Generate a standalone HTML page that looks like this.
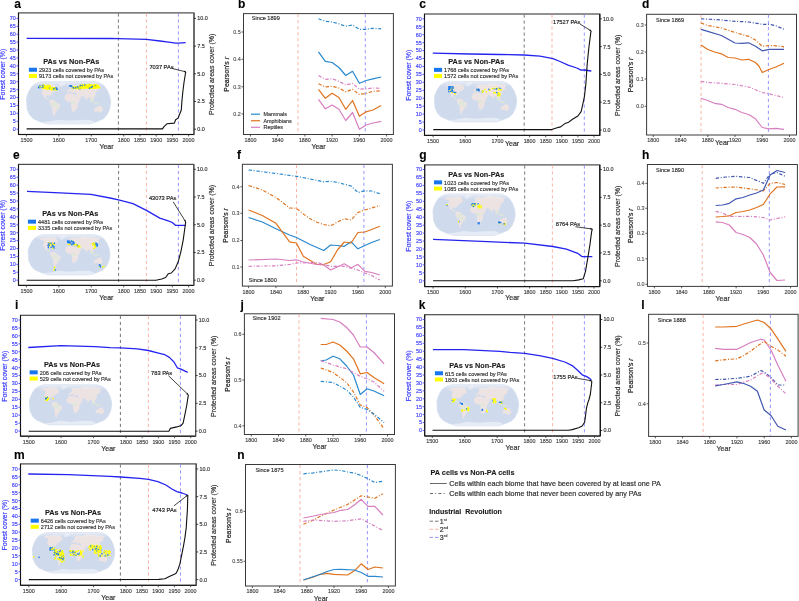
<!DOCTYPE html>
<html><head><meta charset="utf-8"><style>
html,body{margin:0;padding:0;background:#fff;}
svg{display:block;will-change:transform;}
text{font-family:"Liberation Sans", sans-serif;}
</style></head><body>
<svg width="799" height="601" viewBox="0 0 799 601">
<defs><linearGradient id="arc" x1="0" y1="0" x2="0" y2="1"><stop offset="0" stop-color="#f2f4f9" stop-opacity="0.85"/><stop offset="1" stop-color="#f2f4f9" stop-opacity="0"/></linearGradient></defs>
<rect width="799" height="601" fill="#fff"/>
<text x="14.30" y="8.20" font-size="12" fill="#000" text-anchor="start" font-weight="bold" stroke="#000" stroke-width="0.100">a</text>
<rect x="18.50" y="12.90" width="175.50" height="121.60" fill="none" stroke="#4a4a4a" stroke-width="1.2"/>
<line x1="18.50" y1="12.90" x2="18.50" y2="134.50" stroke="#111" stroke-width="1"/>
<line x1="18.50" y1="134.50" x2="194.00" y2="134.50" stroke="#111" stroke-width="1"/>
<line x1="194.00" y1="12.90" x2="194.00" y2="134.50" stroke="#555" stroke-width="1.2"/>
<line x1="16.50" y1="129.20" x2="18.50" y2="129.20" stroke="#3030ff" stroke-width="0.8"/>
<text x="15.70" y="131.10" font-size="5.4" fill="#3d3dff" text-anchor="end" stroke="#3d3dff" stroke-width="0.151">0</text>
<line x1="16.50" y1="121.29" x2="18.50" y2="121.29" stroke="#3030ff" stroke-width="0.8"/>
<text x="15.70" y="123.19" font-size="5.4" fill="#3d3dff" text-anchor="end" stroke="#3d3dff" stroke-width="0.151">5</text>
<line x1="16.50" y1="113.37" x2="18.50" y2="113.37" stroke="#3030ff" stroke-width="0.8"/>
<text x="15.70" y="115.27" font-size="5.4" fill="#3d3dff" text-anchor="end" stroke="#3d3dff" stroke-width="0.151">10</text>
<line x1="16.50" y1="105.46" x2="18.50" y2="105.46" stroke="#3030ff" stroke-width="0.8"/>
<text x="15.70" y="107.36" font-size="5.4" fill="#3d3dff" text-anchor="end" stroke="#3d3dff" stroke-width="0.151">15</text>
<line x1="16.50" y1="97.54" x2="18.50" y2="97.54" stroke="#3030ff" stroke-width="0.8"/>
<text x="15.70" y="99.44" font-size="5.4" fill="#3d3dff" text-anchor="end" stroke="#3d3dff" stroke-width="0.151">20</text>
<line x1="16.50" y1="89.63" x2="18.50" y2="89.63" stroke="#3030ff" stroke-width="0.8"/>
<text x="15.70" y="91.53" font-size="5.4" fill="#3d3dff" text-anchor="end" stroke="#3d3dff" stroke-width="0.151">25</text>
<line x1="16.50" y1="81.71" x2="18.50" y2="81.71" stroke="#3030ff" stroke-width="0.8"/>
<text x="15.70" y="83.61" font-size="5.4" fill="#3d3dff" text-anchor="end" stroke="#3d3dff" stroke-width="0.151">30</text>
<line x1="16.50" y1="73.80" x2="18.50" y2="73.80" stroke="#3030ff" stroke-width="0.8"/>
<text x="15.70" y="75.70" font-size="5.4" fill="#3d3dff" text-anchor="end" stroke="#3d3dff" stroke-width="0.151">35</text>
<line x1="16.50" y1="65.89" x2="18.50" y2="65.89" stroke="#3030ff" stroke-width="0.8"/>
<text x="15.70" y="67.79" font-size="5.4" fill="#3d3dff" text-anchor="end" stroke="#3d3dff" stroke-width="0.151">40</text>
<line x1="16.50" y1="57.97" x2="18.50" y2="57.97" stroke="#3030ff" stroke-width="0.8"/>
<text x="15.70" y="59.87" font-size="5.4" fill="#3d3dff" text-anchor="end" stroke="#3d3dff" stroke-width="0.151">45</text>
<line x1="16.50" y1="50.06" x2="18.50" y2="50.06" stroke="#3030ff" stroke-width="0.8"/>
<text x="15.70" y="51.96" font-size="5.4" fill="#3d3dff" text-anchor="end" stroke="#3d3dff" stroke-width="0.151">50</text>
<line x1="16.50" y1="42.14" x2="18.50" y2="42.14" stroke="#3030ff" stroke-width="0.8"/>
<text x="15.70" y="44.04" font-size="5.4" fill="#3d3dff" text-anchor="end" stroke="#3d3dff" stroke-width="0.151">55</text>
<line x1="16.50" y1="34.23" x2="18.50" y2="34.23" stroke="#3030ff" stroke-width="0.8"/>
<text x="15.70" y="36.13" font-size="5.4" fill="#3d3dff" text-anchor="end" stroke="#3d3dff" stroke-width="0.151">60</text>
<line x1="16.50" y1="26.31" x2="18.50" y2="26.31" stroke="#3030ff" stroke-width="0.8"/>
<text x="15.70" y="28.21" font-size="5.4" fill="#3d3dff" text-anchor="end" stroke="#3d3dff" stroke-width="0.151">65</text>
<line x1="16.50" y1="18.40" x2="18.50" y2="18.40" stroke="#3030ff" stroke-width="0.8"/>
<text x="15.70" y="20.30" font-size="5.4" fill="#3d3dff" text-anchor="end" stroke="#3d3dff" stroke-width="0.151">70</text>
<line x1="194.00" y1="129.20" x2="196.00" y2="129.20" stroke="#111" stroke-width="0.8"/>
<text x="197.20" y="131.10" font-size="5.4" fill="#333" text-anchor="start" stroke="#333" stroke-width="0.151">0.0</text>
<line x1="194.00" y1="101.50" x2="196.00" y2="101.50" stroke="#111" stroke-width="0.8"/>
<text x="197.20" y="103.40" font-size="5.4" fill="#333" text-anchor="start" stroke="#333" stroke-width="0.151">2.5</text>
<line x1="194.00" y1="73.80" x2="196.00" y2="73.80" stroke="#111" stroke-width="0.8"/>
<text x="197.20" y="75.70" font-size="5.4" fill="#333" text-anchor="start" stroke="#333" stroke-width="0.151">5.0</text>
<line x1="194.00" y1="46.10" x2="196.00" y2="46.10" stroke="#111" stroke-width="0.8"/>
<text x="197.20" y="48.00" font-size="5.4" fill="#333" text-anchor="start" stroke="#333" stroke-width="0.151">7.5</text>
<line x1="194.00" y1="18.40" x2="196.00" y2="18.40" stroke="#111" stroke-width="0.8"/>
<text x="197.20" y="20.30" font-size="5.4" fill="#333" text-anchor="start" stroke="#333" stroke-width="0.151">10.0</text>
<line x1="26.40" y1="134.50" x2="26.40" y2="136.50" stroke="#333" stroke-width="0.8"/>
<text x="26.40" y="141.90" font-size="5.4" fill="#444" text-anchor="middle" stroke="#444" stroke-width="0.151">1500</text>
<line x1="58.84" y1="134.50" x2="58.84" y2="136.50" stroke="#333" stroke-width="0.8"/>
<text x="58.84" y="141.90" font-size="5.4" fill="#444" text-anchor="middle" stroke="#444" stroke-width="0.151">1600</text>
<line x1="91.28" y1="134.50" x2="91.28" y2="136.50" stroke="#333" stroke-width="0.8"/>
<text x="91.28" y="141.90" font-size="5.4" fill="#444" text-anchor="middle" stroke="#444" stroke-width="0.151">1700</text>
<line x1="123.72" y1="134.50" x2="123.72" y2="136.50" stroke="#333" stroke-width="0.8"/>
<text x="123.72" y="141.90" font-size="5.4" fill="#444" text-anchor="middle" stroke="#444" stroke-width="0.151">1800</text>
<line x1="139.94" y1="134.50" x2="139.94" y2="136.50" stroke="#333" stroke-width="0.8"/>
<text x="139.94" y="141.90" font-size="5.4" fill="#444" text-anchor="middle" stroke="#444" stroke-width="0.151">1850</text>
<line x1="156.16" y1="134.50" x2="156.16" y2="136.50" stroke="#333" stroke-width="0.8"/>
<text x="156.16" y="141.90" font-size="5.4" fill="#444" text-anchor="middle" stroke="#444" stroke-width="0.151">1900</text>
<line x1="172.38" y1="134.50" x2="172.38" y2="136.50" stroke="#333" stroke-width="0.8"/>
<text x="172.38" y="141.90" font-size="5.4" fill="#444" text-anchor="middle" stroke="#444" stroke-width="0.151">1950</text>
<line x1="188.60" y1="134.50" x2="188.60" y2="136.50" stroke="#333" stroke-width="0.8"/>
<text x="188.60" y="141.90" font-size="5.4" fill="#444" text-anchor="middle" stroke="#444" stroke-width="0.151">2000</text>
<text x="5.40" y="74.20" font-size="6.9" fill="#3a3aff" text-anchor="middle" transform="rotate(-90 5.40 74.20)" stroke="#3a3aff" stroke-width="0.193">Forest cover (%)</text>
<text x="214.20" y="74.30" font-size="7.0" fill="#333" text-anchor="middle" transform="rotate(-90 214.20 74.30)" stroke="#333" stroke-width="0.196">Protected areas cover (%)</text>
<text x="99.40" y="148.85" font-size="7.0" fill="#333" text-anchor="start" stroke="#333" stroke-width="0.196">Year</text>
<line x1="118.40" y1="13.40" x2="118.40" y2="134.00" stroke="#6a6a6a" stroke-width="0.9" stroke-dasharray="3.2 2.8"/>
<line x1="146.40" y1="13.40" x2="146.40" y2="134.00" stroke="#f8ad9c" stroke-width="0.9" stroke-dasharray="3.2 2.8"/>
<line x1="178.40" y1="13.40" x2="178.40" y2="134.00" stroke="#8c8cff" stroke-width="0.9" stroke-dasharray="3.2 2.8"/>
<path d="M95.39,81.70 L98.35,82.54 L101.30,83.81 L104.39,86.13 L107.14,90.14 L108.99,94.36 L110.18,98.58 L110.60,102.80 L109.54,109.13 L106.88,114.89 L103.42,118.63 L97.08,121.49 L92.43,123.06 L89.47,123.90 L47.22,123.90 L44.27,123.06 L39.62,121.49 L33.28,118.63 L29.82,114.89 L27.16,109.13 L26.52,98.58 L27.71,94.36 L29.56,90.14 L32.31,86.13 L35.39,83.81 L38.35,82.54 L41.31,81.70Z" fill="#cfdaec" stroke="#d3ddee" stroke-width="0.8" stroke-linejoin="round"/>
<clipPath id="mc1"><path d="M95.39,81.70 L98.35,82.54 L101.30,83.81 L104.39,86.13 L107.14,90.14 L108.99,94.36 L110.18,98.58 L110.60,102.80 L109.54,109.13 L106.88,114.89 L103.42,118.63 L97.08,121.49 L92.43,123.06 L89.47,123.90 L47.22,123.90 L44.27,123.06 L39.62,121.49 L33.28,118.63 L29.82,114.89 L27.16,109.13 L26.52,98.58 L27.71,94.36 L29.56,90.14 L32.31,86.13 L35.39,83.81 L38.35,82.54 L41.31,81.70Z"/></clipPath><g clip-path="url(#mc1)">
<path d="M39.88,85.45 L44.74,85.00 L48.62,84.58 L52.73,84.58 L54.86,85.00 L56.40,86.83 L57.32,89.27 L54.39,91.30 L51.53,93.64 L49.85,96.26 L48.07,94.95 L46.26,96.00 L45.99,97.57 L47.47,98.61 L48.72,100.18 L50.10,100.71 L48.34,99.14 L46.95,99.14 L44.14,97.57 L43.11,94.95 L42.14,93.90 L41.53,92.34 L42.55,90.28 L42.58,87.79 L40.23,87.30 L38.02,86.83Z" fill="#ede3e3"/>
<path d="M60.58,82.67 L64.18,82.51 L65.19,83.95 L63.17,85.45 L60.48,87.30 L59.08,86.12 L59.19,83.95Z" fill="#e2e8f2"/>
<path d="M49.65,100.45 L51.56,99.66 L54.33,100.18 L56.61,102.80 L60.15,104.37 L59.16,108.56 L57.45,109.86 L55.69,112.74 L54.44,113.78 L54.92,116.83 L53.28,115.83 L52.42,111.96 L52.16,107.51 L49.60,104.11Z" fill="#ede3e3"/>
<path d="M66.15,93.38 L66.44,91.56 L67.94,90.28 L69.35,89.27 L69.89,88.03 L69.27,86.83 L70.91,85.23 L73.35,84.79 L75.25,85.45 L78.47,85.00 L81.33,84.37 L83.66,83.56 L87.82,84.37 L91.37,84.58 L95.34,85.00 L99.41,85.45 L100.78,86.36 L98.34,87.30 L99.45,89.27 L97.61,90.79 L96.16,91.82 L95.10,93.12 L95.84,94.95 L93.71,97.57 L93.53,99.66 L91.74,100.71 L92.75,102.54 L91.28,100.71 L90.39,98.61 L89.02,97.04 L86.94,98.88 L86.36,100.71 L84.95,97.57 L82.51,96.26 L81.11,96.00 L80.43,98.88 L78.61,99.66 L76.28,95.47 L76.28,93.38 L74.37,92.08 L73.64,93.38 L71.62,92.86 L70.89,91.30 L69.41,91.56Z" fill="#ede3e3"/>
<path d="M64.44,97.31 L66.12,94.17 L70.54,93.12 L72.82,94.43 L75.53,94.69 L76.28,95.47 L78.61,99.66 L80.25,99.92 L77.73,103.58 L77.64,106.72 L76.36,109.08 L75.09,110.91 L72.78,111.96 L71.97,110.13 L71.14,106.72 L71.40,104.11 L70.46,102.02 L67.18,101.49 L64.85,99.92Z" fill="#ede3e3"/>
<path d="M94.53,108.56 L96.57,107.51 L98.66,105.94 L100.29,105.94 L101.72,105.68 L102.06,107.77 L103.20,109.60 L101.88,111.70 L100.08,113.00 L98.89,111.96 L97.43,111.17 L94.02,111.96 L94.32,109.60Z" fill="#ede3e3"/>
<path d="M41.22,122.23 L49.13,121.44 L57.77,119.70 L68.35,120.60 L78.82,119.92 L89.52,119.70 L95.48,122.23 L90.84,123.90 L45.86,123.90Z" fill="#e6ecf5"/>
<ellipse cx="53.83" cy="104.37" rx="3.29" ry="2.34" fill="#dde6d8" opacity="0.8"/>
<ellipse cx="57.25" cy="107.51" rx="1.41" ry="1.88" fill="#dde6d8" opacity="0.8"/>
<ellipse cx="73.04" cy="102.28" rx="2.82" ry="1.64" fill="#dde6d8" opacity="0.8"/>
<ellipse cx="92.21" cy="100.71" rx="2.35" ry="1.88" fill="#dde6d8" opacity="0.8"/>
<ellipse cx="96.50" cy="103.32" rx="2.82" ry="1.17" fill="#dde6d8" opacity="0.8"/>
<ellipse cx="47.44" cy="98.88" rx="1.41" ry="0.94" fill="#dde6d8" opacity="0.8"/>
<rect x="26.10" y="80.70" width="84.50" height="6.13" fill="url(#arc)"/>
</g>
<rect x="41.50" y="85.30" width="9.00" height="3.70" rx="1.85" fill="#ffff00"/>
<rect x="50.00" y="87.30" width="7.30" height="3.00" rx="1.50" fill="#ffff00"/>
<rect x="79.00" y="84.60" width="20.50" height="3.80" rx="1.90" fill="#ffff00"/>
<rect x="74.00" y="86.30" width="8.00" height="2.90" rx="1.45" fill="#ffff00"/>
<rect x="38.96" y="85.20" width="1.35" height="1.35" fill="#ffff00"/>
<rect x="38.08" y="86.16" width="1.35" height="1.35" fill="#1877ee"/>
<rect x="38.03" y="86.09" width="1.35" height="1.35" fill="#1877ee"/>
<rect x="39.34" y="85.00" width="1.35" height="1.35" fill="#1877ee"/>
<rect x="39.31" y="86.89" width="1.35" height="1.35" fill="#1877ee"/>
<rect x="38.61" y="86.39" width="1.35" height="1.35" fill="#ffff00"/>
<rect x="39.84" y="85.82" width="1.35" height="1.35" fill="#ffff00"/>
<rect x="37.99" y="86.97" width="1.35" height="1.35" fill="#1877ee"/>
<rect x="42.62" y="84.86" width="1.35" height="1.35" fill="#ffff00"/>
<rect x="48.67" y="85.14" width="1.35" height="1.35" fill="#ffff00"/>
<rect x="47.08" y="86.00" width="1.35" height="1.35" fill="#ffff00"/>
<rect x="41.89" y="84.59" width="1.35" height="1.35" fill="#1877ee"/>
<rect x="47.45" y="86.25" width="1.35" height="1.35" fill="#ffff00"/>
<rect x="46.60" y="86.36" width="1.35" height="1.35" fill="#ffff00"/>
<rect x="48.47" y="87.47" width="1.35" height="1.35" fill="#1877ee"/>
<rect x="46.49" y="86.69" width="1.35" height="1.35" fill="#ffff00"/>
<rect x="47.89" y="85.62" width="1.35" height="1.35" fill="#ffff00"/>
<rect x="42.39" y="86.21" width="1.35" height="1.35" fill="#ffff00"/>
<rect x="42.69" y="86.53" width="1.35" height="1.35" fill="#1877ee"/>
<rect x="47.34" y="87.77" width="1.35" height="1.35" fill="#ffff00"/>
<rect x="49.20" y="85.74" width="1.35" height="1.35" fill="#ffff00"/>
<rect x="46.67" y="86.93" width="1.35" height="1.35" fill="#ffff00"/>
<rect x="48.88" y="88.58" width="1.35" height="1.35" fill="#ffff00"/>
<rect x="47.30" y="84.60" width="1.35" height="1.35" fill="#ffff00"/>
<rect x="47.15" y="88.79" width="1.35" height="1.35" fill="#ffff00"/>
<rect x="43.89" y="86.06" width="1.35" height="1.35" fill="#ffff00"/>
<rect x="41.53" y="86.40" width="1.35" height="1.35" fill="#1877ee"/>
<rect x="42.38" y="84.59" width="1.35" height="1.35" fill="#ffff00"/>
<rect x="42.49" y="85.44" width="1.35" height="1.35" fill="#ffff00"/>
<rect x="49.17" y="84.69" width="1.35" height="1.35" fill="#ffff00"/>
<rect x="46.27" y="88.30" width="1.35" height="1.35" fill="#ffff00"/>
<rect x="49.10" y="85.58" width="1.35" height="1.35" fill="#ffff00"/>
<rect x="44.55" y="88.30" width="1.35" height="1.35" fill="#ffff00"/>
<rect x="42.68" y="85.12" width="1.35" height="1.35" fill="#1877ee"/>
<rect x="43.43" y="86.51" width="1.35" height="1.35" fill="#ffff00"/>
<rect x="43.69" y="84.34" width="1.35" height="1.35" fill="#ffff00"/>
<rect x="44.65" y="86.87" width="1.35" height="1.35" fill="#ffff00"/>
<rect x="47.54" y="86.64" width="1.35" height="1.35" fill="#ffff00"/>
<rect x="54.72" y="86.99" width="1.35" height="1.35" fill="#ffff00"/>
<rect x="55.39" y="89.45" width="1.35" height="1.35" fill="#ffff00"/>
<rect x="52.88" y="88.02" width="1.35" height="1.35" fill="#1877ee"/>
<rect x="54.45" y="87.01" width="1.35" height="1.35" fill="#1877ee"/>
<rect x="51.68" y="87.31" width="1.35" height="1.35" fill="#ffff00"/>
<rect x="50.67" y="86.83" width="1.35" height="1.35" fill="#ffff00"/>
<rect x="50.98" y="87.92" width="1.35" height="1.35" fill="#1877ee"/>
<rect x="56.01" y="88.67" width="1.35" height="1.35" fill="#1877ee"/>
<rect x="51.96" y="87.87" width="1.35" height="1.35" fill="#ffff00"/>
<rect x="51.12" y="89.37" width="1.35" height="1.35" fill="#ffff00"/>
<rect x="53.35" y="88.28" width="1.35" height="1.35" fill="#1877ee"/>
<rect x="50.99" y="87.85" width="1.35" height="1.35" fill="#ffff00"/>
<rect x="55.71" y="87.31" width="1.35" height="1.35" fill="#1877ee"/>
<rect x="56.51" y="88.41" width="1.35" height="1.35" fill="#1877ee"/>
<rect x="53.86" y="86.91" width="1.35" height="1.35" fill="#ffff00"/>
<rect x="73.23" y="87.35" width="1.35" height="1.35" fill="#1877ee"/>
<rect x="70.00" y="85.61" width="1.35" height="1.35" fill="#1877ee"/>
<rect x="72.30" y="86.19" width="1.35" height="1.35" fill="#ffff00"/>
<rect x="70.31" y="85.11" width="1.35" height="1.35" fill="#ffff00"/>
<rect x="73.26" y="87.31" width="1.35" height="1.35" fill="#ffff00"/>
<rect x="72.51" y="86.91" width="1.35" height="1.35" fill="#1877ee"/>
<rect x="71.15" y="85.57" width="1.35" height="1.35" fill="#1877ee"/>
<rect x="68.95" y="85.30" width="1.35" height="1.35" fill="#1877ee"/>
<rect x="71.94" y="87.67" width="1.35" height="1.35" fill="#1877ee"/>
<rect x="73.04" y="87.78" width="1.35" height="1.35" fill="#ffff00"/>
<rect x="70.47" y="85.10" width="1.35" height="1.35" fill="#1877ee"/>
<rect x="69.71" y="85.04" width="1.35" height="1.35" fill="#1877ee"/>
<rect x="72.88" y="87.27" width="1.35" height="1.35" fill="#1877ee"/>
<rect x="71.76" y="87.12" width="1.35" height="1.35" fill="#1877ee"/>
<rect x="71.80" y="87.51" width="1.35" height="1.35" fill="#ffff00"/>
<rect x="77.83" y="87.26" width="1.35" height="1.35" fill="#1877ee"/>
<rect x="78.06" y="86.82" width="1.35" height="1.35" fill="#ffff00"/>
<rect x="79.15" y="87.01" width="1.35" height="1.35" fill="#1877ee"/>
<rect x="79.01" y="88.00" width="1.35" height="1.35" fill="#1877ee"/>
<rect x="74.09" y="86.28" width="1.35" height="1.35" fill="#ffff00"/>
<rect x="78.16" y="86.26" width="1.35" height="1.35" fill="#ffff00"/>
<rect x="79.21" y="87.80" width="1.35" height="1.35" fill="#1877ee"/>
<rect x="76.62" y="86.22" width="1.35" height="1.35" fill="#1877ee"/>
<rect x="79.15" y="87.77" width="1.35" height="1.35" fill="#ffff00"/>
<rect x="78.93" y="87.13" width="1.35" height="1.35" fill="#ffff00"/>
<rect x="78.28" y="86.46" width="1.35" height="1.35" fill="#1877ee"/>
<rect x="75.08" y="86.55" width="1.35" height="1.35" fill="#ffff00"/>
<rect x="74.88" y="87.08" width="1.35" height="1.35" fill="#1877ee"/>
<rect x="78.79" y="86.89" width="1.35" height="1.35" fill="#ffff00"/>
<rect x="90.99" y="87.44" width="1.35" height="1.35" fill="#ffff00"/>
<rect x="97.68" y="85.83" width="1.35" height="1.35" fill="#ffff00"/>
<rect x="89.80" y="83.90" width="1.35" height="1.35" fill="#ffff00"/>
<rect x="82.99" y="83.84" width="1.35" height="1.35" fill="#ffff00"/>
<rect x="82.77" y="85.72" width="1.35" height="1.35" fill="#ffff00"/>
<rect x="90.45" y="85.13" width="1.35" height="1.35" fill="#ffff00"/>
<rect x="90.43" y="86.96" width="1.35" height="1.35" fill="#1877ee"/>
<rect x="90.53" y="84.82" width="1.35" height="1.35" fill="#ffff00"/>
<rect x="94.77" y="85.86" width="1.35" height="1.35" fill="#ffff00"/>
<rect x="94.52" y="87.47" width="1.35" height="1.35" fill="#ffff00"/>
<rect x="91.58" y="85.85" width="1.35" height="1.35" fill="#ffff00"/>
<rect x="93.18" y="85.63" width="1.35" height="1.35" fill="#ffff00"/>
<rect x="88.89" y="87.59" width="1.35" height="1.35" fill="#ffff00"/>
<rect x="96.86" y="87.59" width="1.35" height="1.35" fill="#ffff00"/>
<rect x="90.52" y="87.60" width="1.35" height="1.35" fill="#ffff00"/>
<rect x="82.07" y="84.31" width="1.35" height="1.35" fill="#ffff00"/>
<rect x="80.78" y="84.79" width="1.35" height="1.35" fill="#1877ee"/>
<rect x="92.71" y="86.96" width="1.35" height="1.35" fill="#ffff00"/>
<rect x="82.41" y="86.69" width="1.35" height="1.35" fill="#ffff00"/>
<rect x="82.18" y="87.36" width="1.35" height="1.35" fill="#ffff00"/>
<rect x="83.72" y="87.64" width="1.35" height="1.35" fill="#ffff00"/>
<rect x="89.07" y="87.78" width="1.35" height="1.35" fill="#ffff00"/>
<rect x="82.55" y="85.55" width="1.35" height="1.35" fill="#ffff00"/>
<rect x="86.11" y="84.61" width="1.35" height="1.35" fill="#ffff00"/>
<rect x="93.77" y="83.90" width="1.35" height="1.35" fill="#ffff00"/>
<rect x="88.13" y="83.90" width="1.35" height="1.35" fill="#ffff00"/>
<rect x="91.80" y="85.87" width="1.35" height="1.35" fill="#1877ee"/>
<rect x="99.03" y="86.98" width="1.35" height="1.35" fill="#ffff00"/>
<rect x="81.42" y="84.89" width="1.35" height="1.35" fill="#1877ee"/>
<rect x="94.90" y="84.91" width="1.35" height="1.35" fill="#1877ee"/>
<rect x="87.77" y="87.47" width="1.35" height="1.35" fill="#ffff00"/>
<rect x="84.50" y="84.42" width="1.35" height="1.35" fill="#ffff00"/>
<rect x="90.74" y="86.63" width="1.35" height="1.35" fill="#1877ee"/>
<rect x="80.48" y="86.58" width="1.35" height="1.35" fill="#ffff00"/>
<rect x="80.77" y="87.58" width="1.35" height="1.35" fill="#ffff00"/>
<rect x="95.36" y="84.16" width="1.35" height="1.35" fill="#ffff00"/>
<rect x="80.66" y="87.28" width="1.35" height="1.35" fill="#ffff00"/>
<rect x="86.11" y="86.04" width="1.35" height="1.35" fill="#ffff00"/>
<rect x="84.68" y="84.34" width="1.35" height="1.35" fill="#ffff00"/>
<rect x="84.09" y="84.26" width="1.35" height="1.35" fill="#1877ee"/>
<rect x="80.33" y="84.63" width="1.35" height="1.35" fill="#ffff00"/>
<rect x="85.43" y="86.86" width="1.35" height="1.35" fill="#ffff00"/>
<rect x="89.33" y="84.54" width="1.35" height="1.35" fill="#ffff00"/>
<rect x="79.69" y="84.83" width="1.35" height="1.35" fill="#1877ee"/>
<rect x="93.99" y="86.03" width="1.35" height="1.35" fill="#ffff00"/>
<rect x="88.82" y="87.56" width="1.35" height="1.35" fill="#1877ee"/>
<rect x="95.70" y="85.55" width="1.35" height="1.35" fill="#ffff00"/>
<rect x="96.02" y="85.40" width="1.35" height="1.35" fill="#ffff00"/>
<rect x="93.08" y="87.75" width="1.35" height="1.35" fill="#ffff00"/>
<rect x="95.97" y="86.65" width="1.35" height="1.35" fill="#ffff00"/>
<text x="43.20" y="64.00" font-size="7.3" fill="#1a1a1a" text-anchor="start" font-weight="bold" stroke="#1a1a1a" stroke-width="0.100">PAs vs Non-PAs</text>
<rect x="28.90" y="67.75" width="8.1" height="4.0" fill="#1877ee"/>
<text x="39.00" y="72.00" font-size="5.55" fill="#333" text-anchor="start" stroke="#333" stroke-width="0.155">2923 cells covered by PAs</text>
<rect x="28.90" y="73.95" width="8.1" height="4.0" fill="#ffff00"/>
<text x="39.00" y="78.20" font-size="5.55" fill="#333" text-anchor="start" stroke="#333" stroke-width="0.155">9173 cells not covered by PAs</text>
<polyline points="26.60,38.30 110.00,38.50 118.40,38.60 146.40,39.40 160.00,41.00 168.60,42.20 175.60,43.20 178.40,43.10 185.70,42.70" fill="none" stroke="#2424f0" stroke-width="1.3" stroke-linejoin="round" stroke-linecap="butt"/>
<polyline points="26.60,128.90 162.50,128.90 163.80,126.90 166.90,123.80 174.40,123.10 175.60,119.80 178.10,118.10 179.80,113.80 181.30,110.00 181.90,101.30 182.90,91.30 184.00,82.50 185.60,72.50 186.00,71.90" fill="none" stroke="#111111" stroke-width="1.1" stroke-linejoin="round" stroke-linecap="butt"/>
<text x="149.40" y="69.40" font-size="5.7" fill="#222" text-anchor="start" stroke="#222" stroke-width="0.160">7037 PAs</text>
<line x1="171.90" y1="68.40" x2="186.00" y2="71.90" stroke="#111" stroke-width="0.8"/>
<polygon points="186.00,71.90 183.85,72.35 184.31,70.49" fill="#111"/>
<text x="419.30" y="8.20" font-size="12" fill="#000" text-anchor="start" font-weight="bold" stroke="#000" stroke-width="0.100">c</text>
<rect x="424.50" y="14.00" width="175.30" height="121.40" fill="none" stroke="#4a4a4a" stroke-width="1.2"/>
<line x1="424.50" y1="14.00" x2="424.50" y2="135.40" stroke="#111" stroke-width="1"/>
<line x1="424.50" y1="135.40" x2="599.80" y2="135.40" stroke="#111" stroke-width="1"/>
<line x1="599.80" y1="14.00" x2="599.80" y2="135.40" stroke="#111" stroke-width="1.2"/>
<line x1="422.50" y1="130.00" x2="424.50" y2="130.00" stroke="#3030ff" stroke-width="0.8"/>
<text x="421.70" y="131.90" font-size="5.4" fill="#3d3dff" text-anchor="end" stroke="#3d3dff" stroke-width="0.151">0</text>
<line x1="422.50" y1="122.06" x2="424.50" y2="122.06" stroke="#3030ff" stroke-width="0.8"/>
<text x="421.70" y="123.96" font-size="5.4" fill="#3d3dff" text-anchor="end" stroke="#3d3dff" stroke-width="0.151">5</text>
<line x1="422.50" y1="114.11" x2="424.50" y2="114.11" stroke="#3030ff" stroke-width="0.8"/>
<text x="421.70" y="116.01" font-size="5.4" fill="#3d3dff" text-anchor="end" stroke="#3d3dff" stroke-width="0.151">10</text>
<line x1="422.50" y1="106.17" x2="424.50" y2="106.17" stroke="#3030ff" stroke-width="0.8"/>
<text x="421.70" y="108.07" font-size="5.4" fill="#3d3dff" text-anchor="end" stroke="#3d3dff" stroke-width="0.151">15</text>
<line x1="422.50" y1="98.23" x2="424.50" y2="98.23" stroke="#3030ff" stroke-width="0.8"/>
<text x="421.70" y="100.13" font-size="5.4" fill="#3d3dff" text-anchor="end" stroke="#3d3dff" stroke-width="0.151">20</text>
<line x1="422.50" y1="90.29" x2="424.50" y2="90.29" stroke="#3030ff" stroke-width="0.8"/>
<text x="421.70" y="92.19" font-size="5.4" fill="#3d3dff" text-anchor="end" stroke="#3d3dff" stroke-width="0.151">25</text>
<line x1="422.50" y1="82.34" x2="424.50" y2="82.34" stroke="#3030ff" stroke-width="0.8"/>
<text x="421.70" y="84.24" font-size="5.4" fill="#3d3dff" text-anchor="end" stroke="#3d3dff" stroke-width="0.151">30</text>
<line x1="422.50" y1="74.40" x2="424.50" y2="74.40" stroke="#3030ff" stroke-width="0.8"/>
<text x="421.70" y="76.30" font-size="5.4" fill="#3d3dff" text-anchor="end" stroke="#3d3dff" stroke-width="0.151">35</text>
<line x1="422.50" y1="66.46" x2="424.50" y2="66.46" stroke="#3030ff" stroke-width="0.8"/>
<text x="421.70" y="68.36" font-size="5.4" fill="#3d3dff" text-anchor="end" stroke="#3d3dff" stroke-width="0.151">40</text>
<line x1="422.50" y1="58.51" x2="424.50" y2="58.51" stroke="#3030ff" stroke-width="0.8"/>
<text x="421.70" y="60.41" font-size="5.4" fill="#3d3dff" text-anchor="end" stroke="#3d3dff" stroke-width="0.151">45</text>
<line x1="422.50" y1="50.57" x2="424.50" y2="50.57" stroke="#3030ff" stroke-width="0.8"/>
<text x="421.70" y="52.47" font-size="5.4" fill="#3d3dff" text-anchor="end" stroke="#3d3dff" stroke-width="0.151">50</text>
<line x1="422.50" y1="42.63" x2="424.50" y2="42.63" stroke="#3030ff" stroke-width="0.8"/>
<text x="421.70" y="44.53" font-size="5.4" fill="#3d3dff" text-anchor="end" stroke="#3d3dff" stroke-width="0.151">55</text>
<line x1="422.50" y1="34.69" x2="424.50" y2="34.69" stroke="#3030ff" stroke-width="0.8"/>
<text x="421.70" y="36.59" font-size="5.4" fill="#3d3dff" text-anchor="end" stroke="#3d3dff" stroke-width="0.151">60</text>
<line x1="422.50" y1="26.74" x2="424.50" y2="26.74" stroke="#3030ff" stroke-width="0.8"/>
<text x="421.70" y="28.64" font-size="5.4" fill="#3d3dff" text-anchor="end" stroke="#3d3dff" stroke-width="0.151">65</text>
<line x1="422.50" y1="18.80" x2="424.50" y2="18.80" stroke="#3030ff" stroke-width="0.8"/>
<text x="421.70" y="20.70" font-size="5.4" fill="#3d3dff" text-anchor="end" stroke="#3d3dff" stroke-width="0.151">70</text>
<line x1="599.80" y1="130.00" x2="601.80" y2="130.00" stroke="#111" stroke-width="0.8"/>
<text x="603.00" y="131.90" font-size="5.4" fill="#333" text-anchor="start" stroke="#333" stroke-width="0.151">0.0</text>
<line x1="599.80" y1="102.20" x2="601.80" y2="102.20" stroke="#111" stroke-width="0.8"/>
<text x="603.00" y="104.10" font-size="5.4" fill="#333" text-anchor="start" stroke="#333" stroke-width="0.151">2.5</text>
<line x1="599.80" y1="74.40" x2="601.80" y2="74.40" stroke="#111" stroke-width="0.8"/>
<text x="603.00" y="76.30" font-size="5.4" fill="#333" text-anchor="start" stroke="#333" stroke-width="0.151">5.0</text>
<line x1="599.80" y1="46.60" x2="601.80" y2="46.60" stroke="#111" stroke-width="0.8"/>
<text x="603.00" y="48.50" font-size="5.4" fill="#333" text-anchor="start" stroke="#333" stroke-width="0.151">7.5</text>
<line x1="599.80" y1="18.80" x2="601.80" y2="18.80" stroke="#111" stroke-width="0.8"/>
<text x="603.00" y="20.70" font-size="5.4" fill="#333" text-anchor="start" stroke="#333" stroke-width="0.151">10.0</text>
<line x1="433.10" y1="135.40" x2="433.10" y2="137.40" stroke="#333" stroke-width="0.8"/>
<text x="433.10" y="142.80" font-size="5.4" fill="#444" text-anchor="middle" stroke="#444" stroke-width="0.151">1500</text>
<line x1="465.28" y1="135.40" x2="465.28" y2="137.40" stroke="#333" stroke-width="0.8"/>
<text x="465.28" y="142.80" font-size="5.4" fill="#444" text-anchor="middle" stroke="#444" stroke-width="0.151">1600</text>
<line x1="497.46" y1="135.40" x2="497.46" y2="137.40" stroke="#333" stroke-width="0.8"/>
<text x="497.46" y="142.80" font-size="5.4" fill="#444" text-anchor="middle" stroke="#444" stroke-width="0.151">1700</text>
<line x1="529.64" y1="135.40" x2="529.64" y2="137.40" stroke="#333" stroke-width="0.8"/>
<text x="529.64" y="142.80" font-size="5.4" fill="#444" text-anchor="middle" stroke="#444" stroke-width="0.151">1800</text>
<line x1="545.73" y1="135.40" x2="545.73" y2="137.40" stroke="#333" stroke-width="0.8"/>
<text x="545.73" y="142.80" font-size="5.4" fill="#444" text-anchor="middle" stroke="#444" stroke-width="0.151">1850</text>
<line x1="561.82" y1="135.40" x2="561.82" y2="137.40" stroke="#333" stroke-width="0.8"/>
<text x="561.82" y="142.80" font-size="5.4" fill="#444" text-anchor="middle" stroke="#444" stroke-width="0.151">1900</text>
<line x1="577.91" y1="135.40" x2="577.91" y2="137.40" stroke="#333" stroke-width="0.8"/>
<text x="577.91" y="142.80" font-size="5.4" fill="#444" text-anchor="middle" stroke="#444" stroke-width="0.151">1950</text>
<line x1="594.00" y1="135.40" x2="594.00" y2="137.40" stroke="#333" stroke-width="0.8"/>
<text x="594.00" y="142.80" font-size="5.4" fill="#444" text-anchor="middle" stroke="#444" stroke-width="0.151">2000</text>
<text x="411.30" y="75.20" font-size="6.9" fill="#3a3aff" text-anchor="middle" transform="rotate(-90 411.30 75.20)" stroke="#3a3aff" stroke-width="0.193">Forest cover (%)</text>
<text x="620.00" y="75.30" font-size="7.0" fill="#333" text-anchor="middle" transform="rotate(-90 620.00 75.30)" stroke="#333" stroke-width="0.196">Protected areas cover (%)</text>
<text x="505.00" y="145.60" font-size="7.0" fill="#333" text-anchor="start" stroke="#333" stroke-width="0.196">Year</text>
<line x1="524.20" y1="14.50" x2="524.20" y2="134.90" stroke="#6a6a6a" stroke-width="0.9" stroke-dasharray="3.2 2.8"/>
<line x1="552.00" y1="14.50" x2="552.00" y2="134.90" stroke="#f8ad9c" stroke-width="0.9" stroke-dasharray="3.2 2.8"/>
<line x1="584.30" y1="14.50" x2="584.30" y2="134.90" stroke="#8c8cff" stroke-width="0.9" stroke-dasharray="3.2 2.8"/>
<path d="M501.81,81.40 L504.71,82.21 L507.60,83.42 L510.62,85.64 L513.31,89.48 L515.13,93.52 L516.29,97.56 L516.70,101.60 L515.67,107.66 L513.06,113.17 L509.67,116.75 L503.47,119.50 L498.92,120.99 L496.03,121.80 L454.68,121.80 L451.78,120.99 L447.23,119.50 L441.03,116.75 L437.64,113.17 L435.03,107.66 L434.41,97.56 L435.57,93.52 L437.39,89.48 L440.08,85.64 L443.10,83.42 L445.99,82.21 L448.89,81.40Z" fill="#cfdaec" stroke="#d3ddee" stroke-width="0.8" stroke-linejoin="round"/>
<clipPath id="mc2"><path d="M501.81,81.40 L504.71,82.21 L507.60,83.42 L510.62,85.64 L513.31,89.48 L515.13,93.52 L516.29,97.56 L516.70,101.60 L515.67,107.66 L513.06,113.17 L509.67,116.75 L503.47,119.50 L498.92,120.99 L496.03,121.80 L454.68,121.80 L451.78,120.99 L447.23,119.50 L441.03,116.75 L437.64,113.17 L435.03,107.66 L434.41,97.56 L435.57,93.52 L437.39,89.48 L440.08,85.64 L443.10,83.42 L445.99,82.21 L448.89,81.40Z"/></clipPath><g clip-path="url(#mc2)">
<path d="M447.49,84.99 L452.24,84.56 L456.04,84.16 L460.06,84.16 L462.14,84.56 L463.66,86.31 L464.55,88.65 L461.69,90.59 L458.89,92.83 L457.24,95.34 L455.50,94.09 L453.73,95.09 L453.46,96.59 L454.91,97.59 L456.14,99.10 L457.49,99.60 L455.77,98.09 L454.40,98.09 L451.66,96.59 L450.65,94.09 L449.70,93.08 L449.10,91.58 L450.10,89.61 L450.13,87.23 L447.83,86.76 L445.67,86.31Z" fill="#ede3e3"/>
<path d="M467.75,82.33 L471.27,82.18 L472.26,83.55 L470.28,84.99 L467.64,86.76 L466.27,85.64 L466.38,83.55Z" fill="#e2e8f2"/>
<path d="M457.04,99.35 L458.92,98.59 L461.63,99.10 L463.86,101.60 L467.33,103.10 L466.36,107.11 L464.68,108.36 L462.96,111.12 L461.74,112.11 L462.20,115.03 L460.60,114.08 L459.76,110.37 L459.51,106.11 L457.00,102.85Z" fill="#ede3e3"/>
<path d="M473.19,92.58 L473.48,90.84 L474.95,89.61 L476.33,88.65 L476.86,87.46 L476.25,86.31 L477.85,84.78 L480.24,84.36 L482.10,84.99 L485.25,84.56 L488.06,83.95 L490.34,83.18 L494.41,83.95 L497.88,84.16 L501.76,84.56 L505.74,84.99 L507.09,85.86 L504.70,86.76 L505.78,88.65 L503.99,90.10 L502.57,91.09 L501.53,92.33 L502.26,94.09 L500.17,96.59 L499.99,98.59 L498.25,99.60 L499.23,101.35 L497.79,99.60 L496.92,97.59 L495.58,96.09 L493.54,97.84 L492.98,99.60 L491.60,96.59 L489.21,95.34 L487.83,95.09 L487.18,97.84 L485.39,98.59 L483.11,94.59 L483.11,92.58 L481.25,91.34 L480.52,92.58 L478.55,92.08 L477.83,90.59 L476.39,90.84Z" fill="#ede3e3"/>
<path d="M471.52,96.34 L473.17,93.33 L477.50,92.33 L479.73,93.58 L482.38,93.84 L483.11,94.59 L485.39,98.59 L487.00,98.84 L484.53,102.35 L484.45,105.36 L483.19,107.61 L481.94,109.36 L479.68,110.37 L478.90,108.61 L478.08,105.36 L478.33,102.85 L477.42,100.85 L474.20,100.35 L471.92,98.84Z" fill="#ede3e3"/>
<path d="M500.98,107.11 L502.96,106.11 L505.01,104.61 L506.61,104.61 L508.01,104.36 L508.34,106.36 L509.46,108.11 L508.17,110.12 L506.40,111.37 L505.24,110.37 L503.81,109.62 L500.47,110.37 L500.76,108.11Z" fill="#ede3e3"/>
<path d="M448.80,120.21 L456.54,119.45 L464.99,117.78 L475.35,118.64 L485.59,117.99 L496.07,117.78 L501.90,120.21 L497.36,121.80 L453.34,121.80Z" fill="#e6ecf5"/>
<ellipse cx="461.14" cy="103.10" rx="3.22" ry="2.24" fill="#dde6d8" opacity="0.8"/>
<ellipse cx="464.49" cy="106.11" rx="1.38" ry="1.80" fill="#dde6d8" opacity="0.8"/>
<ellipse cx="479.94" cy="101.10" rx="2.76" ry="1.57" fill="#dde6d8" opacity="0.8"/>
<ellipse cx="498.70" cy="99.60" rx="2.30" ry="1.80" fill="#dde6d8" opacity="0.8"/>
<ellipse cx="502.90" cy="102.10" rx="2.76" ry="1.12" fill="#dde6d8" opacity="0.8"/>
<ellipse cx="454.88" cy="97.84" rx="1.38" ry="0.90" fill="#dde6d8" opacity="0.8"/>
<rect x="434.00" y="80.40" width="82.70" height="5.91" fill="url(#arc)"/>
</g>
<rect x="449.54" y="86.66" width="1.35" height="1.35" fill="#1877ee"/>
<rect x="448.29" y="89.05" width="1.35" height="1.35" fill="#1877ee"/>
<rect x="448.21" y="88.87" width="1.35" height="1.35" fill="#1877ee"/>
<rect x="450.09" y="86.16" width="1.35" height="1.35" fill="#1877ee"/>
<rect x="450.05" y="90.85" width="1.35" height="1.35" fill="#1877ee"/>
<rect x="449.04" y="89.62" width="1.35" height="1.35" fill="#ffff00"/>
<rect x="450.81" y="88.18" width="1.35" height="1.35" fill="#ffff00"/>
<rect x="448.16" y="91.05" width="1.35" height="1.35" fill="#1877ee"/>
<rect x="448.65" y="86.46" width="1.35" height="1.35" fill="#1877ee"/>
<rect x="452.01" y="86.85" width="1.35" height="1.35" fill="#1877ee"/>
<rect x="451.12" y="88.03" width="1.35" height="1.35" fill="#1877ee"/>
<rect x="448.24" y="86.09" width="1.35" height="1.35" fill="#1877ee"/>
<rect x="451.33" y="88.38" width="1.35" height="1.35" fill="#1877ee"/>
<rect x="450.85" y="88.53" width="1.35" height="1.35" fill="#1877ee"/>
<rect x="451.90" y="90.06" width="1.35" height="1.35" fill="#1877ee"/>
<rect x="450.80" y="88.98" width="1.35" height="1.35" fill="#ffff00"/>
<rect x="451.57" y="87.51" width="1.35" height="1.35" fill="#ffff00"/>
<rect x="448.52" y="88.32" width="1.35" height="1.35" fill="#1877ee"/>
<rect x="448.68" y="88.76" width="1.35" height="1.35" fill="#1877ee"/>
<rect x="451.27" y="90.47" width="1.35" height="1.35" fill="#1877ee"/>
<rect x="452.30" y="87.67" width="1.35" height="1.35" fill="#1877ee"/>
<rect x="450.90" y="89.32" width="1.35" height="1.35" fill="#1877ee"/>
<rect x="452.12" y="91.58" width="1.35" height="1.35" fill="#1877ee"/>
<rect x="451.25" y="86.10" width="1.35" height="1.35" fill="#1877ee"/>
<rect x="451.16" y="91.88" width="1.35" height="1.35" fill="#ffff00"/>
<rect x="449.35" y="88.12" width="1.35" height="1.35" fill="#1877ee"/>
<rect x="448.04" y="88.59" width="1.35" height="1.35" fill="#1877ee"/>
<rect x="448.51" y="86.09" width="1.35" height="1.35" fill="#1877ee"/>
<rect x="448.57" y="87.26" width="1.35" height="1.35" fill="#1877ee"/>
<rect x="452.28" y="86.22" width="1.35" height="1.35" fill="#1877ee"/>
<rect x="454.42" y="93.09" width="1.35" height="1.35" fill="#ffff00"/>
<rect x="455.05" y="91.88" width="1.35" height="1.35" fill="#1877ee"/>
<rect x="454.04" y="93.09" width="1.35" height="1.35" fill="#ffff00"/>
<rect x="453.63" y="91.68" width="1.35" height="1.35" fill="#1877ee"/>
<rect x="476.26" y="89.45" width="1.35" height="1.35" fill="#1877ee"/>
<rect x="476.38" y="88.63" width="1.35" height="1.35" fill="#1877ee"/>
<rect x="476.80" y="89.59" width="1.35" height="1.35" fill="#ffff00"/>
<rect x="478.09" y="89.50" width="1.35" height="1.35" fill="#1877ee"/>
<rect x="478.03" y="88.72" width="1.35" height="1.35" fill="#1877ee"/>
<rect x="478.44" y="90.11" width="1.35" height="1.35" fill="#1877ee"/>
<rect x="476.89" y="89.30" width="1.35" height="1.35" fill="#1877ee"/>
<rect x="477.86" y="88.73" width="1.35" height="1.35" fill="#1877ee"/>
<rect x="482.37" y="90.57" width="1.35" height="1.35" fill="#ffff00"/>
<rect x="481.59" y="90.33" width="1.35" height="1.35" fill="#ffff00"/>
<rect x="481.83" y="90.87" width="1.35" height="1.35" fill="#1877ee"/>
<rect x="485.70" y="91.25" width="1.35" height="1.35" fill="#ffff00"/>
<rect x="482.59" y="90.85" width="1.35" height="1.35" fill="#ffff00"/>
<rect x="481.94" y="91.60" width="1.35" height="1.35" fill="#ffff00"/>
<rect x="495.52" y="88.29" width="1.35" height="1.35" fill="#1877ee"/>
<rect x="492.24" y="88.01" width="1.35" height="1.35" fill="#ffff00"/>
<rect x="498.78" y="87.65" width="1.35" height="1.35" fill="#1877ee"/>
<rect x="499.88" y="88.38" width="1.35" height="1.35" fill="#1877ee"/>
<rect x="496.21" y="87.38" width="1.35" height="1.35" fill="#ffff00"/>
<rect x="500.13" y="89.05" width="1.35" height="1.35" fill="#ffff00"/>
<rect x="493.68" y="88.06" width="1.35" height="1.35" fill="#1877ee"/>
<rect x="498.27" y="88.39" width="1.35" height="1.35" fill="#ffff00"/>
<rect x="494.29" y="87.77" width="1.35" height="1.35" fill="#ffff00"/>
<rect x="500.19" y="89.03" width="1.35" height="1.35" fill="#ffff00"/>
<rect x="498.69" y="88.80" width="1.35" height="1.35" fill="#ffff00"/>
<rect x="495.98" y="88.04" width="1.35" height="1.35" fill="#1877ee"/>
<rect x="491.58" y="87.88" width="1.35" height="1.35" fill="#ffff00"/>
<rect x="497.56" y="89.24" width="1.35" height="1.35" fill="#ffff00"/>
<rect x="498.88" y="95.28" width="1.35" height="1.35" fill="#ffff00"/>
<rect x="494.88" y="92.21" width="1.35" height="1.35" fill="#ffff00"/>
<rect x="493.70" y="92.14" width="1.35" height="1.35" fill="#ffff00"/>
<rect x="498.63" y="94.69" width="1.35" height="1.35" fill="#ffff00"/>
<rect x="496.90" y="94.52" width="1.35" height="1.35" fill="#1877ee"/>
<rect x="496.95" y="94.96" width="1.35" height="1.35" fill="#ffff00"/>
<rect x="497.58" y="93.24" width="1.35" height="1.35" fill="#ffff00"/>
<rect x="497.85" y="92.66" width="1.35" height="1.35" fill="#ffff00"/>
<rect x="499.13" y="92.91" width="1.35" height="1.35" fill="#ffff00"/>
<rect x="498.95" y="94.22" width="1.35" height="1.35" fill="#ffff00"/>
<rect x="493.21" y="91.93" width="1.35" height="1.35" fill="#ffff00"/>
<rect x="497.97" y="91.91" width="1.35" height="1.35" fill="#ffff00"/>
<rect x="499.19" y="93.95" width="1.35" height="1.35" fill="#ffff00"/>
<rect x="496.17" y="91.85" width="1.35" height="1.35" fill="#1877ee"/>
<rect x="489.12" y="89.62" width="1.35" height="1.35" fill="#ffff00"/>
<rect x="488.86" y="89.19" width="1.35" height="1.35" fill="#ffff00"/>
<rect x="488.11" y="88.75" width="1.35" height="1.35" fill="#1877ee"/>
<rect x="484.38" y="88.81" width="1.35" height="1.35" fill="#ffff00"/>
<text x="448.30" y="64.10" font-size="7.3" fill="#1a1a1a" text-anchor="start" font-weight="bold" stroke="#1a1a1a" stroke-width="0.100">PAs vs Non-PAs</text>
<rect x="434.00" y="67.85" width="8.1" height="4.0" fill="#1877ee"/>
<text x="444.10" y="72.10" font-size="5.55" fill="#333" text-anchor="start" stroke="#333" stroke-width="0.155">1768 cells covered by PAs</text>
<rect x="434.00" y="74.05" width="8.1" height="4.0" fill="#ffff00"/>
<text x="444.10" y="78.30" font-size="5.55" fill="#333" text-anchor="start" stroke="#333" stroke-width="0.155">1572 cells not covered by PAs</text>
<polyline points="432.80,53.20 470.00,54.00 500.00,54.50 524.10,55.00 540.00,56.10 553.00,58.70 560.00,61.50 568.10,65.20 576.80,68.00 581.10,70.20 584.40,70.00 591.30,71.00" fill="none" stroke="#2424f0" stroke-width="1.3" stroke-linejoin="round" stroke-linecap="butt"/>
<polyline points="433.30,129.60 551.90,129.60 556.20,128.00 560.60,126.90 564.90,123.60 568.10,122.60 572.50,119.30 577.90,116.00 581.10,111.70 582.60,105.20 584.40,96.60 585.90,83.60 587.20,64.10 588.70,49.00 590.90,31.60 591.30,31.00" fill="none" stroke="#111111" stroke-width="1.1" stroke-linejoin="round" stroke-linecap="butt"/>
<text x="553.00" y="24.30" font-size="5.7" fill="#222" text-anchor="start" stroke="#222" stroke-width="0.160">17527 PAs</text>
<line x1="580.00" y1="24.00" x2="591.30" y2="31.00" stroke="#111" stroke-width="0.8"/>
<polygon points="591.30,31.00 589.11,30.77 590.12,29.14" fill="#111"/>
<text x="13.00" y="158.50" font-size="12" fill="#000" text-anchor="start" font-weight="bold" stroke="#000" stroke-width="0.100">e</text>
<rect x="18.50" y="164.40" width="175.30" height="121.00" fill="none" stroke="#4a4a4a" stroke-width="1.2"/>
<line x1="18.50" y1="164.40" x2="18.50" y2="285.40" stroke="#111" stroke-width="1"/>
<line x1="18.50" y1="285.40" x2="193.80" y2="285.40" stroke="#111" stroke-width="1"/>
<line x1="193.80" y1="164.40" x2="193.80" y2="285.40" stroke="#555" stroke-width="1.2"/>
<line x1="16.50" y1="280.20" x2="18.50" y2="280.20" stroke="#3030ff" stroke-width="0.8"/>
<text x="15.70" y="282.10" font-size="5.4" fill="#3d3dff" text-anchor="end" stroke="#3d3dff" stroke-width="0.151">0</text>
<line x1="16.50" y1="272.28" x2="18.50" y2="272.28" stroke="#3030ff" stroke-width="0.8"/>
<text x="15.70" y="274.18" font-size="5.4" fill="#3d3dff" text-anchor="end" stroke="#3d3dff" stroke-width="0.151">5</text>
<line x1="16.50" y1="264.36" x2="18.50" y2="264.36" stroke="#3030ff" stroke-width="0.8"/>
<text x="15.70" y="266.26" font-size="5.4" fill="#3d3dff" text-anchor="end" stroke="#3d3dff" stroke-width="0.151">10</text>
<line x1="16.50" y1="256.44" x2="18.50" y2="256.44" stroke="#3030ff" stroke-width="0.8"/>
<text x="15.70" y="258.34" font-size="5.4" fill="#3d3dff" text-anchor="end" stroke="#3d3dff" stroke-width="0.151">15</text>
<line x1="16.50" y1="248.51" x2="18.50" y2="248.51" stroke="#3030ff" stroke-width="0.8"/>
<text x="15.70" y="250.41" font-size="5.4" fill="#3d3dff" text-anchor="end" stroke="#3d3dff" stroke-width="0.151">20</text>
<line x1="16.50" y1="240.59" x2="18.50" y2="240.59" stroke="#3030ff" stroke-width="0.8"/>
<text x="15.70" y="242.49" font-size="5.4" fill="#3d3dff" text-anchor="end" stroke="#3d3dff" stroke-width="0.151">25</text>
<line x1="16.50" y1="232.67" x2="18.50" y2="232.67" stroke="#3030ff" stroke-width="0.8"/>
<text x="15.70" y="234.57" font-size="5.4" fill="#3d3dff" text-anchor="end" stroke="#3d3dff" stroke-width="0.151">30</text>
<line x1="16.50" y1="224.75" x2="18.50" y2="224.75" stroke="#3030ff" stroke-width="0.8"/>
<text x="15.70" y="226.65" font-size="5.4" fill="#3d3dff" text-anchor="end" stroke="#3d3dff" stroke-width="0.151">35</text>
<line x1="16.50" y1="216.83" x2="18.50" y2="216.83" stroke="#3030ff" stroke-width="0.8"/>
<text x="15.70" y="218.73" font-size="5.4" fill="#3d3dff" text-anchor="end" stroke="#3d3dff" stroke-width="0.151">40</text>
<line x1="16.50" y1="208.91" x2="18.50" y2="208.91" stroke="#3030ff" stroke-width="0.8"/>
<text x="15.70" y="210.81" font-size="5.4" fill="#3d3dff" text-anchor="end" stroke="#3d3dff" stroke-width="0.151">45</text>
<line x1="16.50" y1="200.99" x2="18.50" y2="200.99" stroke="#3030ff" stroke-width="0.8"/>
<text x="15.70" y="202.89" font-size="5.4" fill="#3d3dff" text-anchor="end" stroke="#3d3dff" stroke-width="0.151">50</text>
<line x1="16.50" y1="193.06" x2="18.50" y2="193.06" stroke="#3030ff" stroke-width="0.8"/>
<text x="15.70" y="194.96" font-size="5.4" fill="#3d3dff" text-anchor="end" stroke="#3d3dff" stroke-width="0.151">55</text>
<line x1="16.50" y1="185.14" x2="18.50" y2="185.14" stroke="#3030ff" stroke-width="0.8"/>
<text x="15.70" y="187.04" font-size="5.4" fill="#3d3dff" text-anchor="end" stroke="#3d3dff" stroke-width="0.151">60</text>
<line x1="16.50" y1="177.22" x2="18.50" y2="177.22" stroke="#3030ff" stroke-width="0.8"/>
<text x="15.70" y="179.12" font-size="5.4" fill="#3d3dff" text-anchor="end" stroke="#3d3dff" stroke-width="0.151">65</text>
<line x1="16.50" y1="169.30" x2="18.50" y2="169.30" stroke="#3030ff" stroke-width="0.8"/>
<text x="15.70" y="171.20" font-size="5.4" fill="#3d3dff" text-anchor="end" stroke="#3d3dff" stroke-width="0.151">70</text>
<line x1="193.80" y1="280.20" x2="195.80" y2="280.20" stroke="#111" stroke-width="0.8"/>
<text x="197.00" y="282.10" font-size="5.4" fill="#333" text-anchor="start" stroke="#333" stroke-width="0.151">0.0</text>
<line x1="193.80" y1="252.47" x2="195.80" y2="252.47" stroke="#111" stroke-width="0.8"/>
<text x="197.00" y="254.38" font-size="5.4" fill="#333" text-anchor="start" stroke="#333" stroke-width="0.151">2.5</text>
<line x1="193.80" y1="224.75" x2="195.80" y2="224.75" stroke="#111" stroke-width="0.8"/>
<text x="197.00" y="226.65" font-size="5.4" fill="#333" text-anchor="start" stroke="#333" stroke-width="0.151">5.0</text>
<line x1="193.80" y1="197.03" x2="195.80" y2="197.03" stroke="#111" stroke-width="0.8"/>
<text x="197.00" y="198.93" font-size="5.4" fill="#333" text-anchor="start" stroke="#333" stroke-width="0.151">7.5</text>
<line x1="193.80" y1="169.30" x2="195.80" y2="169.30" stroke="#111" stroke-width="0.8"/>
<text x="197.00" y="171.20" font-size="5.4" fill="#333" text-anchor="start" stroke="#333" stroke-width="0.151">10.0</text>
<line x1="26.40" y1="285.40" x2="26.40" y2="287.40" stroke="#333" stroke-width="0.8"/>
<text x="26.40" y="292.80" font-size="5.4" fill="#444" text-anchor="middle" stroke="#444" stroke-width="0.151">1500</text>
<line x1="58.84" y1="285.40" x2="58.84" y2="287.40" stroke="#333" stroke-width="0.8"/>
<text x="58.84" y="292.80" font-size="5.4" fill="#444" text-anchor="middle" stroke="#444" stroke-width="0.151">1600</text>
<line x1="91.28" y1="285.40" x2="91.28" y2="287.40" stroke="#333" stroke-width="0.8"/>
<text x="91.28" y="292.80" font-size="5.4" fill="#444" text-anchor="middle" stroke="#444" stroke-width="0.151">1700</text>
<line x1="123.72" y1="285.40" x2="123.72" y2="287.40" stroke="#333" stroke-width="0.8"/>
<text x="123.72" y="292.80" font-size="5.4" fill="#444" text-anchor="middle" stroke="#444" stroke-width="0.151">1800</text>
<line x1="139.94" y1="285.40" x2="139.94" y2="287.40" stroke="#333" stroke-width="0.8"/>
<text x="139.94" y="292.80" font-size="5.4" fill="#444" text-anchor="middle" stroke="#444" stroke-width="0.151">1850</text>
<line x1="156.16" y1="285.40" x2="156.16" y2="287.40" stroke="#333" stroke-width="0.8"/>
<text x="156.16" y="292.80" font-size="5.4" fill="#444" text-anchor="middle" stroke="#444" stroke-width="0.151">1900</text>
<line x1="172.38" y1="285.40" x2="172.38" y2="287.40" stroke="#333" stroke-width="0.8"/>
<text x="172.38" y="292.80" font-size="5.4" fill="#444" text-anchor="middle" stroke="#444" stroke-width="0.151">1950</text>
<line x1="188.60" y1="285.40" x2="188.60" y2="287.40" stroke="#333" stroke-width="0.8"/>
<text x="188.60" y="292.80" font-size="5.4" fill="#444" text-anchor="middle" stroke="#444" stroke-width="0.151">2000</text>
<text x="5.40" y="225.40" font-size="6.9" fill="#3a3aff" text-anchor="middle" transform="rotate(-90 5.40 225.40)" stroke="#3a3aff" stroke-width="0.193">Forest cover (%)</text>
<text x="214.00" y="225.50" font-size="7.0" fill="#333" text-anchor="middle" transform="rotate(-90 214.00 225.50)" stroke="#333" stroke-width="0.196">Protected areas cover (%)</text>
<text x="99.25" y="299.75" font-size="7.0" fill="#333" text-anchor="start" stroke="#333" stroke-width="0.196">Year</text>
<line x1="118.60" y1="164.90" x2="118.60" y2="284.90" stroke="#6a6a6a" stroke-width="0.9" stroke-dasharray="3.2 2.8"/>
<line x1="146.40" y1="164.90" x2="146.40" y2="284.90" stroke="#f8ad9c" stroke-width="0.9" stroke-dasharray="3.2 2.8"/>
<line x1="178.40" y1="164.90" x2="178.40" y2="284.90" stroke="#8c8cff" stroke-width="0.9" stroke-dasharray="3.2 2.8"/>
<path d="M95.20,234.80 L98.08,235.60 L100.96,236.80 L103.96,239.00 L106.63,242.80 L108.44,246.80 L109.59,250.80 L110.00,254.80 L108.97,260.80 L106.38,266.26 L103.01,269.80 L96.85,272.52 L92.33,274.00 L89.45,274.80 L48.35,274.80 L45.47,274.00 L40.95,272.52 L34.79,269.80 L31.42,266.26 L28.83,260.80 L28.21,250.80 L29.36,246.80 L31.17,242.80 L33.84,239.00 L36.84,236.80 L39.72,235.60 L42.60,234.80Z" fill="#cfdaec" stroke="#d3ddee" stroke-width="0.8" stroke-linejoin="round"/>
<clipPath id="mc3"><path d="M95.20,234.80 L98.08,235.60 L100.96,236.80 L103.96,239.00 L106.63,242.80 L108.44,246.80 L109.59,250.80 L110.00,254.80 L108.97,260.80 L106.38,266.26 L103.01,269.80 L96.85,272.52 L92.33,274.00 L89.45,274.80 L48.35,274.80 L45.47,274.00 L40.95,272.52 L34.79,269.80 L31.42,266.26 L28.83,260.80 L28.21,250.80 L29.36,246.80 L31.17,242.80 L33.84,239.00 L36.84,236.80 L39.72,235.60 L42.60,234.80Z"/></clipPath><g clip-path="url(#mc3)">
<path d="M41.21,238.36 L45.93,237.93 L49.71,237.53 L53.71,237.53 L55.77,237.93 L57.28,239.66 L58.17,241.97 L55.32,243.90 L52.54,246.12 L50.90,248.60 L49.17,247.36 L47.41,248.35 L47.15,249.84 L48.59,250.83 L49.81,252.32 L51.15,252.82 L49.44,251.33 L48.08,251.33 L45.35,249.84 L44.35,247.36 L43.41,246.37 L42.81,244.88 L43.81,242.93 L43.83,240.57 L41.55,240.11 L39.40,239.66Z" fill="#ede3e3"/>
<path d="M61.34,235.72 L64.85,235.57 L65.83,236.93 L63.86,238.36 L61.24,240.11 L59.88,238.99 L59.98,236.93Z" fill="#e2e8f2"/>
<path d="M50.71,252.57 L52.57,251.82 L55.26,252.32 L57.48,254.80 L60.92,256.29 L59.96,260.26 L58.29,261.50 L56.58,264.22 L55.37,265.21 L55.83,268.10 L54.24,267.15 L53.40,263.48 L53.15,259.26 L50.66,256.04Z" fill="#ede3e3"/>
<path d="M66.76,245.87 L67.04,244.15 L68.50,242.93 L69.88,241.97 L70.40,240.80 L69.79,239.66 L71.39,238.14 L73.76,237.73 L75.61,238.36 L78.74,237.93 L81.53,237.33 L83.80,236.56 L87.84,237.33 L91.29,237.53 L95.15,237.93 L99.11,238.36 L100.44,239.22 L98.08,240.11 L99.15,241.97 L97.37,243.42 L95.95,244.39 L94.93,245.63 L95.64,247.36 L93.57,249.84 L93.39,251.82 L91.66,252.82 L92.64,254.55 L91.20,252.82 L90.34,250.83 L89.01,249.34 L86.98,251.08 L86.42,252.82 L85.05,249.84 L82.67,248.60 L81.31,248.35 L80.65,251.08 L78.88,251.82 L76.61,247.86 L76.61,245.87 L74.76,244.64 L74.04,245.87 L72.09,245.38 L71.37,243.90 L69.93,244.15Z" fill="#ede3e3"/>
<path d="M65.09,249.59 L66.73,246.62 L71.03,245.63 L73.25,246.86 L75.89,247.11 L76.61,247.86 L78.88,251.82 L80.48,252.07 L78.03,255.54 L77.94,258.52 L76.69,260.75 L75.45,262.49 L73.20,263.48 L72.43,261.74 L71.61,258.52 L71.86,256.04 L70.95,254.06 L67.76,253.56 L65.49,252.07Z" fill="#ede3e3"/>
<path d="M94.37,260.26 L96.35,259.26 L98.38,257.78 L99.97,257.78 L101.37,257.53 L101.70,259.51 L102.80,261.25 L101.52,263.23 L99.76,264.47 L98.60,263.48 L97.19,262.74 L93.87,263.48 L94.16,261.25Z" fill="#ede3e3"/>
<path d="M42.51,273.22 L50.21,272.47 L58.60,270.82 L68.90,271.67 L79.08,271.03 L89.49,270.82 L95.29,273.22 L90.77,274.80 L47.03,274.80Z" fill="#e6ecf5"/>
<ellipse cx="54.77" cy="256.29" rx="3.20" ry="2.22" fill="#dde6d8" opacity="0.8"/>
<ellipse cx="58.10" cy="259.26" rx="1.37" ry="1.78" fill="#dde6d8" opacity="0.8"/>
<ellipse cx="73.46" cy="254.30" rx="2.74" ry="1.56" fill="#dde6d8" opacity="0.8"/>
<ellipse cx="92.11" cy="252.82" rx="2.28" ry="1.78" fill="#dde6d8" opacity="0.8"/>
<ellipse cx="96.28" cy="255.30" rx="2.74" ry="1.11" fill="#dde6d8" opacity="0.8"/>
<ellipse cx="48.56" cy="251.08" rx="1.37" ry="0.89" fill="#dde6d8" opacity="0.8"/>
<rect x="27.80" y="233.80" width="82.20" height="5.86" fill="url(#arc)"/>
</g>
<rect x="49.72" y="242.87" width="1.35" height="1.35" fill="#ffff00"/>
<rect x="47.86" y="245.03" width="1.35" height="1.35" fill="#1877ee"/>
<rect x="47.75" y="244.87" width="1.35" height="1.35" fill="#1877ee"/>
<rect x="50.53" y="242.42" width="1.35" height="1.35" fill="#1877ee"/>
<rect x="50.47" y="246.66" width="1.35" height="1.35" fill="#1877ee"/>
<rect x="48.98" y="245.54" width="1.35" height="1.35" fill="#ffff00"/>
<rect x="51.60" y="244.25" width="1.35" height="1.35" fill="#ffff00"/>
<rect x="47.67" y="246.83" width="1.35" height="1.35" fill="#1877ee"/>
<rect x="48.39" y="242.68" width="1.35" height="1.35" fill="#1877ee"/>
<rect x="53.36" y="243.04" width="1.35" height="1.35" fill="#1877ee"/>
<rect x="52.05" y="244.11" width="1.35" height="1.35" fill="#1877ee"/>
<rect x="47.79" y="242.36" width="1.35" height="1.35" fill="#1877ee"/>
<rect x="52.36" y="244.42" width="1.35" height="1.35" fill="#1877ee"/>
<rect x="51.66" y="244.56" width="1.35" height="1.35" fill="#1877ee"/>
<rect x="53.20" y="245.94" width="1.35" height="1.35" fill="#1877ee"/>
<rect x="51.58" y="244.97" width="1.35" height="1.35" fill="#ffff00"/>
<rect x="52.72" y="243.64" width="1.35" height="1.35" fill="#ffff00"/>
<rect x="48.20" y="244.37" width="1.35" height="1.35" fill="#ffff00"/>
<rect x="48.45" y="244.76" width="1.35" height="1.35" fill="#1877ee"/>
<rect x="52.27" y="246.31" width="1.35" height="1.35" fill="#1877ee"/>
<rect x="53.80" y="243.78" width="1.35" height="1.35" fill="#ffff00"/>
<rect x="51.72" y="245.27" width="1.35" height="1.35" fill="#1877ee"/>
<rect x="53.54" y="247.32" width="1.35" height="1.35" fill="#1877ee"/>
<rect x="52.24" y="242.36" width="1.35" height="1.35" fill="#ffff00"/>
<rect x="52.11" y="247.59" width="1.35" height="1.35" fill="#ffff00"/>
<rect x="49.43" y="244.19" width="1.35" height="1.35" fill="#ffff00"/>
<rect x="47.49" y="244.61" width="1.35" height="1.35" fill="#1877ee"/>
<rect x="48.19" y="242.36" width="1.35" height="1.35" fill="#ffff00"/>
<rect x="48.28" y="243.41" width="1.35" height="1.35" fill="#1877ee"/>
<rect x="53.77" y="242.48" width="1.35" height="1.35" fill="#1877ee"/>
<rect x="70.54" y="243.86" width="1.35" height="1.35" fill="#1877ee"/>
<rect x="72.83" y="241.44" width="1.35" height="1.35" fill="#1877ee"/>
<rect x="69.14" y="243.86" width="1.35" height="1.35" fill="#ffff00"/>
<rect x="67.63" y="241.03" width="1.35" height="1.35" fill="#1877ee"/>
<rect x="68.23" y="242.26" width="1.35" height="1.35" fill="#1877ee"/>
<rect x="68.44" y="240.34" width="1.35" height="1.35" fill="#1877ee"/>
<rect x="69.22" y="242.59" width="1.35" height="1.35" fill="#ffff00"/>
<rect x="71.57" y="242.39" width="1.35" height="1.35" fill="#1877ee"/>
<rect x="71.46" y="240.54" width="1.35" height="1.35" fill="#ffff00"/>
<rect x="72.22" y="243.82" width="1.35" height="1.35" fill="#1877ee"/>
<rect x="69.39" y="241.92" width="1.35" height="1.35" fill="#1877ee"/>
<rect x="71.16" y="240.57" width="1.35" height="1.35" fill="#1877ee"/>
<rect x="68.05" y="240.97" width="1.35" height="1.35" fill="#1877ee"/>
<rect x="66.91" y="240.33" width="1.35" height="1.35" fill="#1877ee"/>
<rect x="67.27" y="241.78" width="1.35" height="1.35" fill="#1877ee"/>
<rect x="72.91" y="242.78" width="1.35" height="1.35" fill="#1877ee"/>
<rect x="68.37" y="241.71" width="1.35" height="1.35" fill="#1877ee"/>
<rect x="67.42" y="243.72" width="1.35" height="1.35" fill="#ffff00"/>
<rect x="69.93" y="242.26" width="1.35" height="1.35" fill="#1877ee"/>
<rect x="67.27" y="241.70" width="1.35" height="1.35" fill="#1877ee"/>
<rect x="72.58" y="240.97" width="1.35" height="1.35" fill="#1877ee"/>
<rect x="73.47" y="242.44" width="1.35" height="1.35" fill="#1877ee"/>
<rect x="70.49" y="240.43" width="1.35" height="1.35" fill="#1877ee"/>
<rect x="73.67" y="243.78" width="1.35" height="1.35" fill="#1877ee"/>
<rect x="68.43" y="241.79" width="1.35" height="1.35" fill="#1877ee"/>
<rect x="77.96" y="244.92" width="1.35" height="1.35" fill="#ffff00"/>
<rect x="75.30" y="243.99" width="1.35" height="1.35" fill="#ffff00"/>
<rect x="79.23" y="245.88" width="1.35" height="1.35" fill="#ffff00"/>
<rect x="78.23" y="245.54" width="1.35" height="1.35" fill="#ffff00"/>
<rect x="76.43" y="244.39" width="1.35" height="1.35" fill="#1877ee"/>
<rect x="73.49" y="244.16" width="1.35" height="1.35" fill="#ffff00"/>
<rect x="77.48" y="246.19" width="1.35" height="1.35" fill="#ffff00"/>
<rect x="78.95" y="246.29" width="1.35" height="1.35" fill="#ffff00"/>
<rect x="75.51" y="243.99" width="1.35" height="1.35" fill="#ffff00"/>
<rect x="74.51" y="243.94" width="1.35" height="1.35" fill="#ffff00"/>
<rect x="78.73" y="245.85" width="1.35" height="1.35" fill="#ffff00"/>
<rect x="77.24" y="245.72" width="1.35" height="1.35" fill="#1877ee"/>
<rect x="77.29" y="246.05" width="1.35" height="1.35" fill="#ffff00"/>
<rect x="77.83" y="244.76" width="1.35" height="1.35" fill="#ffff00"/>
<rect x="94.01" y="244.09" width="1.35" height="1.35" fill="#ffff00"/>
<rect x="94.63" y="244.48" width="1.35" height="1.35" fill="#ffff00"/>
<rect x="94.54" y="246.52" width="1.35" height="1.35" fill="#ffff00"/>
<rect x="91.76" y="242.96" width="1.35" height="1.35" fill="#ffff00"/>
<rect x="94.07" y="242.93" width="1.35" height="1.35" fill="#ffff00"/>
<rect x="94.66" y="246.10" width="1.35" height="1.35" fill="#ffff00"/>
<rect x="93.19" y="242.84" width="1.35" height="1.35" fill="#1877ee"/>
<rect x="94.63" y="246.05" width="1.35" height="1.35" fill="#ffff00"/>
<rect x="94.50" y="244.71" width="1.35" height="1.35" fill="#ffff00"/>
<rect x="94.13" y="243.33" width="1.35" height="1.35" fill="#ffff00"/>
<rect x="92.32" y="243.52" width="1.35" height="1.35" fill="#ffff00"/>
<rect x="92.21" y="244.62" width="1.35" height="1.35" fill="#ffff00"/>
<rect x="94.42" y="244.22" width="1.35" height="1.35" fill="#ffff00"/>
<rect x="93.31" y="247.63" width="1.35" height="1.35" fill="#ffff00"/>
<rect x="94.45" y="245.14" width="1.35" height="1.35" fill="#ffff00"/>
<rect x="93.10" y="242.14" width="1.35" height="1.35" fill="#ffff00"/>
<rect x="95.28" y="242.34" width="1.35" height="1.35" fill="#1877ee"/>
<rect x="95.26" y="244.22" width="1.35" height="1.35" fill="#1877ee"/>
<rect x="96.22" y="243.63" width="1.35" height="1.35" fill="#1877ee"/>
<rect x="96.21" y="245.46" width="1.35" height="1.35" fill="#1877ee"/>
<rect x="96.23" y="243.32" width="1.35" height="1.35" fill="#1877ee"/>
<rect x="96.76" y="244.36" width="1.35" height="1.35" fill="#1877ee"/>
<rect x="54.15" y="269.13" width="1.35" height="1.35" fill="#1877ee"/>
<rect x="53.80" y="266.86" width="1.35" height="1.35" fill="#ffff00"/>
<rect x="53.99" y="266.56" width="1.35" height="1.35" fill="#ffff00"/>
<rect x="53.47" y="269.30" width="1.35" height="1.35" fill="#ffff00"/>
<rect x="54.43" y="269.30" width="1.35" height="1.35" fill="#1877ee"/>
<rect x="53.67" y="269.31" width="1.35" height="1.35" fill="#ffff00"/>
<rect x="99.19" y="264.29" width="1.35" height="1.35" fill="#1877ee"/>
<rect x="98.69" y="264.55" width="1.35" height="1.35" fill="#1877ee"/>
<rect x="103.35" y="265.75" width="1.35" height="1.35" fill="#ffff00"/>
<rect x="99.33" y="265.60" width="1.35" height="1.35" fill="#ffff00"/>
<rect x="99.24" y="265.97" width="1.35" height="1.35" fill="#ffff00"/>
<rect x="99.84" y="266.12" width="1.35" height="1.35" fill="#1877ee"/>
<rect x="101.93" y="266.20" width="1.35" height="1.35" fill="#ffff00"/>
<rect x="99.38" y="264.97" width="1.35" height="1.35" fill="#1877ee"/>
<text x="42.20" y="215.90" font-size="7.3" fill="#1a1a1a" text-anchor="start" font-weight="bold" stroke="#1a1a1a" stroke-width="0.100">PAs vs Non-PAs</text>
<rect x="27.90" y="219.65" width="8.1" height="4.0" fill="#1877ee"/>
<text x="38.00" y="223.90" font-size="5.55" fill="#333" text-anchor="start" stroke="#333" stroke-width="0.155">4481 cells covered by PAs</text>
<rect x="27.90" y="225.85" width="8.1" height="4.0" fill="#ffff00"/>
<text x="38.00" y="230.10" font-size="5.55" fill="#333" text-anchor="start" stroke="#333" stroke-width="0.155">3335 cells not covered by PAs</text>
<polyline points="27.00,191.30 60.00,192.80 90.90,194.40 110.00,198.00 118.60,199.90 133.00,203.70 146.40,210.40 159.80,218.10 167.50,220.60 172.30,222.50 175.70,225.40 185.70,225.40" fill="none" stroke="#2424f0" stroke-width="1.3" stroke-linejoin="round" stroke-linecap="butt"/>
<polyline points="26.65,280.20 156.00,280.20 161.70,279.00 165.60,277.50 168.40,273.70 171.30,273.00 175.10,268.90 178.40,261.20 180.90,251.60 183.20,240.10 185.30,224.80 185.70,221.90" fill="none" stroke="#111111" stroke-width="1.1" stroke-linejoin="round" stroke-linecap="butt"/>
<text x="148.90" y="200.00" font-size="5.7" fill="#222" text-anchor="start" stroke="#222" stroke-width="0.160">43073 PAs</text>
<line x1="173.20" y1="201.80" x2="185.70" y2="221.90" stroke="#111" stroke-width="0.8"/>
<polygon points="185.70,221.90 183.84,220.72 185.47,219.71" fill="#111"/>
<text x="419.30" y="158.50" font-size="12" fill="#000" text-anchor="start" font-weight="bold" stroke="#000" stroke-width="0.100">g</text>
<rect x="424.70" y="164.90" width="175.10" height="121.70" fill="none" stroke="#4a4a4a" stroke-width="1.2"/>
<line x1="424.70" y1="164.90" x2="424.70" y2="286.60" stroke="#111" stroke-width="1"/>
<line x1="424.70" y1="286.60" x2="599.80" y2="286.60" stroke="#111" stroke-width="1"/>
<line x1="599.80" y1="164.90" x2="599.80" y2="286.60" stroke="#111" stroke-width="1.2"/>
<line x1="422.70" y1="280.80" x2="424.70" y2="280.80" stroke="#3030ff" stroke-width="0.8"/>
<text x="421.90" y="282.70" font-size="5.4" fill="#3d3dff" text-anchor="end" stroke="#3d3dff" stroke-width="0.151">0</text>
<line x1="422.70" y1="272.85" x2="424.70" y2="272.85" stroke="#3030ff" stroke-width="0.8"/>
<text x="421.90" y="274.75" font-size="5.4" fill="#3d3dff" text-anchor="end" stroke="#3d3dff" stroke-width="0.151">5</text>
<line x1="422.70" y1="264.90" x2="424.70" y2="264.90" stroke="#3030ff" stroke-width="0.8"/>
<text x="421.90" y="266.80" font-size="5.4" fill="#3d3dff" text-anchor="end" stroke="#3d3dff" stroke-width="0.151">10</text>
<line x1="422.70" y1="256.95" x2="424.70" y2="256.95" stroke="#3030ff" stroke-width="0.8"/>
<text x="421.90" y="258.85" font-size="5.4" fill="#3d3dff" text-anchor="end" stroke="#3d3dff" stroke-width="0.151">15</text>
<line x1="422.70" y1="249.00" x2="424.70" y2="249.00" stroke="#3030ff" stroke-width="0.8"/>
<text x="421.90" y="250.90" font-size="5.4" fill="#3d3dff" text-anchor="end" stroke="#3d3dff" stroke-width="0.151">20</text>
<line x1="422.70" y1="241.05" x2="424.70" y2="241.05" stroke="#3030ff" stroke-width="0.8"/>
<text x="421.90" y="242.95" font-size="5.4" fill="#3d3dff" text-anchor="end" stroke="#3d3dff" stroke-width="0.151">25</text>
<line x1="422.70" y1="233.10" x2="424.70" y2="233.10" stroke="#3030ff" stroke-width="0.8"/>
<text x="421.90" y="235.00" font-size="5.4" fill="#3d3dff" text-anchor="end" stroke="#3d3dff" stroke-width="0.151">30</text>
<line x1="422.70" y1="225.15" x2="424.70" y2="225.15" stroke="#3030ff" stroke-width="0.8"/>
<text x="421.90" y="227.05" font-size="5.4" fill="#3d3dff" text-anchor="end" stroke="#3d3dff" stroke-width="0.151">35</text>
<line x1="422.70" y1="217.20" x2="424.70" y2="217.20" stroke="#3030ff" stroke-width="0.8"/>
<text x="421.90" y="219.10" font-size="5.4" fill="#3d3dff" text-anchor="end" stroke="#3d3dff" stroke-width="0.151">40</text>
<line x1="422.70" y1="209.25" x2="424.70" y2="209.25" stroke="#3030ff" stroke-width="0.8"/>
<text x="421.90" y="211.15" font-size="5.4" fill="#3d3dff" text-anchor="end" stroke="#3d3dff" stroke-width="0.151">45</text>
<line x1="422.70" y1="201.30" x2="424.70" y2="201.30" stroke="#3030ff" stroke-width="0.8"/>
<text x="421.90" y="203.20" font-size="5.4" fill="#3d3dff" text-anchor="end" stroke="#3d3dff" stroke-width="0.151">50</text>
<line x1="422.70" y1="193.35" x2="424.70" y2="193.35" stroke="#3030ff" stroke-width="0.8"/>
<text x="421.90" y="195.25" font-size="5.4" fill="#3d3dff" text-anchor="end" stroke="#3d3dff" stroke-width="0.151">55</text>
<line x1="422.70" y1="185.40" x2="424.70" y2="185.40" stroke="#3030ff" stroke-width="0.8"/>
<text x="421.90" y="187.30" font-size="5.4" fill="#3d3dff" text-anchor="end" stroke="#3d3dff" stroke-width="0.151">60</text>
<line x1="422.70" y1="177.45" x2="424.70" y2="177.45" stroke="#3030ff" stroke-width="0.8"/>
<text x="421.90" y="179.35" font-size="5.4" fill="#3d3dff" text-anchor="end" stroke="#3d3dff" stroke-width="0.151">65</text>
<line x1="422.70" y1="169.50" x2="424.70" y2="169.50" stroke="#3030ff" stroke-width="0.8"/>
<text x="421.90" y="171.40" font-size="5.4" fill="#3d3dff" text-anchor="end" stroke="#3d3dff" stroke-width="0.151">70</text>
<line x1="599.80" y1="280.80" x2="601.80" y2="280.80" stroke="#111" stroke-width="0.8"/>
<text x="603.00" y="282.70" font-size="5.4" fill="#333" text-anchor="start" stroke="#333" stroke-width="0.151">0.0</text>
<line x1="599.80" y1="252.98" x2="601.80" y2="252.98" stroke="#111" stroke-width="0.8"/>
<text x="603.00" y="254.88" font-size="5.4" fill="#333" text-anchor="start" stroke="#333" stroke-width="0.151">2.5</text>
<line x1="599.80" y1="225.15" x2="601.80" y2="225.15" stroke="#111" stroke-width="0.8"/>
<text x="603.00" y="227.05" font-size="5.4" fill="#333" text-anchor="start" stroke="#333" stroke-width="0.151">5.0</text>
<line x1="599.80" y1="197.32" x2="601.80" y2="197.32" stroke="#111" stroke-width="0.8"/>
<text x="603.00" y="199.22" font-size="5.4" fill="#333" text-anchor="start" stroke="#333" stroke-width="0.151">7.5</text>
<line x1="599.80" y1="169.50" x2="601.80" y2="169.50" stroke="#111" stroke-width="0.8"/>
<text x="603.00" y="171.40" font-size="5.4" fill="#333" text-anchor="start" stroke="#333" stroke-width="0.151">10.0</text>
<line x1="433.10" y1="286.60" x2="433.10" y2="288.60" stroke="#333" stroke-width="0.8"/>
<text x="433.10" y="294.00" font-size="5.4" fill="#444" text-anchor="middle" stroke="#444" stroke-width="0.151">1500</text>
<line x1="465.28" y1="286.60" x2="465.28" y2="288.60" stroke="#333" stroke-width="0.8"/>
<text x="465.28" y="294.00" font-size="5.4" fill="#444" text-anchor="middle" stroke="#444" stroke-width="0.151">1600</text>
<line x1="497.46" y1="286.60" x2="497.46" y2="288.60" stroke="#333" stroke-width="0.8"/>
<text x="497.46" y="294.00" font-size="5.4" fill="#444" text-anchor="middle" stroke="#444" stroke-width="0.151">1700</text>
<line x1="529.64" y1="286.60" x2="529.64" y2="288.60" stroke="#333" stroke-width="0.8"/>
<text x="529.64" y="294.00" font-size="5.4" fill="#444" text-anchor="middle" stroke="#444" stroke-width="0.151">1800</text>
<line x1="545.73" y1="286.60" x2="545.73" y2="288.60" stroke="#333" stroke-width="0.8"/>
<text x="545.73" y="294.00" font-size="5.4" fill="#444" text-anchor="middle" stroke="#444" stroke-width="0.151">1850</text>
<line x1="561.82" y1="286.60" x2="561.82" y2="288.60" stroke="#333" stroke-width="0.8"/>
<text x="561.82" y="294.00" font-size="5.4" fill="#444" text-anchor="middle" stroke="#444" stroke-width="0.151">1900</text>
<line x1="577.91" y1="286.60" x2="577.91" y2="288.60" stroke="#333" stroke-width="0.8"/>
<text x="577.91" y="294.00" font-size="5.4" fill="#444" text-anchor="middle" stroke="#444" stroke-width="0.151">1950</text>
<line x1="594.00" y1="286.60" x2="594.00" y2="288.60" stroke="#333" stroke-width="0.8"/>
<text x="594.00" y="294.00" font-size="5.4" fill="#444" text-anchor="middle" stroke="#444" stroke-width="0.151">2000</text>
<text x="411.30" y="226.25" font-size="6.9" fill="#3a3aff" text-anchor="middle" transform="rotate(-90 411.30 226.25)" stroke="#3a3aff" stroke-width="0.193">Forest cover (%)</text>
<text x="620.00" y="226.35" font-size="7.0" fill="#333" text-anchor="middle" transform="rotate(-90 620.00 226.35)" stroke="#333" stroke-width="0.196">Protected areas cover (%)</text>
<text x="505.30" y="300.30" font-size="7.0" fill="#333" text-anchor="start" stroke="#333" stroke-width="0.196">Year</text>
<line x1="524.70" y1="165.40" x2="524.70" y2="286.10" stroke="#6a6a6a" stroke-width="0.9" stroke-dasharray="3.2 2.8"/>
<line x1="552.40" y1="165.40" x2="552.40" y2="286.10" stroke="#f8ad9c" stroke-width="0.9" stroke-dasharray="3.2 2.8"/>
<line x1="584.40" y1="165.40" x2="584.40" y2="286.10" stroke="#8c8cff" stroke-width="0.9" stroke-dasharray="3.2 2.8"/>
<path d="M500.33,194.00 L503.22,194.82 L506.11,196.06 L509.13,198.33 L511.81,202.24 L513.63,206.36 L514.79,210.48 L515.20,214.60 L514.17,220.78 L511.57,226.40 L508.18,230.05 L501.98,232.85 L497.44,234.38 L494.55,235.20 L453.25,235.20 L450.36,234.38 L445.82,232.85 L439.62,230.05 L436.23,226.40 L433.63,220.78 L433.01,210.48 L434.17,206.36 L435.99,202.24 L438.67,198.33 L441.69,196.06 L444.58,194.82 L447.47,194.00Z" fill="#cfdaec" stroke="#d3ddee" stroke-width="0.8" stroke-linejoin="round"/>
<clipPath id="mc4"><path d="M500.33,194.00 L503.22,194.82 L506.11,196.06 L509.13,198.33 L511.81,202.24 L513.63,206.36 L514.79,210.48 L515.20,214.60 L514.17,220.78 L511.57,226.40 L508.18,230.05 L501.98,232.85 L497.44,234.38 L494.55,235.20 L453.25,235.20 L450.36,234.38 L445.82,232.85 L439.62,230.05 L436.23,226.40 L433.63,220.78 L433.01,210.48 L434.17,206.36 L435.99,202.24 L438.67,198.33 L441.69,196.06 L444.58,194.82 L447.47,194.00Z"/></clipPath><g clip-path="url(#mc4)">
<path d="M446.07,197.66 L450.82,197.22 L454.61,196.81 L458.63,196.81 L460.71,197.22 L462.22,199.01 L463.11,201.39 L460.25,203.38 L457.46,205.66 L455.82,208.21 L454.08,206.94 L452.30,207.96 L452.04,209.49 L453.49,210.51 L454.72,212.05 L456.06,212.56 L454.34,211.02 L452.98,211.02 L450.24,209.49 L449.23,206.94 L448.28,205.92 L447.68,204.39 L448.68,202.38 L448.71,199.94 L446.41,199.47 L444.26,199.01Z" fill="#ede3e3"/>
<path d="M466.31,194.95 L469.83,194.79 L470.81,196.19 L468.84,197.66 L466.20,199.47 L464.84,198.32 L464.94,196.19Z" fill="#e2e8f2"/>
<path d="M455.62,212.30 L457.49,211.53 L460.20,212.05 L462.43,214.60 L465.89,216.13 L464.92,220.22 L463.24,221.50 L461.52,224.30 L460.31,225.32 L460.77,228.30 L459.16,227.32 L458.33,223.54 L458.07,219.20 L455.57,215.88Z" fill="#ede3e3"/>
<path d="M471.75,205.40 L472.03,203.63 L473.50,202.38 L474.88,201.39 L475.41,200.18 L474.80,199.01 L476.40,197.44 L478.78,197.02 L480.65,197.66 L483.79,197.22 L486.59,196.60 L488.87,195.81 L492.94,196.60 L496.40,196.81 L500.28,197.22 L504.26,197.66 L505.60,198.55 L503.22,199.47 L504.30,201.39 L502.51,202.87 L501.09,203.88 L500.05,205.15 L500.77,206.94 L498.69,209.49 L498.51,211.53 L496.77,212.56 L497.76,214.34 L496.31,212.56 L495.45,210.51 L494.11,208.98 L492.07,210.77 L491.51,212.56 L490.13,209.49 L487.74,208.21 L486.37,207.96 L485.71,210.77 L483.93,211.53 L481.65,207.45 L481.65,205.40 L479.79,204.13 L479.07,205.40 L477.10,204.90 L476.38,203.38 L474.94,203.63Z" fill="#ede3e3"/>
<path d="M470.08,209.24 L471.72,206.17 L476.04,205.15 L478.27,206.43 L480.92,206.68 L481.65,207.45 L483.93,211.53 L485.54,211.79 L483.07,215.37 L482.99,218.43 L481.73,220.73 L480.48,222.52 L478.23,223.54 L477.44,221.75 L476.63,218.43 L476.88,215.88 L475.96,213.83 L472.75,213.32 L470.48,211.79Z" fill="#ede3e3"/>
<path d="M499.49,220.22 L501.48,219.20 L503.53,217.67 L505.12,217.67 L506.52,217.41 L506.85,219.45 L507.97,221.24 L506.68,223.28 L504.91,224.56 L503.75,223.54 L502.33,222.77 L498.99,223.54 L499.28,221.24Z" fill="#ede3e3"/>
<path d="M447.38,233.57 L455.11,232.80 L463.55,231.10 L473.90,231.98 L484.13,231.32 L494.59,231.10 L500.42,233.57 L495.88,235.20 L451.92,235.20Z" fill="#e6ecf5"/>
<ellipse cx="459.70" cy="216.13" rx="3.21" ry="2.29" fill="#dde6d8" opacity="0.8"/>
<ellipse cx="463.05" cy="219.20" rx="1.38" ry="1.83" fill="#dde6d8" opacity="0.8"/>
<ellipse cx="478.49" cy="214.09" rx="2.75" ry="1.60" fill="#dde6d8" opacity="0.8"/>
<ellipse cx="497.23" cy="212.56" rx="2.29" ry="1.83" fill="#dde6d8" opacity="0.8"/>
<ellipse cx="501.42" cy="215.11" rx="2.75" ry="1.14" fill="#dde6d8" opacity="0.8"/>
<ellipse cx="453.46" cy="210.77" rx="1.38" ry="0.92" fill="#dde6d8" opacity="0.8"/>
<rect x="432.60" y="193.00" width="82.60" height="6.01" fill="url(#arc)"/>
</g>
<rect x="473.55" y="203.08" width="1.35" height="1.35" fill="#1877ee"/>
<rect x="471.59" y="203.74" width="1.35" height="1.35" fill="#1877ee"/>
<rect x="471.48" y="203.69" width="1.35" height="1.35" fill="#1877ee"/>
<rect x="474.41" y="202.94" width="1.35" height="1.35" fill="#1877ee"/>
<rect x="474.34" y="204.23" width="1.35" height="1.35" fill="#1877ee"/>
<rect x="472.77" y="203.89" width="1.35" height="1.35" fill="#ffff00"/>
<rect x="475.53" y="203.50" width="1.35" height="1.35" fill="#ffff00"/>
<rect x="471.39" y="204.28" width="1.35" height="1.35" fill="#1877ee"/>
<rect x="472.15" y="203.03" width="1.35" height="1.35" fill="#1877ee"/>
<rect x="477.39" y="203.13" width="1.35" height="1.35" fill="#1877ee"/>
<rect x="478.24" y="205.44" width="1.35" height="1.35" fill="#ffff00"/>
<rect x="471.73" y="204.50" width="1.35" height="1.35" fill="#ffff00"/>
<rect x="478.71" y="205.61" width="1.35" height="1.35" fill="#ffff00"/>
<rect x="477.64" y="205.68" width="1.35" height="1.35" fill="#ffff00"/>
<rect x="480.00" y="206.42" width="1.35" height="1.35" fill="#ffff00"/>
<rect x="477.52" y="205.90" width="1.35" height="1.35" fill="#ffff00"/>
<rect x="479.27" y="205.19" width="1.35" height="1.35" fill="#ffff00"/>
<rect x="472.36" y="205.58" width="1.35" height="1.35" fill="#ffff00"/>
<rect x="472.74" y="205.79" width="1.35" height="1.35" fill="#1877ee"/>
<rect x="478.58" y="206.62" width="1.35" height="1.35" fill="#ffff00"/>
<rect x="480.92" y="205.27" width="1.35" height="1.35" fill="#ffff00"/>
<rect x="477.74" y="206.06" width="1.35" height="1.35" fill="#ffff00"/>
<rect x="480.52" y="207.16" width="1.35" height="1.35" fill="#ffff00"/>
<rect x="478.53" y="204.51" width="1.35" height="1.35" fill="#ffff00"/>
<rect x="478.34" y="207.30" width="1.35" height="1.35" fill="#ffff00"/>
<rect x="474.24" y="205.48" width="1.35" height="1.35" fill="#ffff00"/>
<rect x="446.36" y="204.52" width="1.35" height="1.35" fill="#1877ee"/>
<rect x="446.50" y="203.91" width="1.35" height="1.35" fill="#ffff00"/>
<rect x="477.43" y="222.35" width="1.35" height="1.35" fill="#1877ee"/>
<rect x="478.62" y="222.13" width="1.35" height="1.35" fill="#1877ee"/>
<rect x="478.10" y="223.17" width="1.35" height="1.35" fill="#1877ee"/>
<rect x="500.01" y="221.83" width="1.35" height="1.35" fill="#1877ee"/>
<rect x="498.85" y="222.92" width="1.35" height="1.35" fill="#ffff00"/>
<rect x="498.37" y="221.64" width="1.35" height="1.35" fill="#1877ee"/>
<rect x="498.56" y="222.20" width="1.35" height="1.35" fill="#1877ee"/>
<rect x="498.63" y="221.33" width="1.35" height="1.35" fill="#1877ee"/>
<rect x="503.37" y="223.46" width="1.35" height="1.35" fill="#ffff00"/>
<rect x="504.11" y="223.36" width="1.35" height="1.35" fill="#ffff00"/>
<rect x="504.08" y="222.43" width="1.35" height="1.35" fill="#ffff00"/>
<rect x="504.32" y="224.07" width="1.35" height="1.35" fill="#ffff00"/>
<rect x="503.43" y="223.12" width="1.35" height="1.35" fill="#1877ee"/>
<rect x="458.35" y="220.92" width="1.35" height="1.35" fill="#1877ee"/>
<rect x="457.80" y="221.07" width="1.35" height="1.35" fill="#ffff00"/>
<text x="448.30" y="176.60" font-size="7.3" fill="#1a1a1a" text-anchor="start" font-weight="bold" stroke="#1a1a1a" stroke-width="0.100">PAs vs Non-PAs</text>
<rect x="434.00" y="180.35" width="8.1" height="4.0" fill="#1877ee"/>
<text x="444.10" y="184.60" font-size="5.55" fill="#333" text-anchor="start" stroke="#333" stroke-width="0.155">1023 cells covered by PAs</text>
<rect x="434.00" y="186.55" width="8.1" height="4.0" fill="#ffff00"/>
<text x="444.10" y="190.80" font-size="5.55" fill="#333" text-anchor="start" stroke="#333" stroke-width="0.155">1085 cells not covered by PAs</text>
<polyline points="433.10,239.30 487.60,241.60 524.70,243.20 552.90,246.50 566.40,249.20 577.70,253.30 582.20,256.70 592.30,256.70" fill="none" stroke="#2424f0" stroke-width="1.3" stroke-linejoin="round" stroke-linecap="butt"/>
<polyline points="433.10,280.80 573.20,280.80 578.80,279.90 583.30,278.70 585.50,271.30 587.80,257.80 590.00,244.30 591.60,231.90 592.30,229.00" fill="none" stroke="#111111" stroke-width="1.1" stroke-linejoin="round" stroke-linecap="butt"/>
<text x="555.80" y="226.00" font-size="5.7" fill="#222" text-anchor="start" stroke="#222" stroke-width="0.160">8764 PAs</text>
<line x1="575.40" y1="226.70" x2="592.30" y2="229.00" stroke="#111" stroke-width="0.8"/>
<polygon points="592.30,229.00 590.21,229.68 590.47,227.78" fill="#111"/>
<text x="15.10" y="308.80" font-size="12" fill="#000" text-anchor="start" font-weight="bold" stroke="#000" stroke-width="0.100">i</text>
<rect x="20.50" y="315.30" width="175.10" height="120.90" fill="none" stroke="#4a4a4a" stroke-width="1.2"/>
<line x1="20.50" y1="315.30" x2="20.50" y2="436.20" stroke="#111" stroke-width="1"/>
<line x1="20.50" y1="436.20" x2="195.60" y2="436.20" stroke="#111" stroke-width="1"/>
<line x1="195.60" y1="315.30" x2="195.60" y2="436.20" stroke="#555" stroke-width="1.2"/>
<line x1="18.50" y1="431.10" x2="20.50" y2="431.10" stroke="#3030ff" stroke-width="0.8"/>
<text x="17.70" y="433.00" font-size="5.4" fill="#3d3dff" text-anchor="end" stroke="#3d3dff" stroke-width="0.151">0</text>
<line x1="18.50" y1="423.16" x2="20.50" y2="423.16" stroke="#3030ff" stroke-width="0.8"/>
<text x="17.70" y="425.06" font-size="5.4" fill="#3d3dff" text-anchor="end" stroke="#3d3dff" stroke-width="0.151">5</text>
<line x1="18.50" y1="415.23" x2="20.50" y2="415.23" stroke="#3030ff" stroke-width="0.8"/>
<text x="17.70" y="417.13" font-size="5.4" fill="#3d3dff" text-anchor="end" stroke="#3d3dff" stroke-width="0.151">10</text>
<line x1="18.50" y1="407.29" x2="20.50" y2="407.29" stroke="#3030ff" stroke-width="0.8"/>
<text x="17.70" y="409.19" font-size="5.4" fill="#3d3dff" text-anchor="end" stroke="#3d3dff" stroke-width="0.151">15</text>
<line x1="18.50" y1="399.36" x2="20.50" y2="399.36" stroke="#3030ff" stroke-width="0.8"/>
<text x="17.70" y="401.26" font-size="5.4" fill="#3d3dff" text-anchor="end" stroke="#3d3dff" stroke-width="0.151">20</text>
<line x1="18.50" y1="391.42" x2="20.50" y2="391.42" stroke="#3030ff" stroke-width="0.8"/>
<text x="17.70" y="393.32" font-size="5.4" fill="#3d3dff" text-anchor="end" stroke="#3d3dff" stroke-width="0.151">25</text>
<line x1="18.50" y1="383.49" x2="20.50" y2="383.49" stroke="#3030ff" stroke-width="0.8"/>
<text x="17.70" y="385.39" font-size="5.4" fill="#3d3dff" text-anchor="end" stroke="#3d3dff" stroke-width="0.151">30</text>
<line x1="18.50" y1="375.55" x2="20.50" y2="375.55" stroke="#3030ff" stroke-width="0.8"/>
<text x="17.70" y="377.45" font-size="5.4" fill="#3d3dff" text-anchor="end" stroke="#3d3dff" stroke-width="0.151">35</text>
<line x1="18.50" y1="367.61" x2="20.50" y2="367.61" stroke="#3030ff" stroke-width="0.8"/>
<text x="17.70" y="369.51" font-size="5.4" fill="#3d3dff" text-anchor="end" stroke="#3d3dff" stroke-width="0.151">40</text>
<line x1="18.50" y1="359.68" x2="20.50" y2="359.68" stroke="#3030ff" stroke-width="0.8"/>
<text x="17.70" y="361.58" font-size="5.4" fill="#3d3dff" text-anchor="end" stroke="#3d3dff" stroke-width="0.151">45</text>
<line x1="18.50" y1="351.74" x2="20.50" y2="351.74" stroke="#3030ff" stroke-width="0.8"/>
<text x="17.70" y="353.64" font-size="5.4" fill="#3d3dff" text-anchor="end" stroke="#3d3dff" stroke-width="0.151">50</text>
<line x1="18.50" y1="343.81" x2="20.50" y2="343.81" stroke="#3030ff" stroke-width="0.8"/>
<text x="17.70" y="345.71" font-size="5.4" fill="#3d3dff" text-anchor="end" stroke="#3d3dff" stroke-width="0.151">55</text>
<line x1="18.50" y1="335.87" x2="20.50" y2="335.87" stroke="#3030ff" stroke-width="0.8"/>
<text x="17.70" y="337.77" font-size="5.4" fill="#3d3dff" text-anchor="end" stroke="#3d3dff" stroke-width="0.151">60</text>
<line x1="18.50" y1="327.94" x2="20.50" y2="327.94" stroke="#3030ff" stroke-width="0.8"/>
<text x="17.70" y="329.84" font-size="5.4" fill="#3d3dff" text-anchor="end" stroke="#3d3dff" stroke-width="0.151">65</text>
<line x1="18.50" y1="320.00" x2="20.50" y2="320.00" stroke="#3030ff" stroke-width="0.8"/>
<text x="17.70" y="321.90" font-size="5.4" fill="#3d3dff" text-anchor="end" stroke="#3d3dff" stroke-width="0.151">70</text>
<line x1="195.60" y1="431.10" x2="197.60" y2="431.10" stroke="#111" stroke-width="0.8"/>
<text x="198.80" y="433.00" font-size="5.4" fill="#333" text-anchor="start" stroke="#333" stroke-width="0.151">0.0</text>
<line x1="195.60" y1="403.33" x2="197.60" y2="403.33" stroke="#111" stroke-width="0.8"/>
<text x="198.80" y="405.23" font-size="5.4" fill="#333" text-anchor="start" stroke="#333" stroke-width="0.151">2.5</text>
<line x1="195.60" y1="375.55" x2="197.60" y2="375.55" stroke="#111" stroke-width="0.8"/>
<text x="198.80" y="377.45" font-size="5.4" fill="#333" text-anchor="start" stroke="#333" stroke-width="0.151">5.0</text>
<line x1="195.60" y1="347.77" x2="197.60" y2="347.77" stroke="#111" stroke-width="0.8"/>
<text x="198.80" y="349.67" font-size="5.4" fill="#333" text-anchor="start" stroke="#333" stroke-width="0.151">7.5</text>
<line x1="195.60" y1="320.00" x2="197.60" y2="320.00" stroke="#111" stroke-width="0.8"/>
<text x="198.80" y="321.90" font-size="5.4" fill="#333" text-anchor="start" stroke="#333" stroke-width="0.151">10.0</text>
<line x1="28.70" y1="436.20" x2="28.70" y2="438.20" stroke="#333" stroke-width="0.8"/>
<text x="28.70" y="443.60" font-size="5.4" fill="#444" text-anchor="middle" stroke="#444" stroke-width="0.151">1500</text>
<line x1="61.12" y1="436.20" x2="61.12" y2="438.20" stroke="#333" stroke-width="0.8"/>
<text x="61.12" y="443.60" font-size="5.4" fill="#444" text-anchor="middle" stroke="#444" stroke-width="0.151">1600</text>
<line x1="93.54" y1="436.20" x2="93.54" y2="438.20" stroke="#333" stroke-width="0.8"/>
<text x="93.54" y="443.60" font-size="5.4" fill="#444" text-anchor="middle" stroke="#444" stroke-width="0.151">1700</text>
<line x1="125.96" y1="436.20" x2="125.96" y2="438.20" stroke="#333" stroke-width="0.8"/>
<text x="125.96" y="443.60" font-size="5.4" fill="#444" text-anchor="middle" stroke="#444" stroke-width="0.151">1800</text>
<line x1="142.17" y1="436.20" x2="142.17" y2="438.20" stroke="#333" stroke-width="0.8"/>
<text x="142.17" y="443.60" font-size="5.4" fill="#444" text-anchor="middle" stroke="#444" stroke-width="0.151">1850</text>
<line x1="158.38" y1="436.20" x2="158.38" y2="438.20" stroke="#333" stroke-width="0.8"/>
<text x="158.38" y="443.60" font-size="5.4" fill="#444" text-anchor="middle" stroke="#444" stroke-width="0.151">1900</text>
<line x1="174.59" y1="436.20" x2="174.59" y2="438.20" stroke="#333" stroke-width="0.8"/>
<text x="174.59" y="443.60" font-size="5.4" fill="#444" text-anchor="middle" stroke="#444" stroke-width="0.151">1950</text>
<line x1="190.80" y1="436.20" x2="190.80" y2="438.20" stroke="#333" stroke-width="0.8"/>
<text x="190.80" y="443.60" font-size="5.4" fill="#444" text-anchor="middle" stroke="#444" stroke-width="0.151">2000</text>
<text x="6.60" y="376.25" font-size="6.9" fill="#3a3aff" text-anchor="middle" transform="rotate(-90 6.60 376.25)" stroke="#3a3aff" stroke-width="0.193">Forest cover (%)</text>
<text x="215.80" y="376.35" font-size="7.0" fill="#333" text-anchor="middle" transform="rotate(-90 215.80 376.35)" stroke="#333" stroke-width="0.196">Protected areas cover (%)</text>
<text x="101.25" y="450.75" font-size="7.0" fill="#333" text-anchor="start" stroke="#333" stroke-width="0.196">Year</text>
<line x1="120.40" y1="315.80" x2="120.40" y2="435.70" stroke="#6a6a6a" stroke-width="0.9" stroke-dasharray="3.2 2.8"/>
<line x1="148.40" y1="315.80" x2="148.40" y2="435.70" stroke="#f8ad9c" stroke-width="0.9" stroke-dasharray="3.2 2.8"/>
<line x1="180.40" y1="315.80" x2="180.40" y2="435.70" stroke="#8c8cff" stroke-width="0.9" stroke-dasharray="3.2 2.8"/>
<path d="M96.81,384.80 L99.71,385.60 L102.60,386.80 L105.62,389.00 L108.31,392.80 L110.13,396.80 L111.29,400.80 L111.70,404.80 L110.67,410.80 L108.06,416.26 L104.67,419.80 L98.47,422.52 L93.92,424.00 L91.02,424.80 L49.67,424.80 L46.78,424.00 L42.23,422.52 L36.03,419.80 L32.64,416.26 L30.03,410.80 L29.41,400.80 L30.57,396.80 L32.39,392.80 L35.08,389.00 L38.10,386.80 L40.99,385.60 L43.89,384.80Z" fill="#cfdaec" stroke="#d3ddee" stroke-width="0.8" stroke-linejoin="round"/>
<clipPath id="mc5"><path d="M96.81,384.80 L99.71,385.60 L102.60,386.80 L105.62,389.00 L108.31,392.80 L110.13,396.80 L111.29,400.80 L111.70,404.80 L110.67,410.80 L108.06,416.26 L104.67,419.80 L98.47,422.52 L93.92,424.00 L91.02,424.80 L49.67,424.80 L46.78,424.00 L42.23,422.52 L36.03,419.80 L32.64,416.26 L30.03,410.80 L29.41,400.80 L30.57,396.80 L32.39,392.80 L35.08,389.00 L38.10,386.80 L40.99,385.60 L43.89,384.80Z"/></clipPath><g clip-path="url(#mc5)">
<path d="M42.49,388.36 L47.24,387.93 L51.04,387.53 L55.06,387.53 L57.14,387.93 L58.66,389.66 L59.55,391.97 L56.69,393.90 L53.89,396.12 L52.24,398.60 L50.50,397.36 L48.73,398.35 L48.46,399.84 L49.91,400.83 L51.14,402.32 L52.49,402.82 L50.77,401.33 L49.40,401.33 L46.66,399.84 L45.65,397.36 L44.70,396.37 L44.10,394.88 L45.10,392.93 L45.13,390.57 L42.83,390.11 L40.67,389.66Z" fill="#ede3e3"/>
<path d="M62.75,385.72 L66.27,385.57 L67.26,386.93 L65.28,388.36 L62.64,390.11 L61.27,388.99 L61.38,386.93Z" fill="#e2e8f2"/>
<path d="M52.04,402.57 L53.92,401.82 L56.63,402.32 L58.86,404.80 L62.33,406.29 L61.36,410.26 L59.68,411.50 L57.96,414.22 L56.74,415.21 L57.20,418.10 L55.60,417.15 L54.76,413.48 L54.51,409.26 L52.00,406.04Z" fill="#ede3e3"/>
<path d="M68.19,395.87 L68.48,394.15 L69.95,392.93 L71.33,391.97 L71.86,390.80 L71.25,389.66 L72.85,388.14 L75.24,387.73 L77.10,388.36 L80.25,387.93 L83.06,387.33 L85.34,386.56 L89.41,387.33 L92.88,387.53 L96.76,387.93 L100.74,388.36 L102.09,389.22 L99.70,390.11 L100.78,391.97 L98.99,393.42 L97.57,394.39 L96.53,395.63 L97.26,397.36 L95.17,399.84 L94.99,401.82 L93.25,402.82 L94.23,404.55 L92.79,402.82 L91.92,400.83 L90.58,399.34 L88.54,401.08 L87.98,402.82 L86.60,399.84 L84.21,398.60 L82.83,398.35 L82.18,401.08 L80.39,401.82 L78.11,397.86 L78.11,395.87 L76.25,394.64 L75.52,395.87 L73.55,395.38 L72.83,393.90 L71.39,394.15Z" fill="#ede3e3"/>
<path d="M66.52,399.59 L68.17,396.62 L72.50,395.63 L74.73,396.86 L77.38,397.11 L78.11,397.86 L80.39,401.82 L82.00,402.07 L79.53,405.54 L79.45,408.52 L78.19,410.75 L76.94,412.49 L74.68,413.48 L73.90,411.74 L73.08,408.52 L73.33,406.04 L72.42,404.06 L69.20,403.56 L66.92,402.07Z" fill="#ede3e3"/>
<path d="M95.98,410.26 L97.96,409.26 L100.01,407.78 L101.61,407.78 L103.01,407.53 L103.34,409.51 L104.46,411.25 L103.17,413.23 L101.40,414.47 L100.24,413.48 L98.81,412.74 L95.47,413.48 L95.76,411.25Z" fill="#ede3e3"/>
<path d="M43.80,423.22 L51.54,422.47 L59.99,420.82 L70.35,421.67 L80.59,421.03 L91.07,420.82 L96.90,423.22 L92.36,424.80 L48.34,424.80Z" fill="#e6ecf5"/>
<ellipse cx="56.14" cy="406.29" rx="3.22" ry="2.22" fill="#dde6d8" opacity="0.8"/>
<ellipse cx="59.49" cy="409.26" rx="1.38" ry="1.78" fill="#dde6d8" opacity="0.8"/>
<ellipse cx="74.94" cy="404.30" rx="2.76" ry="1.56" fill="#dde6d8" opacity="0.8"/>
<ellipse cx="93.70" cy="402.82" rx="2.30" ry="1.78" fill="#dde6d8" opacity="0.8"/>
<ellipse cx="97.90" cy="405.30" rx="2.76" ry="1.11" fill="#dde6d8" opacity="0.8"/>
<ellipse cx="49.88" cy="401.08" rx="1.38" ry="0.89" fill="#dde6d8" opacity="0.8"/>
<rect x="29.00" y="383.80" width="82.70" height="5.86" fill="url(#arc)"/>
</g>
<rect x="46.23" y="397.11" width="1.35" height="1.35" fill="#ffff00"/>
<rect x="45.37" y="398.61" width="1.35" height="1.35" fill="#ffff00"/>
<rect x="45.32" y="398.50" width="1.35" height="1.35" fill="#1877ee"/>
<rect x="46.60" y="396.80" width="1.35" height="1.35" fill="#1877ee"/>
<rect x="46.57" y="399.75" width="1.35" height="1.35" fill="#ffff00"/>
<rect x="45.88" y="398.97" width="1.35" height="1.35" fill="#ffff00"/>
<rect x="47.09" y="398.07" width="1.35" height="1.35" fill="#ffff00"/>
<rect x="45.28" y="399.87" width="1.35" height="1.35" fill="#ffff00"/>
<rect x="45.62" y="396.98" width="1.35" height="1.35" fill="#ffff00"/>
<rect x="47.90" y="397.23" width="1.35" height="1.35" fill="#ffff00"/>
<rect x="47.30" y="397.98" width="1.35" height="1.35" fill="#ffff00"/>
<rect x="45.34" y="396.76" width="1.35" height="1.35" fill="#ffff00"/>
<rect x="47.44" y="398.19" width="1.35" height="1.35" fill="#ffff00"/>
<rect x="47.12" y="398.29" width="1.35" height="1.35" fill="#ffff00"/>
<rect x="45.52" y="397.87" width="1.35" height="1.35" fill="#1877ee"/>
<rect x="45.19" y="397.61" width="1.35" height="1.35" fill="#1877ee"/>
<rect x="52.55" y="398.11" width="1.35" height="1.35" fill="#ffff00"/>
<text x="43.90" y="366.60" font-size="7.3" fill="#1a1a1a" text-anchor="start" font-weight="bold" stroke="#1a1a1a" stroke-width="0.100">PAs vs Non-PAs</text>
<rect x="29.60" y="370.35" width="8.1" height="4.0" fill="#1877ee"/>
<text x="39.70" y="374.60" font-size="5.55" fill="#333" text-anchor="start" stroke="#333" stroke-width="0.155">206 cells covered by PAs</text>
<rect x="29.60" y="376.55" width="8.1" height="4.0" fill="#ffff00"/>
<text x="39.70" y="380.80" font-size="5.55" fill="#333" text-anchor="start" stroke="#333" stroke-width="0.155">529 cells not covered by PAs</text>
<polyline points="28.30,347.50 61.00,345.70 94.90,346.60 110.00,347.70 120.40,347.90 137.40,348.80 148.40,350.50 157.50,352.90 164.80,354.70 169.40,357.40 174.00,362.00 177.30,367.80 180.40,368.80 187.70,372.40" fill="none" stroke="#2424f0" stroke-width="1.3" stroke-linejoin="round" stroke-linecap="butt"/>
<polyline points="28.70,431.20 168.90,431.20 170.30,428.40 176.70,426.90 181.30,425.40 183.10,423.20 185.00,414.10 186.80,405.00 188.20,395.80 188.40,394.90" fill="none" stroke="#111111" stroke-width="1.1" stroke-linejoin="round" stroke-linecap="butt"/>
<text x="151.10" y="375.00" font-size="5.7" fill="#222" text-anchor="start" stroke="#222" stroke-width="0.160">783 PAs</text>
<line x1="168.50" y1="375.70" x2="188.40" y2="394.90" stroke="#111" stroke-width="0.8"/>
<polygon points="188.40,394.90 186.31,394.21 187.64,392.84" fill="#111"/>
<text x="418.80" y="308.80" font-size="12" fill="#000" text-anchor="start" font-weight="bold" stroke="#000" stroke-width="0.100">k</text>
<rect x="424.70" y="314.70" width="175.60" height="121.30" fill="none" stroke="#4a4a4a" stroke-width="1.2"/>
<line x1="424.70" y1="314.70" x2="424.70" y2="436.00" stroke="#111" stroke-width="1"/>
<line x1="424.70" y1="436.00" x2="600.30" y2="436.00" stroke="#111" stroke-width="1"/>
<line x1="600.30" y1="314.70" x2="600.30" y2="436.00" stroke="#111" stroke-width="1.2"/>
<line x1="422.70" y1="430.50" x2="424.70" y2="430.50" stroke="#3030ff" stroke-width="0.8"/>
<text x="421.90" y="432.40" font-size="5.4" fill="#3d3dff" text-anchor="end" stroke="#3d3dff" stroke-width="0.151">0</text>
<line x1="422.70" y1="422.57" x2="424.70" y2="422.57" stroke="#3030ff" stroke-width="0.8"/>
<text x="421.90" y="424.47" font-size="5.4" fill="#3d3dff" text-anchor="end" stroke="#3d3dff" stroke-width="0.151">5</text>
<line x1="422.70" y1="414.64" x2="424.70" y2="414.64" stroke="#3030ff" stroke-width="0.8"/>
<text x="421.90" y="416.54" font-size="5.4" fill="#3d3dff" text-anchor="end" stroke="#3d3dff" stroke-width="0.151">10</text>
<line x1="422.70" y1="406.71" x2="424.70" y2="406.71" stroke="#3030ff" stroke-width="0.8"/>
<text x="421.90" y="408.61" font-size="5.4" fill="#3d3dff" text-anchor="end" stroke="#3d3dff" stroke-width="0.151">15</text>
<line x1="422.70" y1="398.79" x2="424.70" y2="398.79" stroke="#3030ff" stroke-width="0.8"/>
<text x="421.90" y="400.69" font-size="5.4" fill="#3d3dff" text-anchor="end" stroke="#3d3dff" stroke-width="0.151">20</text>
<line x1="422.70" y1="390.86" x2="424.70" y2="390.86" stroke="#3030ff" stroke-width="0.8"/>
<text x="421.90" y="392.76" font-size="5.4" fill="#3d3dff" text-anchor="end" stroke="#3d3dff" stroke-width="0.151">25</text>
<line x1="422.70" y1="382.93" x2="424.70" y2="382.93" stroke="#3030ff" stroke-width="0.8"/>
<text x="421.90" y="384.83" font-size="5.4" fill="#3d3dff" text-anchor="end" stroke="#3d3dff" stroke-width="0.151">30</text>
<line x1="422.70" y1="375.00" x2="424.70" y2="375.00" stroke="#3030ff" stroke-width="0.8"/>
<text x="421.90" y="376.90" font-size="5.4" fill="#3d3dff" text-anchor="end" stroke="#3d3dff" stroke-width="0.151">35</text>
<line x1="422.70" y1="367.07" x2="424.70" y2="367.07" stroke="#3030ff" stroke-width="0.8"/>
<text x="421.90" y="368.97" font-size="5.4" fill="#3d3dff" text-anchor="end" stroke="#3d3dff" stroke-width="0.151">40</text>
<line x1="422.70" y1="359.14" x2="424.70" y2="359.14" stroke="#3030ff" stroke-width="0.8"/>
<text x="421.90" y="361.04" font-size="5.4" fill="#3d3dff" text-anchor="end" stroke="#3d3dff" stroke-width="0.151">45</text>
<line x1="422.70" y1="351.21" x2="424.70" y2="351.21" stroke="#3030ff" stroke-width="0.8"/>
<text x="421.90" y="353.11" font-size="5.4" fill="#3d3dff" text-anchor="end" stroke="#3d3dff" stroke-width="0.151">50</text>
<line x1="422.70" y1="343.29" x2="424.70" y2="343.29" stroke="#3030ff" stroke-width="0.8"/>
<text x="421.90" y="345.19" font-size="5.4" fill="#3d3dff" text-anchor="end" stroke="#3d3dff" stroke-width="0.151">55</text>
<line x1="422.70" y1="335.36" x2="424.70" y2="335.36" stroke="#3030ff" stroke-width="0.8"/>
<text x="421.90" y="337.26" font-size="5.4" fill="#3d3dff" text-anchor="end" stroke="#3d3dff" stroke-width="0.151">60</text>
<line x1="422.70" y1="327.43" x2="424.70" y2="327.43" stroke="#3030ff" stroke-width="0.8"/>
<text x="421.90" y="329.33" font-size="5.4" fill="#3d3dff" text-anchor="end" stroke="#3d3dff" stroke-width="0.151">65</text>
<line x1="422.70" y1="319.50" x2="424.70" y2="319.50" stroke="#3030ff" stroke-width="0.8"/>
<text x="421.90" y="321.40" font-size="5.4" fill="#3d3dff" text-anchor="end" stroke="#3d3dff" stroke-width="0.151">70</text>
<line x1="600.30" y1="430.50" x2="602.30" y2="430.50" stroke="#111" stroke-width="0.8"/>
<text x="603.50" y="432.40" font-size="5.4" fill="#333" text-anchor="start" stroke="#333" stroke-width="0.151">0.0</text>
<line x1="600.30" y1="402.75" x2="602.30" y2="402.75" stroke="#111" stroke-width="0.8"/>
<text x="603.50" y="404.65" font-size="5.4" fill="#333" text-anchor="start" stroke="#333" stroke-width="0.151">2.5</text>
<line x1="600.30" y1="375.00" x2="602.30" y2="375.00" stroke="#111" stroke-width="0.8"/>
<text x="603.50" y="376.90" font-size="5.4" fill="#333" text-anchor="start" stroke="#333" stroke-width="0.151">5.0</text>
<line x1="600.30" y1="347.25" x2="602.30" y2="347.25" stroke="#111" stroke-width="0.8"/>
<text x="603.50" y="349.15" font-size="5.4" fill="#333" text-anchor="start" stroke="#333" stroke-width="0.151">7.5</text>
<line x1="600.30" y1="319.50" x2="602.30" y2="319.50" stroke="#111" stroke-width="0.8"/>
<text x="603.50" y="321.40" font-size="5.4" fill="#333" text-anchor="start" stroke="#333" stroke-width="0.151">10.0</text>
<line x1="432.30" y1="436.00" x2="432.30" y2="438.00" stroke="#333" stroke-width="0.8"/>
<text x="432.30" y="443.40" font-size="5.4" fill="#444" text-anchor="middle" stroke="#444" stroke-width="0.151">1500</text>
<line x1="464.74" y1="436.00" x2="464.74" y2="438.00" stroke="#333" stroke-width="0.8"/>
<text x="464.74" y="443.40" font-size="5.4" fill="#444" text-anchor="middle" stroke="#444" stroke-width="0.151">1600</text>
<line x1="497.18" y1="436.00" x2="497.18" y2="438.00" stroke="#333" stroke-width="0.8"/>
<text x="497.18" y="443.40" font-size="5.4" fill="#444" text-anchor="middle" stroke="#444" stroke-width="0.151">1700</text>
<line x1="529.62" y1="436.00" x2="529.62" y2="438.00" stroke="#333" stroke-width="0.8"/>
<text x="529.62" y="443.40" font-size="5.4" fill="#444" text-anchor="middle" stroke="#444" stroke-width="0.151">1800</text>
<line x1="545.84" y1="436.00" x2="545.84" y2="438.00" stroke="#333" stroke-width="0.8"/>
<text x="545.84" y="443.40" font-size="5.4" fill="#444" text-anchor="middle" stroke="#444" stroke-width="0.151">1850</text>
<line x1="562.06" y1="436.00" x2="562.06" y2="438.00" stroke="#333" stroke-width="0.8"/>
<text x="562.06" y="443.40" font-size="5.4" fill="#444" text-anchor="middle" stroke="#444" stroke-width="0.151">1900</text>
<line x1="578.28" y1="436.00" x2="578.28" y2="438.00" stroke="#333" stroke-width="0.8"/>
<text x="578.28" y="443.40" font-size="5.4" fill="#444" text-anchor="middle" stroke="#444" stroke-width="0.151">1950</text>
<line x1="594.50" y1="436.00" x2="594.50" y2="438.00" stroke="#333" stroke-width="0.8"/>
<text x="594.50" y="443.40" font-size="5.4" fill="#444" text-anchor="middle" stroke="#444" stroke-width="0.151">2000</text>
<text x="411.30" y="375.85" font-size="6.9" fill="#3a3aff" text-anchor="middle" transform="rotate(-90 411.30 375.85)" stroke="#3a3aff" stroke-width="0.193">Forest cover (%)</text>
<text x="620.50" y="375.95" font-size="7.0" fill="#333" text-anchor="middle" transform="rotate(-90 620.50 375.95)" stroke="#333" stroke-width="0.196">Protected areas cover (%)</text>
<text x="505.60" y="450.00" font-size="7.0" fill="#333" text-anchor="start" stroke="#333" stroke-width="0.196">Year</text>
<line x1="524.60" y1="315.20" x2="524.60" y2="435.50" stroke="#6a6a6a" stroke-width="0.9" stroke-dasharray="3.2 2.8"/>
<line x1="552.60" y1="315.20" x2="552.60" y2="435.50" stroke="#f8ad9c" stroke-width="0.9" stroke-dasharray="3.2 2.8"/>
<line x1="584.40" y1="315.20" x2="584.40" y2="435.50" stroke="#8c8cff" stroke-width="0.9" stroke-dasharray="3.2 2.8"/>
<path d="M503.90,384.80 L506.78,385.62 L509.66,386.86 L512.66,389.12 L515.33,393.02 L517.14,397.13 L518.29,401.24 L518.70,405.35 L517.67,411.52 L515.08,417.13 L511.71,420.76 L505.55,423.56 L501.03,425.08 L498.15,425.90 L457.05,425.90 L454.17,425.08 L449.65,423.56 L443.49,420.76 L440.12,417.13 L437.53,411.52 L436.91,401.24 L438.06,397.13 L439.87,393.02 L442.54,389.12 L445.54,386.86 L448.42,385.62 L451.30,384.80Z" fill="#cfdaec" stroke="#d3ddee" stroke-width="0.8" stroke-linejoin="round"/>
<clipPath id="mc6"><path d="M503.90,384.80 L506.78,385.62 L509.66,386.86 L512.66,389.12 L515.33,393.02 L517.14,397.13 L518.29,401.24 L518.70,405.35 L517.67,411.52 L515.08,417.13 L511.71,420.76 L505.55,423.56 L501.03,425.08 L498.15,425.90 L457.05,425.90 L454.17,425.08 L449.65,423.56 L443.49,420.76 L440.12,417.13 L437.53,411.52 L436.91,401.24 L438.06,397.13 L439.87,393.02 L442.54,389.12 L445.54,386.86 L448.42,385.62 L451.30,384.80Z"/></clipPath><g clip-path="url(#mc6)">
<path d="M449.91,388.45 L454.63,388.02 L458.41,387.60 L462.41,387.60 L464.47,388.02 L465.98,389.80 L466.87,392.17 L464.02,394.15 L461.24,396.43 L459.60,398.98 L457.87,397.71 L456.11,398.72 L455.85,400.25 L457.29,401.27 L458.51,402.80 L459.85,403.31 L458.14,401.78 L456.78,401.78 L454.05,400.25 L453.05,397.71 L452.11,396.69 L451.51,395.16 L452.51,393.16 L452.53,390.73 L450.25,390.25 L448.10,389.80Z" fill="#ede3e3"/>
<path d="M470.04,385.74 L473.55,385.59 L474.53,386.99 L472.56,388.45 L469.94,390.25 L468.58,389.11 L468.68,386.99Z" fill="#e2e8f2"/>
<path d="M459.41,403.06 L461.27,402.29 L463.96,402.80 L466.18,405.35 L469.62,406.88 L468.66,410.96 L466.99,412.23 L465.28,415.03 L464.07,416.04 L464.53,419.02 L462.94,418.04 L462.10,414.27 L461.85,409.94 L459.36,406.62Z" fill="#ede3e3"/>
<path d="M475.46,396.18 L475.74,394.41 L477.20,393.16 L478.58,392.17 L479.10,390.97 L478.49,389.80 L480.09,388.23 L482.46,387.81 L484.31,388.45 L487.44,388.02 L490.23,387.40 L492.50,386.61 L496.54,387.40 L499.99,387.60 L503.85,388.02 L507.81,388.45 L509.14,389.34 L506.78,390.25 L507.85,392.17 L506.07,393.65 L504.65,394.66 L503.63,395.92 L504.34,397.71 L502.27,400.25 L502.09,402.29 L500.36,403.31 L501.34,405.10 L499.90,403.31 L499.04,401.27 L497.71,399.74 L495.68,401.53 L495.12,403.31 L493.75,400.25 L491.37,398.98 L490.01,398.72 L489.35,401.53 L487.58,402.29 L485.31,398.22 L485.31,396.18 L483.46,394.91 L482.74,396.18 L480.79,395.67 L480.07,394.15 L478.63,394.41Z" fill="#ede3e3"/>
<path d="M473.79,400.00 L475.43,396.94 L479.73,395.92 L481.95,397.20 L484.59,397.45 L485.31,398.22 L487.58,402.29 L489.18,402.55 L486.73,406.11 L486.64,409.17 L485.39,411.47 L484.15,413.25 L481.90,414.27 L481.13,412.48 L480.31,409.17 L480.56,406.62 L479.65,404.59 L476.46,404.08 L474.19,402.55Z" fill="#ede3e3"/>
<path d="M503.07,410.96 L505.05,409.94 L507.08,408.41 L508.67,408.41 L510.07,408.15 L510.40,410.19 L511.50,411.98 L510.22,414.01 L508.46,415.28 L507.30,414.27 L505.89,413.50 L502.57,414.27 L502.86,411.98Z" fill="#ede3e3"/>
<path d="M451.21,424.28 L458.91,423.51 L467.30,421.81 L477.60,422.68 L487.78,422.03 L498.19,421.81 L503.99,424.28 L499.47,425.90 L455.73,425.90Z" fill="#e6ecf5"/>
<ellipse cx="463.47" cy="406.88" rx="3.20" ry="2.28" fill="#dde6d8" opacity="0.8"/>
<ellipse cx="466.80" cy="409.94" rx="1.37" ry="1.83" fill="#dde6d8" opacity="0.8"/>
<ellipse cx="482.16" cy="404.84" rx="2.74" ry="1.60" fill="#dde6d8" opacity="0.8"/>
<ellipse cx="500.81" cy="403.31" rx="2.28" ry="1.83" fill="#dde6d8" opacity="0.8"/>
<ellipse cx="504.98" cy="405.86" rx="2.74" ry="1.14" fill="#dde6d8" opacity="0.8"/>
<ellipse cx="457.26" cy="401.53" rx="1.37" ry="0.91" fill="#dde6d8" opacity="0.8"/>
<rect x="436.50" y="383.80" width="82.20" height="6.00" fill="url(#arc)"/>
</g>
<rect x="452.89" y="398.74" width="1.35" height="1.35" fill="#ffff00"/>
<rect x="451.91" y="400.05" width="1.35" height="1.35" fill="#ffff00"/>
<rect x="451.85" y="399.95" width="1.35" height="1.35" fill="#1877ee"/>
<rect x="453.32" y="398.46" width="1.35" height="1.35" fill="#ffff00"/>
<rect x="453.28" y="401.04" width="1.35" height="1.35" fill="#ffff00"/>
<rect x="452.50" y="400.36" width="1.35" height="1.35" fill="#ffff00"/>
<rect x="453.88" y="399.57" width="1.35" height="1.35" fill="#ffff00"/>
<rect x="451.81" y="401.14" width="1.35" height="1.35" fill="#ffff00"/>
<rect x="452.19" y="398.63" width="1.35" height="1.35" fill="#ffff00"/>
<rect x="454.81" y="398.84" width="1.35" height="1.35" fill="#ffff00"/>
<rect x="461.31" y="402.94" width="1.35" height="1.35" fill="#1877ee"/>
<rect x="459.70" y="402.26" width="1.35" height="1.35" fill="#1877ee"/>
<rect x="461.43" y="403.07" width="1.35" height="1.35" fill="#1877ee"/>
<rect x="461.16" y="403.12" width="1.35" height="1.35" fill="#1877ee"/>
<rect x="461.75" y="403.66" width="1.35" height="1.35" fill="#1877ee"/>
<rect x="467.29" y="408.41" width="1.35" height="1.35" fill="#ffff00"/>
<rect x="467.74" y="407.60" width="1.35" height="1.35" fill="#ffff00"/>
<rect x="465.97" y="408.05" width="1.35" height="1.35" fill="#ffff00"/>
<rect x="466.07" y="408.29" width="1.35" height="1.35" fill="#1877ee"/>
<rect x="467.56" y="409.22" width="1.35" height="1.35" fill="#ffff00"/>
<rect x="468.16" y="407.69" width="1.35" height="1.35" fill="#ffff00"/>
<rect x="467.35" y="408.60" width="1.35" height="1.35" fill="#ffff00"/>
<rect x="468.06" y="409.84" width="1.35" height="1.35" fill="#ffff00"/>
<rect x="467.55" y="406.83" width="1.35" height="1.35" fill="#ffff00"/>
<rect x="467.50" y="410.00" width="1.35" height="1.35" fill="#ffff00"/>
<rect x="462.04" y="410.10" width="1.35" height="1.35" fill="#ffff00"/>
<rect x="461.20" y="410.25" width="1.35" height="1.35" fill="#ffff00"/>
<rect x="461.50" y="409.44" width="1.35" height="1.35" fill="#ffff00"/>
<rect x="461.54" y="409.82" width="1.35" height="1.35" fill="#ffff00"/>
<rect x="463.91" y="409.49" width="1.35" height="1.35" fill="#ffff00"/>
<rect x="481.47" y="409.65" width="1.35" height="1.35" fill="#1877ee"/>
<rect x="481.79" y="408.74" width="1.35" height="1.35" fill="#1877ee"/>
<rect x="486.38" y="411.09" width="1.35" height="1.35" fill="#ffff00"/>
<rect x="486.18" y="409.68" width="1.35" height="1.35" fill="#ffff00"/>
<rect x="486.26" y="410.29" width="1.35" height="1.35" fill="#ffff00"/>
<rect x="493.02" y="398.24" width="1.35" height="1.35" fill="#ffff00"/>
<rect x="493.38" y="400.77" width="1.35" height="1.35" fill="#ffff00"/>
<rect x="494.47" y="400.54" width="1.35" height="1.35" fill="#ffff00"/>
<rect x="494.42" y="398.47" width="1.35" height="1.35" fill="#ffff00"/>
<rect x="494.78" y="402.16" width="1.35" height="1.35" fill="#ffff00"/>
<rect x="493.46" y="400.02" width="1.35" height="1.35" fill="#ffff00"/>
<rect x="494.28" y="398.51" width="1.35" height="1.35" fill="#ffff00"/>
<rect x="492.83" y="398.96" width="1.35" height="1.35" fill="#ffff00"/>
<rect x="492.30" y="398.23" width="1.35" height="1.35" fill="#ffff00"/>
<rect x="492.47" y="399.86" width="1.35" height="1.35" fill="#1877ee"/>
<rect x="495.10" y="400.99" width="1.35" height="1.35" fill="#ffff00"/>
<rect x="492.98" y="399.79" width="1.35" height="1.35" fill="#ffff00"/>
<rect x="492.54" y="402.05" width="1.35" height="1.35" fill="#ffff00"/>
<rect x="493.71" y="400.40" width="1.35" height="1.35" fill="#ffff00"/>
<rect x="499.15" y="401.64" width="1.35" height="1.35" fill="#1877ee"/>
<rect x="500.75" y="401.32" width="1.35" height="1.35" fill="#1877ee"/>
<rect x="501.02" y="401.98" width="1.35" height="1.35" fill="#1877ee"/>
<rect x="500.12" y="401.07" width="1.35" height="1.35" fill="#ffff00"/>
<rect x="501.08" y="402.58" width="1.35" height="1.35" fill="#ffff00"/>
<rect x="499.50" y="401.69" width="1.35" height="1.35" fill="#1877ee"/>
<rect x="504.87" y="408.12" width="1.35" height="1.35" fill="#ffff00"/>
<rect x="503.98" y="407.66" width="1.35" height="1.35" fill="#ffff00"/>
<rect x="505.29" y="408.60" width="1.35" height="1.35" fill="#ffff00"/>
<text x="449.20" y="367.50" font-size="7.3" fill="#1a1a1a" text-anchor="start" font-weight="bold" stroke="#1a1a1a" stroke-width="0.100">PAs vs Non-PAs</text>
<rect x="434.90" y="371.25" width="8.1" height="4.0" fill="#1877ee"/>
<text x="445.00" y="375.50" font-size="5.55" fill="#333" text-anchor="start" stroke="#333" stroke-width="0.155">615 cells covered by PAs</text>
<rect x="434.90" y="377.45" width="8.1" height="4.0" fill="#ffff00"/>
<text x="445.00" y="381.70" font-size="5.55" fill="#333" text-anchor="start" stroke="#333" stroke-width="0.155">1803 cells not covered by PAs</text>
<polyline points="432.90,349.70 463.90,349.70 499.90,351.30 510.00,352.30 524.60,353.40 539.30,355.60 552.60,358.30 564.80,362.00 572.20,365.60 577.60,370.20 582.20,374.80 586.80,376.60 591.40,379.70" fill="none" stroke="#2424f0" stroke-width="1.3" stroke-linejoin="round" stroke-linecap="butt"/>
<polyline points="432.50,430.20 568.50,430.20 572.20,429.60 578.60,427.80 582.20,426.00 584.60,422.30 585.50,415.90 586.40,408.60 587.70,403.10 589.00,399.50 590.40,394.00 591.70,383.00 591.70,380.80" fill="none" stroke="#111111" stroke-width="1.1" stroke-linejoin="round" stroke-linecap="butt"/>
<text x="553.30" y="379.20" font-size="5.7" fill="#222" text-anchor="start" stroke="#222" stroke-width="0.160">1755 PAs</text>
<line x1="577.60" y1="378.40" x2="591.70" y2="380.80" stroke="#111" stroke-width="0.8"/>
<polygon points="591.70,380.80 589.59,381.41 589.91,379.52" fill="#111"/>
<text x="14.10" y="458.70" font-size="12" fill="#000" text-anchor="start" font-weight="bold" stroke="#000" stroke-width="0.100">m</text>
<rect x="20.50" y="463.90" width="175.70" height="121.40" fill="none" stroke="#4a4a4a" stroke-width="1.2"/>
<line x1="20.50" y1="463.90" x2="20.50" y2="585.30" stroke="#111" stroke-width="1"/>
<line x1="20.50" y1="585.30" x2="196.20" y2="585.30" stroke="#111" stroke-width="1"/>
<line x1="196.20" y1="463.90" x2="196.20" y2="585.30" stroke="#555" stroke-width="1.2"/>
<line x1="18.50" y1="579.60" x2="20.50" y2="579.60" stroke="#3030ff" stroke-width="0.8"/>
<text x="17.70" y="581.50" font-size="5.4" fill="#3d3dff" text-anchor="end" stroke="#3d3dff" stroke-width="0.151">0</text>
<line x1="18.50" y1="571.70" x2="20.50" y2="571.70" stroke="#3030ff" stroke-width="0.8"/>
<text x="17.70" y="573.60" font-size="5.4" fill="#3d3dff" text-anchor="end" stroke="#3d3dff" stroke-width="0.151">5</text>
<line x1="18.50" y1="563.80" x2="20.50" y2="563.80" stroke="#3030ff" stroke-width="0.8"/>
<text x="17.70" y="565.70" font-size="5.4" fill="#3d3dff" text-anchor="end" stroke="#3d3dff" stroke-width="0.151">10</text>
<line x1="18.50" y1="555.90" x2="20.50" y2="555.90" stroke="#3030ff" stroke-width="0.8"/>
<text x="17.70" y="557.80" font-size="5.4" fill="#3d3dff" text-anchor="end" stroke="#3d3dff" stroke-width="0.151">15</text>
<line x1="18.50" y1="548.00" x2="20.50" y2="548.00" stroke="#3030ff" stroke-width="0.8"/>
<text x="17.70" y="549.90" font-size="5.4" fill="#3d3dff" text-anchor="end" stroke="#3d3dff" stroke-width="0.151">20</text>
<line x1="18.50" y1="540.10" x2="20.50" y2="540.10" stroke="#3030ff" stroke-width="0.8"/>
<text x="17.70" y="542.00" font-size="5.4" fill="#3d3dff" text-anchor="end" stroke="#3d3dff" stroke-width="0.151">25</text>
<line x1="18.50" y1="532.20" x2="20.50" y2="532.20" stroke="#3030ff" stroke-width="0.8"/>
<text x="17.70" y="534.10" font-size="5.4" fill="#3d3dff" text-anchor="end" stroke="#3d3dff" stroke-width="0.151">30</text>
<line x1="18.50" y1="524.30" x2="20.50" y2="524.30" stroke="#3030ff" stroke-width="0.8"/>
<text x="17.70" y="526.20" font-size="5.4" fill="#3d3dff" text-anchor="end" stroke="#3d3dff" stroke-width="0.151">35</text>
<line x1="18.50" y1="516.40" x2="20.50" y2="516.40" stroke="#3030ff" stroke-width="0.8"/>
<text x="17.70" y="518.30" font-size="5.4" fill="#3d3dff" text-anchor="end" stroke="#3d3dff" stroke-width="0.151">40</text>
<line x1="18.50" y1="508.50" x2="20.50" y2="508.50" stroke="#3030ff" stroke-width="0.8"/>
<text x="17.70" y="510.40" font-size="5.4" fill="#3d3dff" text-anchor="end" stroke="#3d3dff" stroke-width="0.151">45</text>
<line x1="18.50" y1="500.60" x2="20.50" y2="500.60" stroke="#3030ff" stroke-width="0.8"/>
<text x="17.70" y="502.50" font-size="5.4" fill="#3d3dff" text-anchor="end" stroke="#3d3dff" stroke-width="0.151">50</text>
<line x1="18.50" y1="492.70" x2="20.50" y2="492.70" stroke="#3030ff" stroke-width="0.8"/>
<text x="17.70" y="494.60" font-size="5.4" fill="#3d3dff" text-anchor="end" stroke="#3d3dff" stroke-width="0.151">55</text>
<line x1="18.50" y1="484.80" x2="20.50" y2="484.80" stroke="#3030ff" stroke-width="0.8"/>
<text x="17.70" y="486.70" font-size="5.4" fill="#3d3dff" text-anchor="end" stroke="#3d3dff" stroke-width="0.151">60</text>
<line x1="18.50" y1="476.90" x2="20.50" y2="476.90" stroke="#3030ff" stroke-width="0.8"/>
<text x="17.70" y="478.80" font-size="5.4" fill="#3d3dff" text-anchor="end" stroke="#3d3dff" stroke-width="0.151">65</text>
<line x1="18.50" y1="469.00" x2="20.50" y2="469.00" stroke="#3030ff" stroke-width="0.8"/>
<text x="17.70" y="470.90" font-size="5.4" fill="#3d3dff" text-anchor="end" stroke="#3d3dff" stroke-width="0.151">70</text>
<line x1="196.20" y1="579.60" x2="198.20" y2="579.60" stroke="#111" stroke-width="0.8"/>
<text x="199.40" y="581.50" font-size="5.4" fill="#333" text-anchor="start" stroke="#333" stroke-width="0.151">0.0</text>
<line x1="196.20" y1="551.95" x2="198.20" y2="551.95" stroke="#111" stroke-width="0.8"/>
<text x="199.40" y="553.85" font-size="5.4" fill="#333" text-anchor="start" stroke="#333" stroke-width="0.151">2.5</text>
<line x1="196.20" y1="524.30" x2="198.20" y2="524.30" stroke="#111" stroke-width="0.8"/>
<text x="199.40" y="526.20" font-size="5.4" fill="#333" text-anchor="start" stroke="#333" stroke-width="0.151">5.0</text>
<line x1="196.20" y1="496.65" x2="198.20" y2="496.65" stroke="#111" stroke-width="0.8"/>
<text x="199.40" y="498.55" font-size="5.4" fill="#333" text-anchor="start" stroke="#333" stroke-width="0.151">7.5</text>
<line x1="196.20" y1="469.00" x2="198.20" y2="469.00" stroke="#111" stroke-width="0.8"/>
<text x="199.40" y="470.90" font-size="5.4" fill="#333" text-anchor="start" stroke="#333" stroke-width="0.151">10.0</text>
<line x1="28.80" y1="585.30" x2="28.80" y2="587.30" stroke="#333" stroke-width="0.8"/>
<text x="28.80" y="592.70" font-size="5.4" fill="#444" text-anchor="middle" stroke="#444" stroke-width="0.151">1500</text>
<line x1="61.16" y1="585.30" x2="61.16" y2="587.30" stroke="#333" stroke-width="0.8"/>
<text x="61.16" y="592.70" font-size="5.4" fill="#444" text-anchor="middle" stroke="#444" stroke-width="0.151">1600</text>
<line x1="93.52" y1="585.30" x2="93.52" y2="587.30" stroke="#333" stroke-width="0.8"/>
<text x="93.52" y="592.70" font-size="5.4" fill="#444" text-anchor="middle" stroke="#444" stroke-width="0.151">1700</text>
<line x1="125.88" y1="585.30" x2="125.88" y2="587.30" stroke="#333" stroke-width="0.8"/>
<text x="125.88" y="592.70" font-size="5.4" fill="#444" text-anchor="middle" stroke="#444" stroke-width="0.151">1800</text>
<line x1="142.06" y1="585.30" x2="142.06" y2="587.30" stroke="#333" stroke-width="0.8"/>
<text x="142.06" y="592.70" font-size="5.4" fill="#444" text-anchor="middle" stroke="#444" stroke-width="0.151">1850</text>
<line x1="158.24" y1="585.30" x2="158.24" y2="587.30" stroke="#333" stroke-width="0.8"/>
<text x="158.24" y="592.70" font-size="5.4" fill="#444" text-anchor="middle" stroke="#444" stroke-width="0.151">1900</text>
<line x1="174.42" y1="585.30" x2="174.42" y2="587.30" stroke="#333" stroke-width="0.8"/>
<text x="174.42" y="592.70" font-size="5.4" fill="#444" text-anchor="middle" stroke="#444" stroke-width="0.151">1950</text>
<line x1="190.60" y1="585.30" x2="190.60" y2="587.30" stroke="#333" stroke-width="0.8"/>
<text x="190.60" y="592.70" font-size="5.4" fill="#444" text-anchor="middle" stroke="#444" stroke-width="0.151">2000</text>
<text x="6.60" y="525.10" font-size="6.9" fill="#3a3aff" text-anchor="middle" transform="rotate(-90 6.60 525.10)" stroke="#3a3aff" stroke-width="0.193">Forest cover (%)</text>
<text x="216.40" y="525.20" font-size="7.0" fill="#333" text-anchor="middle" transform="rotate(-90 216.40 525.20)" stroke="#333" stroke-width="0.196">Protected areas cover (%)</text>
<text x="101.25" y="599.50" font-size="7.0" fill="#333" text-anchor="start" stroke="#333" stroke-width="0.196">Year</text>
<line x1="120.40" y1="464.40" x2="120.40" y2="584.80" stroke="#6a6a6a" stroke-width="0.9" stroke-dasharray="3.2 2.8"/>
<line x1="148.50" y1="464.40" x2="148.50" y2="584.80" stroke="#f8ad9c" stroke-width="0.9" stroke-dasharray="3.2 2.8"/>
<line x1="180.50" y1="464.40" x2="180.50" y2="584.80" stroke="#8c8cff" stroke-width="0.9" stroke-dasharray="3.2 2.8"/>
<path d="M99.81,532.50 L102.71,533.31 L105.60,534.52 L108.62,536.75 L111.31,540.60 L113.13,544.65 L114.29,548.70 L114.70,552.75 L113.67,558.83 L111.06,564.35 L107.67,567.94 L101.47,570.69 L96.92,572.19 L94.02,573.00 L52.67,573.00 L49.78,572.19 L45.23,570.69 L39.03,567.94 L35.64,564.35 L33.03,558.83 L32.41,548.70 L33.57,544.65 L35.39,540.60 L38.08,536.75 L41.10,534.52 L43.99,533.31 L46.89,532.50Z" fill="#cfdaec" stroke="#d3ddee" stroke-width="0.8" stroke-linejoin="round"/>
<clipPath id="mc7"><path d="M99.81,532.50 L102.71,533.31 L105.60,534.52 L108.62,536.75 L111.31,540.60 L113.13,544.65 L114.29,548.70 L114.70,552.75 L113.67,558.83 L111.06,564.35 L107.67,567.94 L101.47,570.69 L96.92,572.19 L94.02,573.00 L52.67,573.00 L49.78,572.19 L45.23,570.69 L39.03,567.94 L35.64,564.35 L33.03,558.83 L32.41,548.70 L33.57,544.65 L35.39,540.60 L38.08,536.75 L41.10,534.52 L43.99,533.31 L46.89,532.50Z"/></clipPath><g clip-path="url(#mc7)">
<path d="M45.49,536.10 L50.24,535.67 L54.04,535.26 L58.06,535.26 L60.14,535.67 L61.66,537.42 L62.55,539.76 L59.69,541.72 L56.89,543.96 L55.24,546.47 L53.50,545.22 L51.73,546.22 L51.46,547.73 L52.91,548.73 L54.14,550.24 L55.49,550.74 L53.77,549.23 L52.40,549.23 L49.66,547.73 L48.65,545.22 L47.70,544.21 L47.10,542.71 L48.10,540.73 L48.13,538.34 L45.83,537.87 L43.67,537.42Z" fill="#ede3e3"/>
<path d="M65.75,533.43 L69.27,533.28 L70.26,534.65 L68.28,536.10 L65.64,537.87 L64.27,536.75 L64.38,534.65Z" fill="#e2e8f2"/>
<path d="M55.04,550.49 L56.92,549.74 L59.63,550.24 L61.86,552.75 L65.33,554.26 L64.36,558.27 L62.68,559.53 L60.96,562.29 L59.74,563.29 L60.20,566.22 L58.60,565.26 L57.76,561.54 L57.51,557.27 L55.00,554.01Z" fill="#ede3e3"/>
<path d="M71.19,543.71 L71.48,541.97 L72.95,540.73 L74.33,539.76 L74.86,538.58 L74.25,537.42 L75.85,535.88 L78.24,535.47 L80.10,536.10 L83.25,535.67 L86.06,535.06 L88.34,534.28 L92.41,535.06 L95.88,535.26 L99.76,535.67 L103.74,536.10 L105.09,536.97 L102.70,537.87 L103.78,539.76 L101.99,541.22 L100.57,542.21 L99.53,543.46 L100.26,545.22 L98.17,547.73 L97.99,549.74 L96.25,550.74 L97.23,552.50 L95.79,550.74 L94.92,548.73 L93.58,547.23 L91.54,548.98 L90.98,550.74 L89.60,547.73 L87.21,546.47 L85.83,546.22 L85.18,548.98 L83.39,549.74 L81.11,545.72 L81.11,543.71 L79.25,542.46 L78.52,543.71 L76.55,543.21 L75.83,541.72 L74.39,541.97Z" fill="#ede3e3"/>
<path d="M69.52,547.48 L71.17,544.46 L75.50,543.46 L77.73,544.71 L80.38,544.97 L81.11,545.72 L83.39,549.74 L85.00,549.99 L82.53,553.50 L82.45,556.52 L81.19,558.78 L79.94,560.53 L77.68,561.54 L76.90,559.78 L76.08,556.52 L76.33,554.01 L75.42,552.00 L72.20,551.49 L69.92,549.99Z" fill="#ede3e3"/>
<path d="M98.98,558.27 L100.96,557.27 L103.01,555.76 L104.61,555.76 L106.01,555.51 L106.34,557.52 L107.46,559.28 L106.17,561.29 L104.40,562.54 L103.24,561.54 L101.81,560.79 L98.47,561.54 L98.76,559.28Z" fill="#ede3e3"/>
<path d="M46.80,571.40 L54.54,570.64 L62.99,568.97 L73.35,569.83 L83.59,569.18 L94.07,568.97 L99.90,571.40 L95.36,573.00 L51.34,573.00Z" fill="#e6ecf5"/>
<ellipse cx="59.14" cy="554.26" rx="3.22" ry="2.25" fill="#dde6d8" opacity="0.8"/>
<ellipse cx="62.49" cy="557.27" rx="1.38" ry="1.80" fill="#dde6d8" opacity="0.8"/>
<ellipse cx="77.94" cy="552.25" rx="2.76" ry="1.57" fill="#dde6d8" opacity="0.8"/>
<ellipse cx="96.70" cy="550.74" rx="2.30" ry="1.80" fill="#dde6d8" opacity="0.8"/>
<ellipse cx="100.90" cy="553.25" rx="2.76" ry="1.12" fill="#dde6d8" opacity="0.8"/>
<ellipse cx="52.88" cy="548.98" rx="1.38" ry="0.90" fill="#dde6d8" opacity="0.8"/>
<rect x="32.00" y="531.50" width="82.70" height="5.92" fill="url(#arc)"/>
</g>
<rect x="50.94" y="547.45" width="1.35" height="1.35" fill="#ffff00"/>
<rect x="49.69" y="548.53" width="1.35" height="1.35" fill="#1877ee"/>
<rect x="49.61" y="548.45" width="1.35" height="1.35" fill="#1877ee"/>
<rect x="51.49" y="547.22" width="1.35" height="1.35" fill="#1877ee"/>
<rect x="51.45" y="549.34" width="1.35" height="1.35" fill="#1877ee"/>
<rect x="50.44" y="548.78" width="1.35" height="1.35" fill="#ffff00"/>
<rect x="52.21" y="548.14" width="1.35" height="1.35" fill="#ffff00"/>
<rect x="49.56" y="549.43" width="1.35" height="1.35" fill="#1877ee"/>
<rect x="50.05" y="547.35" width="1.35" height="1.35" fill="#1877ee"/>
<rect x="53.41" y="547.53" width="1.35" height="1.35" fill="#ffff00"/>
<rect x="52.52" y="548.07" width="1.35" height="1.35" fill="#ffff00"/>
<rect x="49.64" y="547.19" width="1.35" height="1.35" fill="#1877ee"/>
<rect x="60.10" y="553.60" width="1.35" height="1.35" fill="#ffff00"/>
<rect x="59.14" y="553.86" width="1.35" height="1.35" fill="#ffff00"/>
<rect x="61.25" y="556.31" width="1.35" height="1.35" fill="#1877ee"/>
<rect x="59.03" y="554.58" width="1.35" height="1.35" fill="#ffff00"/>
<rect x="60.59" y="552.20" width="1.35" height="1.35" fill="#ffff00"/>
<rect x="54.42" y="553.51" width="1.35" height="1.35" fill="#ffff00"/>
<rect x="54.76" y="554.21" width="1.35" height="1.35" fill="#1877ee"/>
<rect x="59.97" y="556.97" width="1.35" height="1.35" fill="#ffff00"/>
<rect x="62.07" y="552.46" width="1.35" height="1.35" fill="#ffff00"/>
<rect x="59.23" y="555.12" width="1.35" height="1.35" fill="#ffff00"/>
<rect x="61.71" y="558.77" width="1.35" height="1.35" fill="#ffff00"/>
<rect x="59.93" y="549.93" width="1.35" height="1.35" fill="#ffff00"/>
<rect x="59.76" y="559.26" width="1.35" height="1.35" fill="#ffff00"/>
<rect x="56.10" y="553.18" width="1.35" height="1.35" fill="#ffff00"/>
<rect x="53.45" y="553.94" width="1.35" height="1.35" fill="#1877ee"/>
<rect x="54.41" y="549.91" width="1.35" height="1.35" fill="#ffff00"/>
<rect x="54.53" y="551.80" width="1.35" height="1.35" fill="#ffff00"/>
<rect x="62.03" y="550.13" width="1.35" height="1.35" fill="#ffff00"/>
<rect x="58.77" y="558.16" width="1.35" height="1.35" fill="#ffff00"/>
<rect x="61.95" y="552.11" width="1.35" height="1.35" fill="#ffff00"/>
<rect x="56.85" y="558.17" width="1.35" height="1.35" fill="#ffff00"/>
<rect x="54.75" y="551.09" width="1.35" height="1.35" fill="#1877ee"/>
<rect x="55.58" y="554.17" width="1.35" height="1.35" fill="#ffff00"/>
<rect x="55.88" y="549.37" width="1.35" height="1.35" fill="#ffff00"/>
<rect x="56.95" y="554.99" width="1.35" height="1.35" fill="#ffff00"/>
<rect x="60.20" y="554.48" width="1.35" height="1.35" fill="#ffff00"/>
<rect x="60.05" y="549.86" width="1.35" height="1.35" fill="#ffff00"/>
<rect x="61.10" y="558.07" width="1.35" height="1.35" fill="#ffff00"/>
<rect x="57.19" y="553.31" width="1.35" height="1.35" fill="#1877ee"/>
<rect x="59.63" y="549.95" width="1.35" height="1.35" fill="#1877ee"/>
<rect x="55.33" y="550.95" width="1.35" height="1.35" fill="#ffff00"/>
<rect x="53.76" y="549.33" width="1.35" height="1.35" fill="#1877ee"/>
<rect x="54.25" y="552.96" width="1.35" height="1.35" fill="#1877ee"/>
<rect x="62.06" y="555.47" width="1.35" height="1.35" fill="#1877ee"/>
<rect x="55.77" y="552.80" width="1.35" height="1.35" fill="#ffff00"/>
<rect x="54.47" y="557.81" width="1.35" height="1.35" fill="#ffff00"/>
<rect x="57.93" y="554.16" width="1.35" height="1.35" fill="#1877ee"/>
<rect x="54.26" y="552.75" width="1.35" height="1.35" fill="#ffff00"/>
<rect x="61.60" y="550.94" width="1.35" height="1.35" fill="#1877ee"/>
<rect x="62.83" y="554.61" width="1.35" height="1.35" fill="#1877ee"/>
<rect x="58.71" y="549.60" width="1.35" height="1.35" fill="#ffff00"/>
<rect x="63.11" y="557.96" width="1.35" height="1.35" fill="#ffff00"/>
<rect x="55.86" y="552.99" width="1.35" height="1.35" fill="#1877ee"/>
<rect x="61.02" y="554.65" width="1.35" height="1.35" fill="#ffff00"/>
<rect x="56.55" y="551.56" width="1.35" height="1.35" fill="#ffff00"/>
<rect x="63.17" y="557.85" width="1.35" height="1.35" fill="#ffff00"/>
<rect x="61.49" y="556.72" width="1.35" height="1.35" fill="#1877ee"/>
<rect x="58.45" y="552.88" width="1.35" height="1.35" fill="#1877ee"/>
<rect x="53.51" y="552.12" width="1.35" height="1.35" fill="#ffff00"/>
<rect x="60.22" y="558.89" width="1.35" height="1.35" fill="#ffff00"/>
<rect x="62.69" y="559.21" width="1.35" height="1.35" fill="#ffff00"/>
<rect x="56.91" y="551.53" width="1.35" height="1.35" fill="#1877ee"/>
<rect x="55.21" y="551.37" width="1.35" height="1.35" fill="#ffff00"/>
<rect x="62.32" y="557.73" width="1.35" height="1.35" fill="#ffff00"/>
<rect x="59.82" y="557.32" width="1.35" height="1.35" fill="#1877ee"/>
<rect x="59.90" y="558.42" width="1.35" height="1.35" fill="#ffff00"/>
<rect x="60.80" y="554.11" width="1.35" height="1.35" fill="#1877ee"/>
<rect x="61.20" y="552.65" width="1.35" height="1.35" fill="#ffff00"/>
<rect x="63.04" y="553.28" width="1.35" height="1.35" fill="#ffff00"/>
<rect x="62.79" y="556.57" width="1.35" height="1.35" fill="#1877ee"/>
<rect x="54.51" y="550.84" width="1.35" height="1.35" fill="#ffff00"/>
<rect x="61.37" y="550.79" width="1.35" height="1.35" fill="#ffff00"/>
<rect x="63.13" y="555.90" width="1.35" height="1.35" fill="#ffff00"/>
<rect x="58.77" y="550.63" width="1.35" height="1.35" fill="#1877ee"/>
<rect x="63.03" y="555.82" width="1.35" height="1.35" fill="#ffff00"/>
<rect x="62.65" y="553.66" width="1.35" height="1.35" fill="#ffff00"/>
<rect x="61.57" y="551.44" width="1.35" height="1.35" fill="#ffff00"/>
<rect x="56.18" y="551.73" width="1.35" height="1.35" fill="#ffff00"/>
<rect x="55.84" y="553.52" width="1.35" height="1.35" fill="#1877ee"/>
<rect x="62.42" y="552.86" width="1.35" height="1.35" fill="#ffff00"/>
<rect x="59.12" y="558.37" width="1.35" height="1.35" fill="#ffff00"/>
<rect x="62.49" y="554.34" width="1.35" height="1.35" fill="#ffff00"/>
<rect x="58.51" y="549.51" width="1.35" height="1.35" fill="#ffff00"/>
<rect x="55.07" y="549.36" width="1.35" height="1.35" fill="#ffff00"/>
<rect x="54.97" y="554.06" width="1.35" height="1.35" fill="#ffff00"/>
<rect x="58.85" y="552.58" width="1.35" height="1.35" fill="#ffff00"/>
<rect x="58.83" y="557.17" width="1.35" height="1.35" fill="#1877ee"/>
<rect x="58.88" y="551.81" width="1.35" height="1.35" fill="#ffff00"/>
<rect x="61.02" y="554.40" width="1.35" height="1.35" fill="#ffff00"/>
<rect x="60.90" y="558.45" width="1.35" height="1.35" fill="#ffff00"/>
<rect x="59.41" y="554.38" width="1.35" height="1.35" fill="#ffff00"/>
<rect x="60.22" y="553.85" width="1.35" height="1.35" fill="#ffff00"/>
<rect x="58.05" y="558.74" width="1.35" height="1.35" fill="#ffff00"/>
<rect x="62.08" y="558.75" width="1.35" height="1.35" fill="#ffff00"/>
<rect x="58.88" y="558.76" width="1.35" height="1.35" fill="#ffff00"/>
<rect x="54.61" y="550.54" width="1.35" height="1.35" fill="#ffff00"/>
<rect x="53.96" y="551.73" width="1.35" height="1.35" fill="#1877ee"/>
<rect x="59.99" y="557.16" width="1.35" height="1.35" fill="#ffff00"/>
<rect x="54.78" y="556.49" width="1.35" height="1.35" fill="#ffff00"/>
<rect x="54.67" y="558.15" width="1.35" height="1.35" fill="#ffff00"/>
<rect x="60.75" y="561.09" width="1.35" height="1.35" fill="#ffff00"/>
<rect x="61.63" y="561.27" width="1.35" height="1.35" fill="#ffff00"/>
<rect x="60.56" y="558.48" width="1.35" height="1.35" fill="#ffff00"/>
<rect x="61.14" y="557.30" width="1.35" height="1.35" fill="#ffff00"/>
<rect x="62.41" y="556.42" width="1.35" height="1.35" fill="#ffff00"/>
<rect x="61.48" y="556.42" width="1.35" height="1.35" fill="#ffff00"/>
<rect x="62.08" y="558.89" width="1.35" height="1.35" fill="#1877ee"/>
<rect x="63.28" y="560.27" width="1.35" height="1.35" fill="#ffff00"/>
<rect x="60.37" y="557.65" width="1.35" height="1.35" fill="#1877ee"/>
<rect x="62.60" y="557.68" width="1.35" height="1.35" fill="#1877ee"/>
<rect x="74.73" y="554.47" width="1.35" height="1.35" fill="#ffff00"/>
<rect x="72.52" y="550.59" width="1.35" height="1.35" fill="#ffff00"/>
<rect x="76.73" y="553.40" width="1.35" height="1.35" fill="#1877ee"/>
<rect x="69.80" y="553.33" width="1.35" height="1.35" fill="#ffff00"/>
<rect x="70.00" y="554.61" width="1.35" height="1.35" fill="#ffff00"/>
<rect x="79.85" y="550.25" width="1.35" height="1.35" fill="#ffff00"/>
<rect x="69.92" y="554.23" width="1.35" height="1.35" fill="#ffff00"/>
<rect x="73.60" y="552.65" width="1.35" height="1.35" fill="#ffff00"/>
<rect x="72.64" y="550.48" width="1.35" height="1.35" fill="#ffff00"/>
<rect x="72.24" y="550.38" width="1.35" height="1.35" fill="#1877ee"/>
<rect x="69.71" y="550.85" width="1.35" height="1.35" fill="#ffff00"/>
<rect x="73.14" y="553.70" width="1.35" height="1.35" fill="#1877ee"/>
<rect x="75.78" y="550.73" width="1.35" height="1.35" fill="#ffff00"/>
<rect x="69.27" y="551.10" width="1.35" height="1.35" fill="#1877ee"/>
<rect x="78.92" y="552.64" width="1.35" height="1.35" fill="#1877ee"/>
<rect x="75.43" y="554.59" width="1.35" height="1.35" fill="#1877ee"/>
<rect x="80.08" y="552.03" width="1.35" height="1.35" fill="#ffff00"/>
<rect x="80.29" y="551.83" width="1.35" height="1.35" fill="#ffff00"/>
<rect x="78.31" y="554.84" width="1.35" height="1.35" fill="#ffff00"/>
<rect x="80.26" y="553.43" width="1.35" height="1.35" fill="#ffff00"/>
<rect x="74.49" y="551.60" width="1.35" height="1.35" fill="#1877ee"/>
<rect x="70.78" y="550.19" width="1.35" height="1.35" fill="#ffff00"/>
<rect x="72.48" y="550.66" width="1.35" height="1.35" fill="#1877ee"/>
<rect x="80.38" y="554.26" width="1.35" height="1.35" fill="#ffff00"/>
<rect x="72.83" y="551.06" width="1.35" height="1.35" fill="#1877ee"/>
<rect x="75.23" y="550.63" width="1.35" height="1.35" fill="#ffff00"/>
<rect x="72.58" y="554.73" width="1.35" height="1.35" fill="#ffff00"/>
<rect x="76.41" y="551.07" width="1.35" height="1.35" fill="#ffff00"/>
<rect x="73.20" y="551.64" width="1.35" height="1.35" fill="#1877ee"/>
<rect x="74.18" y="552.25" width="1.35" height="1.35" fill="#ffff00"/>
<rect x="71.74" y="552.40" width="1.35" height="1.35" fill="#1877ee"/>
<rect x="72.59" y="550.28" width="1.35" height="1.35" fill="#ffff00"/>
<rect x="69.59" y="549.94" width="1.35" height="1.35" fill="#ffff00"/>
<rect x="72.17" y="552.81" width="1.35" height="1.35" fill="#ffff00"/>
<rect x="79.16" y="553.18" width="1.35" height="1.35" fill="#ffff00"/>
<rect x="80.89" y="551.81" width="1.35" height="1.35" fill="#ffff00"/>
<rect x="82.32" y="550.59" width="1.35" height="1.35" fill="#ffff00"/>
<rect x="77.71" y="550.05" width="1.35" height="1.35" fill="#ffff00"/>
<rect x="81.07" y="553.02" width="1.35" height="1.35" fill="#ffff00"/>
<rect x="79.99" y="550.54" width="1.35" height="1.35" fill="#ffff00"/>
<rect x="75.83" y="554.08" width="1.35" height="1.35" fill="#ffff00"/>
<rect x="80.18" y="552.80" width="1.35" height="1.35" fill="#ffff00"/>
<rect x="78.24" y="553.36" width="1.35" height="1.35" fill="#1877ee"/>
<rect x="69.45" y="550.50" width="1.35" height="1.35" fill="#ffff00"/>
<rect x="70.44" y="554.09" width="1.35" height="1.35" fill="#ffff00"/>
<rect x="82.45" y="556.58" width="1.35" height="1.35" fill="#ffff00"/>
<rect x="82.31" y="555.33" width="1.35" height="1.35" fill="#ffff00"/>
<rect x="97.40" y="547.04" width="1.35" height="1.35" fill="#ffff00"/>
<rect x="96.30" y="544.59" width="1.35" height="1.35" fill="#ffff00"/>
<rect x="91.25" y="544.64" width="1.35" height="1.35" fill="#ffff00"/>
<rect x="97.17" y="545.37" width="1.35" height="1.35" fill="#ffff00"/>
<rect x="100.22" y="546.99" width="1.35" height="1.35" fill="#ffff00"/>
<rect x="94.06" y="548.05" width="1.35" height="1.35" fill="#ffff00"/>
<rect x="95.78" y="547.82" width="1.35" height="1.35" fill="#1877ee"/>
<rect x="89.95" y="545.65" width="1.35" height="1.35" fill="#ffff00"/>
<rect x="91.90" y="547.40" width="1.35" height="1.35" fill="#1877ee"/>
<rect x="88.88" y="545.73" width="1.35" height="1.35" fill="#ffff00"/>
<rect x="96.71" y="548.01" width="1.35" height="1.35" fill="#ffff00"/>
<rect x="94.53" y="546.83" width="1.35" height="1.35" fill="#ffff00"/>
<rect x="89.59" y="549.23" width="1.35" height="1.35" fill="#ffff00"/>
<rect x="100.25" y="549.47" width="1.35" height="1.35" fill="#1877ee"/>
<rect x="93.82" y="548.82" width="1.35" height="1.35" fill="#ffff00"/>
<rect x="93.70" y="545.73" width="1.35" height="1.35" fill="#ffff00"/>
<rect x="99.85" y="545.40" width="1.35" height="1.35" fill="#ffff00"/>
<rect x="89.88" y="547.16" width="1.35" height="1.35" fill="#ffff00"/>
<rect x="89.77" y="548.82" width="1.35" height="1.35" fill="#ffff00"/>
<rect x="99.12" y="548.16" width="1.35" height="1.35" fill="#ffff00"/>
<rect x="99.26" y="546.95" width="1.35" height="1.35" fill="#1877ee"/>
<rect x="88.17" y="546.98" width="1.35" height="1.35" fill="#ffff00"/>
<rect x="91.87" y="545.01" width="1.35" height="1.35" fill="#ffff00"/>
<rect x="92.04" y="548.93" width="1.35" height="1.35" fill="#1877ee"/>
<rect x="97.43" y="548.92" width="1.35" height="1.35" fill="#1877ee"/>
<rect x="99.61" y="548.22" width="1.35" height="1.35" fill="#ffff00"/>
<rect x="91.72" y="546.31" width="1.35" height="1.35" fill="#ffff00"/>
<rect x="100.51" y="547.52" width="1.35" height="1.35" fill="#ffff00"/>
<rect x="93.43" y="545.77" width="1.35" height="1.35" fill="#1877ee"/>
<rect x="89.39" y="548.90" width="1.35" height="1.35" fill="#ffff00"/>
<rect x="99.73" y="545.62" width="1.35" height="1.35" fill="#ffff00"/>
<rect x="94.46" y="545.29" width="1.35" height="1.35" fill="#ffff00"/>
<rect x="99.98" y="549.18" width="1.35" height="1.35" fill="#ffff00"/>
<rect x="95.95" y="549.34" width="1.35" height="1.35" fill="#ffff00"/>
<rect x="94.94" y="548.25" width="1.35" height="1.35" fill="#1877ee"/>
<rect x="97.21" y="546.75" width="1.35" height="1.35" fill="#ffff00"/>
<rect x="96.12" y="545.83" width="1.35" height="1.35" fill="#1877ee"/>
<rect x="99.62" y="544.94" width="1.35" height="1.35" fill="#ffff00"/>
<rect x="92.39" y="545.89" width="1.35" height="1.35" fill="#ffff00"/>
<rect x="100.23" y="545.68" width="1.35" height="1.35" fill="#ffff00"/>
<rect x="91.86" y="547.35" width="1.35" height="1.35" fill="#ffff00"/>
<rect x="90.20" y="545.13" width="1.35" height="1.35" fill="#ffff00"/>
<rect x="99.36" y="547.01" width="1.35" height="1.35" fill="#ffff00"/>
<rect x="99.36" y="549.81" width="1.35" height="1.35" fill="#ffff00"/>
<rect x="89.86" y="545.30" width="1.35" height="1.35" fill="#1877ee"/>
<rect x="92.37" y="544.74" width="1.35" height="1.35" fill="#ffff00"/>
<rect x="91.33" y="547.41" width="1.35" height="1.35" fill="#ffff00"/>
<rect x="97.42" y="546.54" width="1.35" height="1.35" fill="#ffff00"/>
<rect x="94.62" y="546.34" width="1.35" height="1.35" fill="#ffff00"/>
<rect x="88.89" y="545.78" width="1.35" height="1.35" fill="#ffff00"/>
<rect x="95.79" y="552.69" width="1.35" height="1.35" fill="#ffff00"/>
<rect x="107.88" y="551.06" width="1.35" height="1.35" fill="#ffff00"/>
<rect x="97.80" y="552.10" width="1.35" height="1.35" fill="#ffff00"/>
<rect x="109.37" y="554.66" width="1.35" height="1.35" fill="#ffff00"/>
<rect x="94.08" y="550.01" width="1.35" height="1.35" fill="#ffff00"/>
<rect x="108.41" y="552.52" width="1.35" height="1.35" fill="#ffff00"/>
<rect x="93.73" y="552.06" width="1.35" height="1.35" fill="#ffff00"/>
<rect x="107.26" y="554.70" width="1.35" height="1.35" fill="#ffff00"/>
<rect x="97.80" y="550.45" width="1.35" height="1.35" fill="#ffff00"/>
<rect x="102.29" y="553.71" width="1.35" height="1.35" fill="#ffff00"/>
<rect x="105.56" y="553.51" width="1.35" height="1.35" fill="#ffff00"/>
<rect x="101.23" y="552.97" width="1.35" height="1.35" fill="#1877ee"/>
<rect x="106.55" y="551.15" width="1.35" height="1.35" fill="#ffff00"/>
<rect x="104.31" y="551.56" width="1.35" height="1.35" fill="#1877ee"/>
<rect x="97.85" y="553.45" width="1.35" height="1.35" fill="#ffff00"/>
<rect x="95.56" y="550.23" width="1.35" height="1.35" fill="#ffff00"/>
<rect x="103.28" y="552.04" width="1.35" height="1.35" fill="#ffff00"/>
<rect x="103.58" y="549.88" width="1.35" height="1.35" fill="#ffff00"/>
<rect x="101.28" y="555.29" width="1.35" height="1.35" fill="#ffff00"/>
<rect x="108.22" y="552.53" width="1.35" height="1.35" fill="#ffff00"/>
<rect x="97.78" y="555.30" width="1.35" height="1.35" fill="#ffff00"/>
<rect x="98.77" y="549.95" width="1.35" height="1.35" fill="#ffff00"/>
<rect x="104.79" y="552.22" width="1.35" height="1.35" fill="#ffff00"/>
<rect x="104.67" y="555.10" width="1.35" height="1.35" fill="#ffff00"/>
<rect x="94.28" y="551.75" width="1.35" height="1.35" fill="#ffff00"/>
<rect x="104.92" y="550.95" width="1.35" height="1.35" fill="#ffff00"/>
<rect x="105.85" y="552.70" width="1.35" height="1.35" fill="#ffff00"/>
<rect x="109.63" y="551.60" width="1.35" height="1.35" fill="#ffff00"/>
<rect x="97.51" y="551.09" width="1.35" height="1.35" fill="#ffff00"/>
<rect x="98.56" y="555.25" width="1.35" height="1.35" fill="#ffff00"/>
<rect x="96.80" y="551.10" width="1.35" height="1.35" fill="#ffff00"/>
<rect x="104.64" y="555.23" width="1.35" height="1.35" fill="#1877ee"/>
<rect x="100.18" y="551.04" width="1.35" height="1.35" fill="#ffff00"/>
<rect x="96.05" y="550.12" width="1.35" height="1.35" fill="#1877ee"/>
<rect x="100.18" y="554.94" width="1.35" height="1.35" fill="#ffff00"/>
<rect x="105.74" y="555.51" width="1.35" height="1.35" fill="#ffff00"/>
<rect x="99.12" y="550.88" width="1.35" height="1.35" fill="#ffff00"/>
<rect x="105.96" y="550.01" width="1.35" height="1.35" fill="#ffff00"/>
<rect x="99.93" y="551.96" width="1.35" height="1.35" fill="#ffff00"/>
<rect x="96.50" y="549.84" width="1.35" height="1.35" fill="#ffff00"/>
<rect x="99.49" y="555.27" width="1.35" height="1.35" fill="#1877ee"/>
<rect x="109.54" y="551.01" width="1.35" height="1.35" fill="#ffff00"/>
<rect x="107.20" y="554.51" width="1.35" height="1.35" fill="#ffff00"/>
<rect x="94.53" y="552.52" width="1.35" height="1.35" fill="#ffff00"/>
<rect x="108.80" y="550.93" width="1.35" height="1.35" fill="#ffff00"/>
<rect x="108.44" y="550.00" width="1.35" height="1.35" fill="#ffff00"/>
<rect x="107.04" y="554.20" width="1.35" height="1.35" fill="#1877ee"/>
<rect x="94.30" y="550.18" width="1.35" height="1.35" fill="#ffff00"/>
<rect x="97.94" y="554.08" width="1.35" height="1.35" fill="#ffff00"/>
<rect x="99.29" y="551.38" width="1.35" height="1.35" fill="#ffff00"/>
<rect x="33.04" y="556.09" width="1.35" height="1.35" fill="#ffff00"/>
<rect x="38.44" y="556.60" width="1.35" height="1.35" fill="#1877ee"/>
<text x="45.00" y="514.90" font-size="7.3" fill="#1a1a1a" text-anchor="start" font-weight="bold" stroke="#1a1a1a" stroke-width="0.100">PAs vs Non-PAs</text>
<rect x="30.70" y="518.65" width="8.1" height="4.0" fill="#1877ee"/>
<text x="40.80" y="522.90" font-size="5.55" fill="#333" text-anchor="start" stroke="#333" stroke-width="0.155">6426 cells covered by PAs</text>
<rect x="30.70" y="524.85" width="8.1" height="4.0" fill="#ffff00"/>
<text x="40.80" y="529.10" font-size="5.55" fill="#333" text-anchor="start" stroke="#333" stroke-width="0.155">2712 cells not covered by PAs</text>
<polyline points="28.30,474.00 68.30,474.60 110.00,476.40 120.40,477.00 139.90,478.40 148.50,479.40 157.90,481.60 165.90,485.00 171.90,489.00 176.90,491.60 181.90,493.00 187.40,495.00" fill="none" stroke="#2424f0" stroke-width="1.3" stroke-linejoin="round" stroke-linecap="butt"/>
<polyline points="28.80,579.60 158.90,579.40 164.90,578.80 169.90,576.20 175.90,573.40 177.90,569.80 179.90,563.80 181.50,555.80 183.50,545.80 184.90,537.90 186.20,527.90 187.40,509.90 187.80,495.00" fill="none" stroke="#111111" stroke-width="1.1" stroke-linejoin="round" stroke-linecap="butt"/>
<text x="152.30" y="511.90" font-size="5.7" fill="#222" text-anchor="start" stroke="#222" stroke-width="0.160">4743 PAs</text>
<line x1="173.90" y1="505.90" x2="187.80" y2="495.00" stroke="#111" stroke-width="0.8"/>
<polygon points="187.80,495.00 186.83,496.98 185.65,495.47" fill="#111"/>
<text x="238.00" y="8.20" font-size="12" fill="#000" text-anchor="start" font-weight="bold" stroke="#000" stroke-width="0.100">b</text>
<rect x="243.50" y="13.60" width="149.90" height="120.90" fill="none" stroke="#3a3a3a" stroke-width="1"/>
<line x1="241.50" y1="32.00" x2="243.50" y2="32.00" stroke="#333" stroke-width="0.8"/>
<text x="240.70" y="33.90" font-size="5.4" fill="#555" text-anchor="end" stroke="#555" stroke-width="0.151">0.5</text>
<line x1="241.50" y1="59.30" x2="243.50" y2="59.30" stroke="#333" stroke-width="0.8"/>
<text x="240.70" y="61.20" font-size="5.4" fill="#555" text-anchor="end" stroke="#555" stroke-width="0.151">0.4</text>
<line x1="241.50" y1="86.80" x2="243.50" y2="86.80" stroke="#333" stroke-width="0.8"/>
<text x="240.70" y="88.70" font-size="5.4" fill="#555" text-anchor="end" stroke="#555" stroke-width="0.151">0.3</text>
<line x1="241.50" y1="114.00" x2="243.50" y2="114.00" stroke="#333" stroke-width="0.8"/>
<text x="240.70" y="115.90" font-size="5.4" fill="#555" text-anchor="end" stroke="#555" stroke-width="0.151">0.2</text>
<line x1="250.40" y1="134.50" x2="250.40" y2="136.50" stroke="#333" stroke-width="0.8"/>
<text x="250.40" y="141.90" font-size="5.4" fill="#444" text-anchor="middle" stroke="#444" stroke-width="0.151">1800</text>
<line x1="277.64" y1="134.50" x2="277.64" y2="136.50" stroke="#333" stroke-width="0.8"/>
<text x="277.64" y="141.90" font-size="5.4" fill="#444" text-anchor="middle" stroke="#444" stroke-width="0.151">1840</text>
<line x1="304.88" y1="134.50" x2="304.88" y2="136.50" stroke="#333" stroke-width="0.8"/>
<text x="304.88" y="141.90" font-size="5.4" fill="#444" text-anchor="middle" stroke="#444" stroke-width="0.151">1880</text>
<line x1="332.12" y1="134.50" x2="332.12" y2="136.50" stroke="#333" stroke-width="0.8"/>
<text x="332.12" y="141.90" font-size="5.4" fill="#444" text-anchor="middle" stroke="#444" stroke-width="0.151">1920</text>
<line x1="359.36" y1="134.50" x2="359.36" y2="136.50" stroke="#333" stroke-width="0.8"/>
<text x="359.36" y="141.90" font-size="5.4" fill="#444" text-anchor="middle" stroke="#444" stroke-width="0.151">1960</text>
<line x1="386.60" y1="134.50" x2="386.60" y2="136.50" stroke="#333" stroke-width="0.8"/>
<text x="386.60" y="141.90" font-size="5.4" fill="#444" text-anchor="middle" stroke="#444" stroke-width="0.151">2000</text>
<text x="228.80" y="74.35" font-size="6.9" fill="#222" text-anchor="middle" transform="rotate(-90 228.80 74.35)" stroke="#222" stroke-width="0.193">Pearson's <tspan font-style="italic">r</tspan></text>
<text x="311.40" y="148.75" font-size="7.0" fill="#333" text-anchor="start" stroke="#333" stroke-width="0.196">Year</text>
<line x1="298.00" y1="14.10" x2="298.00" y2="134.00" stroke="#f8ad9c" stroke-width="0.9" stroke-dasharray="3.2 2.8"/>
<line x1="365.30" y1="14.10" x2="365.30" y2="134.00" stroke="#8c8cff" stroke-width="0.9" stroke-dasharray="3.2 2.8"/>
<text x="251.80" y="20.30" font-size="5.6" fill="#333" text-anchor="start" stroke="#333" stroke-width="0.157">Since 1899</text>
<polyline points="318.50,18.80 325.31,21.30 332.12,22.00 338.93,23.80 345.74,26.30 352.55,25.00 359.36,29.30 366.17,29.30 372.98,28.30 381.15,28.80" fill="none" stroke="#2a88cc" stroke-width="1.2" stroke-linejoin="round" stroke-linecap="butt" stroke-dasharray="3.4 1.7 1 1.7"/>
<polyline points="318.50,51.80 325.31,61.30 332.12,62.50 338.93,67.50 345.74,75.50 352.55,71.30 359.36,83.30 366.17,80.50 372.98,78.80 381.15,77.00" fill="none" stroke="#2a88cc" stroke-width="1.2" stroke-linejoin="round" stroke-linecap="butt"/>
<polyline points="318.50,75.50 325.31,79.30 332.12,78.80 338.93,81.30 345.74,85.00 352.55,83.30 359.36,89.30 366.17,88.80 372.98,88.00 381.15,88.30" fill="none" stroke="#d77fc0" stroke-width="1.2" stroke-linejoin="round" stroke-linecap="butt" stroke-dasharray="3.4 1.7 1 1.7"/>
<polyline points="318.50,83.80 325.31,87.00 332.12,86.30 338.93,88.00 345.74,91.80 352.55,89.30 359.36,94.50 366.17,93.30 372.98,91.30 381.15,90.80" fill="none" stroke="#e0731e" stroke-width="1.2" stroke-linejoin="round" stroke-linecap="butt" stroke-dasharray="3.4 1.7 1 1.7"/>
<polyline points="318.50,89.30 325.31,98.30 332.12,93.30 338.93,97.50 345.74,109.30 352.55,100.50 359.36,116.30 366.17,111.80 372.98,110.00 381.15,105.50" fill="none" stroke="#e0731e" stroke-width="1.2" stroke-linejoin="round" stroke-linecap="butt"/>
<polyline points="318.50,99.30 325.31,108.80 332.12,105.00 338.93,109.30 345.74,120.50 352.55,112.50 359.36,129.30 366.17,125.00 372.98,123.00 381.15,121.30" fill="none" stroke="#d77fc0" stroke-width="1.2" stroke-linejoin="round" stroke-linecap="butt"/>
<line x1="251.00" y1="114.20" x2="260.00" y2="114.20" stroke="#2a88cc" stroke-width="1.2"/>
<text x="263.50" y="116.10" font-size="5.4" fill="#333" text-anchor="start" stroke="#333" stroke-width="0.151">Mammals</text>
<line x1="251.00" y1="120.75" x2="260.00" y2="120.75" stroke="#e0731e" stroke-width="1.2"/>
<text x="263.50" y="122.65" font-size="5.4" fill="#333" text-anchor="start" stroke="#333" stroke-width="0.151">Amphibians</text>
<line x1="251.00" y1="127.30" x2="260.00" y2="127.30" stroke="#d77fc0" stroke-width="1.2"/>
<text x="263.50" y="129.20" font-size="5.4" fill="#333" text-anchor="start" stroke="#333" stroke-width="0.151">Reptiles</text>
<text x="642.00" y="8.20" font-size="12" fill="#000" text-anchor="start" font-weight="bold" stroke="#000" stroke-width="0.100">d</text>
<rect x="646.60" y="14.30" width="149.90" height="120.70" fill="none" stroke="#3a3a3a" stroke-width="1"/>
<line x1="644.60" y1="25.00" x2="646.60" y2="25.00" stroke="#333" stroke-width="0.8"/>
<text x="643.80" y="26.90" font-size="5.4" fill="#555" text-anchor="end" stroke="#555" stroke-width="0.151">0.3</text>
<line x1="644.60" y1="52.00" x2="646.60" y2="52.00" stroke="#333" stroke-width="0.8"/>
<text x="643.80" y="53.90" font-size="5.4" fill="#555" text-anchor="end" stroke="#555" stroke-width="0.151">0.2</text>
<line x1="644.60" y1="79.00" x2="646.60" y2="79.00" stroke="#333" stroke-width="0.8"/>
<text x="643.80" y="80.90" font-size="5.4" fill="#555" text-anchor="end" stroke="#555" stroke-width="0.151">0.1</text>
<line x1="644.60" y1="106.30" x2="646.60" y2="106.30" stroke="#333" stroke-width="0.8"/>
<text x="643.80" y="108.20" font-size="5.4" fill="#555" text-anchor="end" stroke="#555" stroke-width="0.151">0.0</text>
<line x1="653.30" y1="135.00" x2="653.30" y2="137.00" stroke="#333" stroke-width="0.8"/>
<text x="653.30" y="142.40" font-size="5.4" fill="#444" text-anchor="middle" stroke="#444" stroke-width="0.151">1800</text>
<line x1="680.54" y1="135.00" x2="680.54" y2="137.00" stroke="#333" stroke-width="0.8"/>
<text x="680.54" y="142.40" font-size="5.4" fill="#444" text-anchor="middle" stroke="#444" stroke-width="0.151">1840</text>
<line x1="707.78" y1="135.00" x2="707.78" y2="137.00" stroke="#333" stroke-width="0.8"/>
<text x="707.78" y="142.40" font-size="5.4" fill="#444" text-anchor="middle" stroke="#444" stroke-width="0.151">1880</text>
<line x1="735.02" y1="135.00" x2="735.02" y2="137.00" stroke="#333" stroke-width="0.8"/>
<text x="735.02" y="142.40" font-size="5.4" fill="#444" text-anchor="middle" stroke="#444" stroke-width="0.151">1920</text>
<line x1="762.26" y1="135.00" x2="762.26" y2="137.00" stroke="#333" stroke-width="0.8"/>
<text x="762.26" y="142.40" font-size="5.4" fill="#444" text-anchor="middle" stroke="#444" stroke-width="0.151">1960</text>
<line x1="789.50" y1="135.00" x2="789.50" y2="137.00" stroke="#333" stroke-width="0.8"/>
<text x="789.50" y="142.40" font-size="5.4" fill="#444" text-anchor="middle" stroke="#444" stroke-width="0.151">2000</text>
<text x="632.70" y="74.95" font-size="6.9" fill="#222" text-anchor="middle" transform="rotate(-90 632.70 74.95)" stroke="#222" stroke-width="0.193">Pearson's <tspan font-style="italic">r</tspan></text>
<text x="715.00" y="145.30" font-size="7.0" fill="#333" text-anchor="start" stroke="#333" stroke-width="0.196">Year</text>
<line x1="701.00" y1="14.80" x2="701.00" y2="134.50" stroke="#f8ad9c" stroke-width="0.9" stroke-dasharray="3.2 2.8"/>
<line x1="768.40" y1="14.80" x2="768.40" y2="134.50" stroke="#8c8cff" stroke-width="0.9" stroke-dasharray="3.2 2.8"/>
<text x="656.00" y="22.30" font-size="5.6" fill="#333" text-anchor="start" stroke="#333" stroke-width="0.157">Since 1869</text>
<polyline points="700.97,18.80 721.40,20.00 735.02,21.30 748.64,22.00 762.26,24.30 769.07,24.30 775.88,25.80 784.05,29.30" fill="none" stroke="#4358b0" stroke-width="1.2" stroke-linejoin="round" stroke-linecap="butt" stroke-dasharray="3.4 1.7 1 1.7"/>
<polyline points="700.97,23.00 707.78,25.50 721.40,28.00 735.02,32.50 748.64,36.30 755.45,40.00 762.26,46.30 769.07,45.50 775.88,45.80 784.05,46.80" fill="none" stroke="#e0731e" stroke-width="1.2" stroke-linejoin="round" stroke-linecap="butt" stroke-dasharray="3.4 1.7 1 1.7"/>
<polyline points="700.97,29.30 707.78,31.30 721.40,35.50 728.21,39.30 735.02,43.00 741.83,43.30 748.64,42.80 755.45,46.30 762.26,50.80 769.07,49.30 775.88,49.30 784.05,49.30" fill="none" stroke="#4358b0" stroke-width="1.2" stroke-linejoin="round" stroke-linecap="butt"/>
<polyline points="700.97,45.00 707.78,49.50 714.59,52.00 721.40,53.80 728.21,57.50 735.02,58.00 741.83,60.00 748.64,59.30 755.45,62.50 758.86,66.00 762.26,72.50 769.07,69.50 775.88,67.00 784.05,63.30" fill="none" stroke="#e0731e" stroke-width="1.2" stroke-linejoin="round" stroke-linecap="butt"/>
<polyline points="700.97,81.30 707.78,82.50 721.40,83.30 735.02,84.50 748.64,87.00 762.26,92.50 769.07,93.80 784.05,97.50" fill="none" stroke="#d77fc0" stroke-width="1.2" stroke-linejoin="round" stroke-linecap="butt" stroke-dasharray="3.4 1.7 1 1.7"/>
<polyline points="700.97,98.30 707.78,100.50 714.59,103.30 721.40,104.30 728.21,107.50 735.02,109.30 741.83,112.50 748.64,114.50 755.45,118.80 762.26,127.50 769.07,128.80 775.88,128.30 784.05,129.30" fill="none" stroke="#d77fc0" stroke-width="1.2" stroke-linejoin="round" stroke-linecap="butt"/>
<text x="236.90" y="158.50" font-size="12" fill="#000" text-anchor="start" font-weight="bold" stroke="#000" stroke-width="0.100">f</text>
<rect x="242.40" y="164.30" width="150.00" height="121.80" fill="none" stroke="#3a3a3a" stroke-width="1"/>
<line x1="240.40" y1="186.80" x2="242.40" y2="186.80" stroke="#333" stroke-width="0.8"/>
<text x="239.60" y="188.70" font-size="5.4" fill="#555" text-anchor="end" stroke="#555" stroke-width="0.151">0.4</text>
<line x1="240.40" y1="213.30" x2="242.40" y2="213.30" stroke="#333" stroke-width="0.8"/>
<text x="239.60" y="215.20" font-size="5.4" fill="#555" text-anchor="end" stroke="#555" stroke-width="0.151">0.3</text>
<line x1="240.40" y1="240.50" x2="242.40" y2="240.50" stroke="#333" stroke-width="0.8"/>
<text x="239.60" y="242.40" font-size="5.4" fill="#555" text-anchor="end" stroke="#555" stroke-width="0.151">0.2</text>
<line x1="240.40" y1="267.00" x2="242.40" y2="267.00" stroke="#333" stroke-width="0.8"/>
<text x="239.60" y="268.90" font-size="5.4" fill="#555" text-anchor="end" stroke="#555" stroke-width="0.151">0.1</text>
<line x1="248.60" y1="286.10" x2="248.60" y2="288.10" stroke="#333" stroke-width="0.8"/>
<text x="248.60" y="293.50" font-size="5.4" fill="#444" text-anchor="middle" stroke="#444" stroke-width="0.151">1800</text>
<line x1="275.94" y1="286.10" x2="275.94" y2="288.10" stroke="#333" stroke-width="0.8"/>
<text x="275.94" y="293.50" font-size="5.4" fill="#444" text-anchor="middle" stroke="#444" stroke-width="0.151">1840</text>
<line x1="303.28" y1="286.10" x2="303.28" y2="288.10" stroke="#333" stroke-width="0.8"/>
<text x="303.28" y="293.50" font-size="5.4" fill="#444" text-anchor="middle" stroke="#444" stroke-width="0.151">1880</text>
<line x1="330.62" y1="286.10" x2="330.62" y2="288.10" stroke="#333" stroke-width="0.8"/>
<text x="330.62" y="293.50" font-size="5.4" fill="#444" text-anchor="middle" stroke="#444" stroke-width="0.151">1920</text>
<line x1="357.96" y1="286.10" x2="357.96" y2="288.10" stroke="#333" stroke-width="0.8"/>
<text x="357.96" y="293.50" font-size="5.4" fill="#444" text-anchor="middle" stroke="#444" stroke-width="0.151">1960</text>
<line x1="385.30" y1="286.10" x2="385.30" y2="288.10" stroke="#333" stroke-width="0.8"/>
<text x="385.30" y="293.50" font-size="5.4" fill="#444" text-anchor="middle" stroke="#444" stroke-width="0.151">2000</text>
<text x="228.20" y="225.50" font-size="6.9" fill="#222" text-anchor="middle" transform="rotate(-90 228.20 225.50)" stroke="#222" stroke-width="0.193">Pearson's <tspan font-style="italic">r</tspan></text>
<text x="310.30" y="300.60" font-size="7.0" fill="#333" text-anchor="start" stroke="#333" stroke-width="0.196">Year</text>
<line x1="296.50" y1="164.80" x2="296.50" y2="285.60" stroke="#f8ad9c" stroke-width="0.9" stroke-dasharray="3.2 2.8"/>
<line x1="363.90" y1="164.80" x2="363.90" y2="285.60" stroke="#8c8cff" stroke-width="0.9" stroke-dasharray="3.2 2.8"/>
<text x="248.80" y="282.40" font-size="5.6" fill="#333" text-anchor="start" stroke="#333" stroke-width="0.157">Since 1800</text>
<polyline points="248.60,170.00 275.94,173.50 296.44,176.30 310.12,179.00 323.79,181.80 330.62,181.30 337.46,182.50 351.12,186.00 357.96,192.50 364.80,190.80 371.63,191.00 379.83,193.80" fill="none" stroke="#2a88cc" stroke-width="1.2" stroke-linejoin="round" stroke-linecap="butt" stroke-dasharray="3.4 1.7 1 1.7"/>
<polyline points="248.60,185.50 262.27,190.00 275.94,197.50 289.61,208.00 296.44,208.30 303.28,214.00 310.12,218.80 316.95,222.30 323.79,224.50 330.62,225.80 337.46,222.00 344.29,218.80 351.12,220.00 357.96,212.50 364.80,210.00 371.63,208.00 379.83,205.50" fill="none" stroke="#e0731e" stroke-width="1.2" stroke-linejoin="round" stroke-linecap="butt" stroke-dasharray="3.4 1.7 1 1.7"/>
<polyline points="248.60,217.50 262.27,222.00 275.94,228.80 289.61,235.00 296.44,237.50 310.12,244.50 323.79,250.50 330.62,245.00 337.46,245.50 344.29,246.30 351.12,241.80 357.96,248.80 364.80,245.50 371.63,242.50 379.83,239.50" fill="none" stroke="#2a88cc" stroke-width="1.2" stroke-linejoin="round" stroke-linecap="butt"/>
<polyline points="248.60,210.00 262.27,215.50 275.94,223.30 289.61,241.80 296.44,243.00 303.28,256.30 316.95,264.50 323.79,264.50 330.62,261.80 337.46,250.00 344.29,242.00 351.12,243.00 357.96,232.50 364.80,232.00 371.63,229.50 379.83,226.30" fill="none" stroke="#e0731e" stroke-width="1.2" stroke-linejoin="round" stroke-linecap="butt"/>
<polyline points="248.60,260.00 275.94,259.00 289.61,260.50 296.44,259.80 303.28,262.00 316.95,264.50 323.79,265.00 330.62,270.00 344.29,263.80 351.12,268.00 357.96,264.30 364.80,271.30 371.63,272.50 379.83,275.00" fill="none" stroke="#d77fc0" stroke-width="1.2" stroke-linejoin="round" stroke-linecap="butt"/>
<polyline points="248.60,266.30 275.94,265.80 289.61,264.50 296.44,263.00 316.95,262.50 330.62,266.30 344.29,266.30 357.96,270.00 364.80,273.00 371.63,275.50 379.83,280.00" fill="none" stroke="#d77fc0" stroke-width="1.2" stroke-linejoin="round" stroke-linecap="butt" stroke-dasharray="3.4 1.7 1 1.7"/>
<text x="642.00" y="158.50" font-size="12" fill="#000" text-anchor="start" font-weight="bold" stroke="#000" stroke-width="0.100">h</text>
<rect x="647.40" y="164.50" width="150.00" height="121.90" fill="none" stroke="#3a3a3a" stroke-width="1"/>
<line x1="645.40" y1="183.30" x2="647.40" y2="183.30" stroke="#333" stroke-width="0.8"/>
<text x="644.60" y="185.20" font-size="5.4" fill="#555" text-anchor="end" stroke="#555" stroke-width="0.151">0.4</text>
<line x1="645.40" y1="208.30" x2="647.40" y2="208.30" stroke="#333" stroke-width="0.8"/>
<text x="644.60" y="210.20" font-size="5.4" fill="#555" text-anchor="end" stroke="#555" stroke-width="0.151">0.3</text>
<line x1="645.40" y1="233.30" x2="647.40" y2="233.30" stroke="#333" stroke-width="0.8"/>
<text x="644.60" y="235.20" font-size="5.4" fill="#555" text-anchor="end" stroke="#555" stroke-width="0.151">0.2</text>
<line x1="645.40" y1="258.80" x2="647.40" y2="258.80" stroke="#333" stroke-width="0.8"/>
<text x="644.60" y="260.70" font-size="5.4" fill="#555" text-anchor="end" stroke="#555" stroke-width="0.151">0.1</text>
<line x1="645.40" y1="284.30" x2="647.40" y2="284.30" stroke="#333" stroke-width="0.8"/>
<text x="644.60" y="286.20" font-size="5.4" fill="#555" text-anchor="end" stroke="#555" stroke-width="0.151">0.0</text>
<line x1="654.40" y1="286.40" x2="654.40" y2="288.40" stroke="#333" stroke-width="0.8"/>
<text x="654.40" y="293.80" font-size="5.4" fill="#444" text-anchor="middle" stroke="#444" stroke-width="0.151">1800</text>
<line x1="681.64" y1="286.40" x2="681.64" y2="288.40" stroke="#333" stroke-width="0.8"/>
<text x="681.64" y="293.80" font-size="5.4" fill="#444" text-anchor="middle" stroke="#444" stroke-width="0.151">1840</text>
<line x1="708.88" y1="286.40" x2="708.88" y2="288.40" stroke="#333" stroke-width="0.8"/>
<text x="708.88" y="293.80" font-size="5.4" fill="#444" text-anchor="middle" stroke="#444" stroke-width="0.151">1880</text>
<line x1="736.12" y1="286.40" x2="736.12" y2="288.40" stroke="#333" stroke-width="0.8"/>
<text x="736.12" y="293.80" font-size="5.4" fill="#444" text-anchor="middle" stroke="#444" stroke-width="0.151">1920</text>
<line x1="763.36" y1="286.40" x2="763.36" y2="288.40" stroke="#333" stroke-width="0.8"/>
<text x="763.36" y="293.80" font-size="5.4" fill="#444" text-anchor="middle" stroke="#444" stroke-width="0.151">1960</text>
<line x1="790.60" y1="286.40" x2="790.60" y2="288.40" stroke="#333" stroke-width="0.8"/>
<text x="790.60" y="293.80" font-size="5.4" fill="#444" text-anchor="middle" stroke="#444" stroke-width="0.151">2000</text>
<text x="632.70" y="225.75" font-size="6.9" fill="#222" text-anchor="middle" transform="rotate(-90 632.70 225.75)" stroke="#222" stroke-width="0.193">Pearson's <tspan font-style="italic">r</tspan></text>
<text x="715.60" y="300.60" font-size="7.0" fill="#333" text-anchor="start" stroke="#333" stroke-width="0.196">Year</text>
<line x1="702.20" y1="165.00" x2="702.20" y2="285.90" stroke="#f8ad9c" stroke-width="0.9" stroke-dasharray="3.2 2.8"/>
<line x1="769.30" y1="165.00" x2="769.30" y2="285.90" stroke="#8c8cff" stroke-width="0.9" stroke-dasharray="3.2 2.8"/>
<text x="656.00" y="172.00" font-size="5.6" fill="#333" text-anchor="start" stroke="#333" stroke-width="0.157">Since 1890</text>
<polyline points="715.69,178.30 725.90,177.00 736.12,176.30 749.74,177.50 763.36,183.30 770.17,173.80 776.98,172.50 785.15,176.30" fill="none" stroke="#4358b0" stroke-width="1.2" stroke-linejoin="round" stroke-linecap="butt" stroke-dasharray="3.4 1.7 1 1.7"/>
<polyline points="715.69,188.00 725.90,187.30 736.12,187.00 749.74,188.80 763.36,190.80 770.17,183.30 776.98,182.50 785.15,184.50" fill="none" stroke="#e0731e" stroke-width="1.2" stroke-linejoin="round" stroke-linecap="butt" stroke-dasharray="3.4 1.7 1 1.7"/>
<polyline points="715.69,205.50 722.50,205.00 729.31,203.30 736.12,198.80 742.93,197.50 749.74,195.00 756.55,193.00 763.36,190.00 770.17,175.00 776.98,170.50 785.15,172.50" fill="none" stroke="#4358b0" stroke-width="1.2" stroke-linejoin="round" stroke-linecap="butt"/>
<polyline points="715.69,217.00 722.50,216.50 729.31,215.80 736.12,212.50 742.93,211.50 749.74,210.00 756.55,207.50 763.36,204.50 770.17,193.80 776.98,187.00 785.15,186.80" fill="none" stroke="#e0731e" stroke-width="1.2" stroke-linejoin="round" stroke-linecap="butt"/>
<polyline points="715.69,211.30 722.50,213.00 729.31,216.30 739.52,216.50 749.74,216.30 763.36,217.50 770.17,220.00 776.98,218.50 785.15,216.80" fill="none" stroke="#d77fc0" stroke-width="1.2" stroke-linejoin="round" stroke-linecap="butt" stroke-dasharray="3.4 1.7 1 1.7"/>
<polyline points="715.69,221.80 722.50,222.50 729.31,225.00 736.12,232.50 742.93,234.50 749.74,237.50 756.55,244.00 763.36,255.00 770.17,272.50 776.98,280.50 785.15,280.00" fill="none" stroke="#d77fc0" stroke-width="1.2" stroke-linejoin="round" stroke-linecap="butt"/>
<text x="240.40" y="308.80" font-size="12" fill="#000" text-anchor="start" font-weight="bold" stroke="#000" stroke-width="0.100">j</text>
<rect x="244.40" y="313.80" width="150.10" height="120.70" fill="none" stroke="#3a3a3a" stroke-width="1"/>
<line x1="242.40" y1="334.30" x2="244.40" y2="334.30" stroke="#333" stroke-width="0.8"/>
<text x="241.60" y="336.20" font-size="5.4" fill="#555" text-anchor="end" stroke="#555" stroke-width="0.151">0.6</text>
<line x1="242.40" y1="380.00" x2="244.40" y2="380.00" stroke="#333" stroke-width="0.8"/>
<text x="241.60" y="381.90" font-size="5.4" fill="#555" text-anchor="end" stroke="#555" stroke-width="0.151">0.5</text>
<line x1="242.40" y1="425.80" x2="244.40" y2="425.80" stroke="#333" stroke-width="0.8"/>
<text x="241.60" y="427.70" font-size="5.4" fill="#555" text-anchor="end" stroke="#555" stroke-width="0.151">0.4</text>
<line x1="251.30" y1="434.50" x2="251.30" y2="436.50" stroke="#333" stroke-width="0.8"/>
<text x="251.30" y="441.90" font-size="5.4" fill="#444" text-anchor="middle" stroke="#444" stroke-width="0.151">1800</text>
<line x1="278.54" y1="434.50" x2="278.54" y2="436.50" stroke="#333" stroke-width="0.8"/>
<text x="278.54" y="441.90" font-size="5.4" fill="#444" text-anchor="middle" stroke="#444" stroke-width="0.151">1840</text>
<line x1="305.78" y1="434.50" x2="305.78" y2="436.50" stroke="#333" stroke-width="0.8"/>
<text x="305.78" y="441.90" font-size="5.4" fill="#444" text-anchor="middle" stroke="#444" stroke-width="0.151">1880</text>
<line x1="333.02" y1="434.50" x2="333.02" y2="436.50" stroke="#333" stroke-width="0.8"/>
<text x="333.02" y="441.90" font-size="5.4" fill="#444" text-anchor="middle" stroke="#444" stroke-width="0.151">1920</text>
<line x1="360.26" y1="434.50" x2="360.26" y2="436.50" stroke="#333" stroke-width="0.8"/>
<text x="360.26" y="441.90" font-size="5.4" fill="#444" text-anchor="middle" stroke="#444" stroke-width="0.151">1960</text>
<line x1="387.50" y1="434.50" x2="387.50" y2="436.50" stroke="#333" stroke-width="0.8"/>
<text x="387.50" y="441.90" font-size="5.4" fill="#444" text-anchor="middle" stroke="#444" stroke-width="0.151">2000</text>
<text x="230.50" y="374.45" font-size="6.9" fill="#222" text-anchor="middle" transform="rotate(-90 230.50 374.45)" stroke="#222" stroke-width="0.193">Pearson's <tspan font-style="italic">r</tspan></text>
<text x="312.50" y="448.60" font-size="7.0" fill="#333" text-anchor="start" stroke="#333" stroke-width="0.196">Year</text>
<line x1="299.00" y1="314.30" x2="299.00" y2="434.00" stroke="#f8ad9c" stroke-width="0.9" stroke-dasharray="3.2 2.8"/>
<line x1="366.40" y1="314.30" x2="366.40" y2="434.00" stroke="#8c8cff" stroke-width="0.9" stroke-dasharray="3.2 2.8"/>
<text x="252.50" y="320.00" font-size="5.6" fill="#333" text-anchor="start" stroke="#333" stroke-width="0.157">Since 1902</text>
<polyline points="320.76,318.30 333.02,319.50 339.83,322.00 346.64,327.50 353.45,335.00 360.26,347.00 367.07,347.00 373.88,352.50 384.10,363.80" fill="none" stroke="#d77fc0" stroke-width="1.2" stroke-linejoin="round" stroke-linecap="butt"/>
<polyline points="320.76,344.50 326.21,344.50 333.02,342.00 339.83,345.00 346.64,351.00 353.45,358.80 360.26,373.80 367.07,372.50 373.88,377.50 384.10,383.80" fill="none" stroke="#e0731e" stroke-width="1.2" stroke-linejoin="round" stroke-linecap="butt"/>
<polyline points="320.76,360.80 326.21,360.00 333.02,356.30 339.83,358.80 346.64,366.00 353.45,375.00 360.26,394.50 367.07,388.80 373.88,391.00 384.10,395.80" fill="none" stroke="#2a88cc" stroke-width="1.2" stroke-linejoin="round" stroke-linecap="butt"/>
<polyline points="320.76,360.50 333.02,365.00 346.64,368.80 360.26,376.30 367.07,378.80 373.88,382.00 384.10,391.30" fill="none" stroke="#d77fc0" stroke-width="1.2" stroke-linejoin="round" stroke-linecap="butt" stroke-dasharray="3.4 1.7 1 1.7"/>
<polyline points="320.76,368.00 333.02,372.50 346.64,382.50 353.45,392.00 360.26,405.00 367.07,407.50 373.88,415.00 384.10,428.80" fill="none" stroke="#e0731e" stroke-width="1.2" stroke-linejoin="round" stroke-linecap="butt" stroke-dasharray="3.4 1.7 1 1.7"/>
<polyline points="320.76,381.30 333.02,382.50 346.64,390.00 353.45,397.00 360.26,407.50 367.07,409.30 373.88,414.00 384.10,422.50" fill="none" stroke="#2a88cc" stroke-width="1.2" stroke-linejoin="round" stroke-linecap="butt" stroke-dasharray="3.4 1.7 1 1.7"/>
<text x="641.30" y="308.80" font-size="12" fill="#000" text-anchor="start" font-weight="bold" stroke="#000" stroke-width="0.100">l</text>
<rect x="648.60" y="314.30" width="149.50" height="122.10" fill="none" stroke="#3a3a3a" stroke-width="1"/>
<line x1="646.60" y1="343.00" x2="648.60" y2="343.00" stroke="#333" stroke-width="0.8"/>
<text x="645.80" y="344.90" font-size="5.4" fill="#555" text-anchor="end" stroke="#555" stroke-width="0.151">0.5</text>
<line x1="646.60" y1="403.80" x2="648.60" y2="403.80" stroke="#333" stroke-width="0.8"/>
<text x="645.80" y="405.70" font-size="5.4" fill="#555" text-anchor="end" stroke="#555" stroke-width="0.151">0.4</text>
<line x1="655.30" y1="436.40" x2="655.30" y2="438.40" stroke="#333" stroke-width="0.8"/>
<text x="655.30" y="443.80" font-size="5.4" fill="#444" text-anchor="middle" stroke="#444" stroke-width="0.151">1800</text>
<line x1="682.52" y1="436.40" x2="682.52" y2="438.40" stroke="#333" stroke-width="0.8"/>
<text x="682.52" y="443.80" font-size="5.4" fill="#444" text-anchor="middle" stroke="#444" stroke-width="0.151">1840</text>
<line x1="709.74" y1="436.40" x2="709.74" y2="438.40" stroke="#333" stroke-width="0.8"/>
<text x="709.74" y="443.80" font-size="5.4" fill="#444" text-anchor="middle" stroke="#444" stroke-width="0.151">1880</text>
<line x1="736.96" y1="436.40" x2="736.96" y2="438.40" stroke="#333" stroke-width="0.8"/>
<text x="736.96" y="443.80" font-size="5.4" fill="#444" text-anchor="middle" stroke="#444" stroke-width="0.151">1920</text>
<line x1="764.18" y1="436.40" x2="764.18" y2="438.40" stroke="#333" stroke-width="0.8"/>
<text x="764.18" y="443.80" font-size="5.4" fill="#444" text-anchor="middle" stroke="#444" stroke-width="0.151">1960</text>
<line x1="791.40" y1="436.40" x2="791.40" y2="438.40" stroke="#333" stroke-width="0.8"/>
<text x="791.40" y="443.80" font-size="5.4" fill="#444" text-anchor="middle" stroke="#444" stroke-width="0.151">2000</text>
<text x="633.40" y="375.65" font-size="6.9" fill="#222" text-anchor="middle" transform="rotate(-90 633.40 375.65)" stroke="#222" stroke-width="0.193">Pearson's <tspan font-style="italic">r</tspan></text>
<text x="716.60" y="450.60" font-size="7.0" fill="#333" text-anchor="start" stroke="#333" stroke-width="0.196">Year</text>
<line x1="703.10" y1="314.80" x2="703.10" y2="435.90" stroke="#f8ad9c" stroke-width="0.9" stroke-dasharray="3.2 2.8"/>
<line x1="770.40" y1="314.80" x2="770.40" y2="435.90" stroke="#8c8cff" stroke-width="0.9" stroke-dasharray="3.2 2.8"/>
<text x="657.80" y="322.00" font-size="5.6" fill="#333" text-anchor="start" stroke="#333" stroke-width="0.157">Since 1888</text>
<polyline points="715.18,327.00 723.35,327.00 736.96,326.30 743.76,324.00 750.57,322.00 757.38,320.00 764.18,322.50 770.99,328.80 777.79,338.80 785.96,351.30" fill="none" stroke="#e0731e" stroke-width="1.2" stroke-linejoin="round" stroke-linecap="butt"/>
<polyline points="715.18,348.30 723.35,349.30 736.96,349.30 743.76,346.00 750.57,342.50 760.78,339.30 764.18,340.00 770.99,350.00 777.79,365.00 785.96,381.30" fill="none" stroke="#d77fc0" stroke-width="1.2" stroke-linejoin="round" stroke-linecap="butt"/>
<polyline points="715.18,360.80 723.35,359.80 736.96,358.80 743.76,355.50 750.57,351.30 757.38,346.00 764.18,341.30 770.99,346.30 777.79,350.00 785.96,356.30" fill="none" stroke="#e0731e" stroke-width="1.2" stroke-linejoin="round" stroke-linecap="butt" stroke-dasharray="3.4 1.7 1 1.7"/>
<polyline points="715.18,379.50 723.35,379.30 736.96,378.30 750.57,376.30 760.78,370.50 764.18,372.00 770.99,377.50 777.79,385.00 785.96,385.00" fill="none" stroke="#4358b0" stroke-width="1.2" stroke-linejoin="round" stroke-linecap="butt" stroke-dasharray="3.4 1.7 1 1.7"/>
<polyline points="715.18,385.00 723.35,384.50 736.96,384.50 750.57,380.00 762.82,372.50 770.99,378.80 777.79,386.30 785.96,393.80" fill="none" stroke="#d77fc0" stroke-width="1.2" stroke-linejoin="round" stroke-linecap="butt" stroke-dasharray="3.4 1.7 1 1.7"/>
<polyline points="715.18,385.80 723.35,384.50 736.96,381.80 743.76,383.50 750.57,386.30 757.38,391.30 764.18,410.00 770.99,415.50 777.79,426.30 785.96,430.00" fill="none" stroke="#4358b0" stroke-width="1.2" stroke-linejoin="round" stroke-linecap="butt"/>
<text x="237.30" y="458.70" font-size="12" fill="#000" text-anchor="start" font-weight="bold" stroke="#000" stroke-width="0.100">n</text>
<rect x="245.50" y="464.50" width="149.90" height="121.50" fill="none" stroke="#3a3a3a" stroke-width="1"/>
<line x1="243.50" y1="511.30" x2="245.50" y2="511.30" stroke="#333" stroke-width="0.8"/>
<text x="242.70" y="513.20" font-size="5.4" fill="#555" text-anchor="end" stroke="#555" stroke-width="0.151">0.6</text>
<line x1="243.50" y1="561.30" x2="245.50" y2="561.30" stroke="#333" stroke-width="0.8"/>
<text x="242.70" y="563.20" font-size="5.4" fill="#555" text-anchor="end" stroke="#555" stroke-width="0.151">0.55</text>
<line x1="252.40" y1="586.00" x2="252.40" y2="588.00" stroke="#333" stroke-width="0.8"/>
<text x="252.40" y="593.40" font-size="5.4" fill="#444" text-anchor="middle" stroke="#444" stroke-width="0.151">1800</text>
<line x1="279.60" y1="586.00" x2="279.60" y2="588.00" stroke="#333" stroke-width="0.8"/>
<text x="279.60" y="593.40" font-size="5.4" fill="#444" text-anchor="middle" stroke="#444" stroke-width="0.151">1840</text>
<line x1="306.80" y1="586.00" x2="306.80" y2="588.00" stroke="#333" stroke-width="0.8"/>
<text x="306.80" y="593.40" font-size="5.4" fill="#444" text-anchor="middle" stroke="#444" stroke-width="0.151">1880</text>
<line x1="334.00" y1="586.00" x2="334.00" y2="588.00" stroke="#333" stroke-width="0.8"/>
<text x="334.00" y="593.40" font-size="5.4" fill="#444" text-anchor="middle" stroke="#444" stroke-width="0.151">1920</text>
<line x1="361.20" y1="586.00" x2="361.20" y2="588.00" stroke="#333" stroke-width="0.8"/>
<text x="361.20" y="593.40" font-size="5.4" fill="#444" text-anchor="middle" stroke="#444" stroke-width="0.151">1960</text>
<line x1="388.40" y1="586.00" x2="388.40" y2="588.00" stroke="#333" stroke-width="0.8"/>
<text x="388.40" y="593.40" font-size="5.4" fill="#444" text-anchor="middle" stroke="#444" stroke-width="0.151">2000</text>
<text x="230.60" y="525.55" font-size="6.9" fill="#222" text-anchor="middle" transform="rotate(-90 230.60 525.55)" stroke="#222" stroke-width="0.193">Pearson's <tspan font-style="italic">r</tspan></text>
<text x="313.75" y="600.50" font-size="7.0" fill="#333" text-anchor="start" stroke="#333" stroke-width="0.196">Year</text>
<line x1="300.00" y1="465.00" x2="300.00" y2="585.50" stroke="#f8ad9c" stroke-width="0.9" stroke-dasharray="3.2 2.8"/>
<line x1="367.40" y1="465.00" x2="367.40" y2="585.50" stroke="#8c8cff" stroke-width="0.9" stroke-dasharray="3.2 2.8"/>
<text x="255.50" y="472.00" font-size="5.6" fill="#333" text-anchor="start" stroke="#333" stroke-width="0.157">Since 1875</text>
<polyline points="303.40,473.80 313.60,472.80 320.40,471.80 334.00,470.00 340.80,470.50 347.60,472.00 354.40,473.00 361.20,475.50 368.00,478.80 374.80,482.50 382.96,481.30" fill="none" stroke="#2a88cc" stroke-width="1.2" stroke-linejoin="round" stroke-linecap="butt" stroke-dasharray="3.4 1.7 1 1.7"/>
<polyline points="303.40,524.30 313.60,520.00 320.40,516.30 334.00,510.00 347.60,504.50 361.20,495.80 368.00,497.00 374.80,498.30 382.96,493.80" fill="none" stroke="#e0731e" stroke-width="1.2" stroke-linejoin="round" stroke-linecap="butt" stroke-dasharray="3.4 1.7 1 1.7"/>
<polyline points="303.40,518.00 313.60,516.00 320.40,514.50 334.00,512.50 340.80,510.30 347.60,509.50 354.40,505.00 361.20,499.30 368.00,506.30 374.80,506.30 382.96,515.00" fill="none" stroke="#d77fc0" stroke-width="1.2" stroke-linejoin="round" stroke-linecap="butt"/>
<polyline points="303.40,521.30 313.60,520.00 334.00,521.30 347.60,520.80 361.20,518.80 368.00,522.50 382.96,530.50" fill="none" stroke="#d77fc0" stroke-width="1.2" stroke-linejoin="round" stroke-linecap="butt" stroke-dasharray="3.4 1.7 1 1.7"/>
<polyline points="303.40,580.00 313.60,577.00 320.40,574.30 327.20,573.30 334.00,574.30 347.60,575.00 354.40,570.80 361.20,563.80 368.00,569.50 374.80,567.00 382.96,568.00" fill="none" stroke="#e0731e" stroke-width="1.2" stroke-linejoin="round" stroke-linecap="butt"/>
<polyline points="303.40,580.00 313.60,576.50 320.40,574.30 327.20,571.50 334.00,569.50 340.80,569.30 354.40,570.00 361.20,572.50 368.00,576.30 374.80,576.30 382.96,577.00" fill="none" stroke="#2a88cc" stroke-width="1.2" stroke-linejoin="round" stroke-linecap="butt"/>
<text x="430.50" y="475.10" font-size="7.3" fill="#1a1a1a" text-anchor="start" font-weight="bold" stroke="#1a1a1a" stroke-width="0.100">PA cells vs Non-PA cells</text>
<line x1="430.00" y1="483.50" x2="446.80" y2="483.50" stroke="#444" stroke-width="0.8"/>
<text x="449.30" y="485.80" font-size="7.17" fill="#333" text-anchor="start" stroke="#333" stroke-width="0.201">Cells within each biome that have been covered by at least one PA</text>
<line x1="430.00" y1="493.50" x2="446.80" y2="493.50" stroke="#444" stroke-width="0.8" stroke-dasharray="3 2.2 1 2.2"/>
<text x="449.30" y="495.80" font-size="7.17" fill="#333" text-anchor="start" stroke="#333" stroke-width="0.201">Cells within each biome that never been covered by any PAs</text>
<text x="429.30" y="514.10" font-size="7.1" fill="#1a1a1a" text-anchor="start" font-weight="bold" stroke="#1a1a1a" stroke-width="0.100">Industrial&#160; Revolution</text>
<line x1="429.50" y1="521.20" x2="439.00" y2="521.20" stroke="#6a6a6a" stroke-width="0.9" stroke-dasharray="3.5 2"/>
<text x="439.80" y="523.80" font-size="7.0" fill="#333" text-anchor="start" stroke="#333" stroke-width="0.196">1</text>
<text x="443.80" y="520.60" font-size="4.0" fill="#333" text-anchor="start" stroke="#333" stroke-width="0.112">st</text>
<line x1="429.50" y1="529.30" x2="439.00" y2="529.30" stroke="#f8ad9c" stroke-width="0.9" stroke-dasharray="3.5 2"/>
<text x="439.80" y="531.90" font-size="7.0" fill="#333" text-anchor="start" stroke="#333" stroke-width="0.196">2</text>
<text x="443.80" y="528.70" font-size="4.0" fill="#333" text-anchor="start" stroke="#333" stroke-width="0.112">nd</text>
<line x1="429.50" y1="537.40" x2="439.00" y2="537.40" stroke="#8c8cff" stroke-width="0.9" stroke-dasharray="3.5 2"/>
<text x="439.80" y="540.00" font-size="7.0" fill="#333" text-anchor="start" stroke="#333" stroke-width="0.196">3</text>
<text x="443.80" y="536.80" font-size="4.0" fill="#333" text-anchor="start" stroke="#333" stroke-width="0.112">rd</text>
</svg></body></html>
